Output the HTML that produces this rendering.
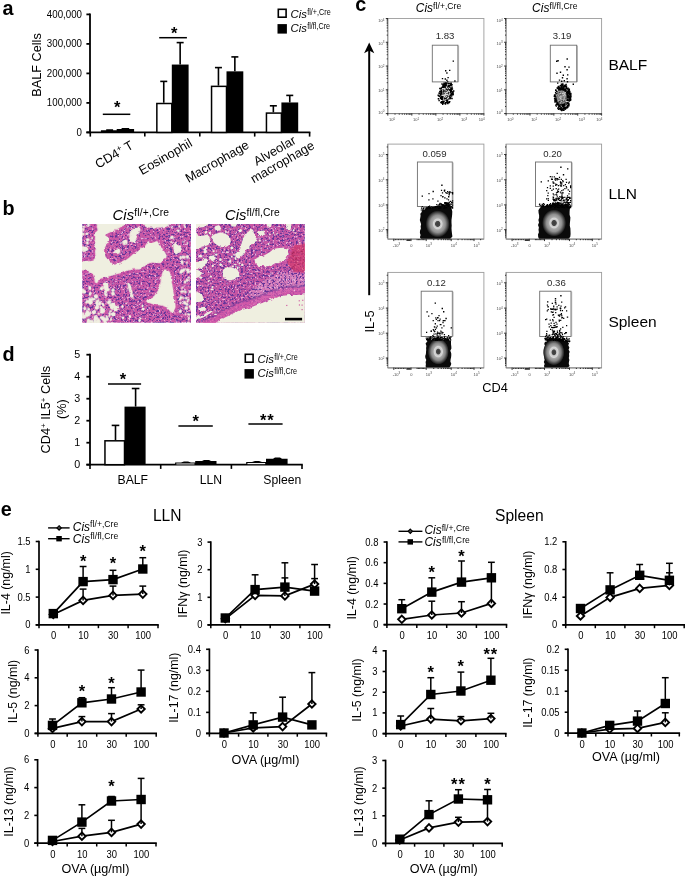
<!DOCTYPE html>
<html lang="en">
<head>
<meta charset="utf-8">
<title>Figure</title>
<style>
html,body{margin:0;padding:0;background:#fff;}
body{width:685px;height:877px;overflow:hidden;}
svg{display:block;}
svg text{font-family:"Liberation Sans", Arial, Helvetica, sans-serif;fill:#000;}
</style>
</head>
<body>
<svg width="685" height="877" viewBox="0 0 685 877">
<defs>
<radialGradient id="dg" cx="50%" cy="50%" r="50%">
<stop offset="0" stop-color="#3c3c3c"/>
<stop offset="0.19" stop-color="#484848"/>
<stop offset="0.25" stop-color="#c8c8c8"/>
<stop offset="0.36" stop-color="#d6d6d6"/>
<stop offset="0.44" stop-color="#acacac"/>
<stop offset="0.64" stop-color="#909090"/>
<stop offset="0.8" stop-color="#585858"/>
<stop offset="0.92" stop-color="#2a2a2a"/>
<stop offset="1" stop-color="#0a0a0a"/>
</radialGradient>
<radialGradient id="dg2" cx="50%" cy="50%" r="50%">
<stop offset="0" stop-color="#3c3c3c"/>
<stop offset="0.18" stop-color="#484848"/>
<stop offset="0.26" stop-color="#cacaca"/>
<stop offset="0.4" stop-color="#d6d6d6"/>
<stop offset="0.48" stop-color="#a8a8a8"/>
<stop offset="0.68" stop-color="#868686"/>
<stop offset="0.84" stop-color="#4a4a4a"/>
<stop offset="0.94" stop-color="#262626"/>
<stop offset="1" stop-color="#0a0a0a"/>
</radialGradient>
<filter id="tissue" x="0" y="0" width="100%" height="100%" color-interpolation-filters="sRGB">
<feTurbulence type="fractalNoise" baseFrequency="0.085" numOctaves="2" seed="11" result="n"/>
<feColorMatrix in="n" type="matrix" values="0 0 0 0 0.39  0 0 0 0 0.2  0 0 0 0 0.6  6 0 0 0 -2.95" result="nuc"/>
<feColorMatrix in="n" type="matrix" values="0 0 0 0 0.92  0 0 0 0 0.7  0 0 0 0 0.86  0 6 0 0 -3.55" result="pale"/>
<feMerge><feMergeNode in="SourceGraphic"/><feMergeNode in="nuc"/><feMergeNode in="pale"/></feMerge>
</filter>
<filter id="rough" x="-5%" y="-5%" width="110%" height="110%">
<feTurbulence type="fractalNoise" baseFrequency="0.045" numOctaves="2" seed="3" result="n"/>
<feDisplacementMap in="SourceGraphic" in2="n" scale="20" xChannelSelector="R" yChannelSelector="G"/>
</filter>
</defs>

<rect x="0" y="0" width="685" height="877" fill="#fff"/>
<g id="panel-a">
<text x="2.6" y="15" font-size="19.8" font-weight="bold">a</text>
<line x1="90.00" y1="13.50" x2="90.00" y2="133.30" stroke="#000" stroke-width="1.8" />
<line x1="86.40" y1="132.40" x2="90.00" y2="132.40" stroke="#000" stroke-width="1.8" />
<text transform="translate(82.00,135.80) scale(0.975,1)" font-size="10.0" text-anchor="end" >0</text>
<line x1="86.40" y1="102.90" x2="90.00" y2="102.90" stroke="#000" stroke-width="1.8" />
<text transform="translate(82.00,106.30) scale(0.975,1)" font-size="10.0" text-anchor="end" >100,000</text>
<line x1="86.40" y1="73.40" x2="90.00" y2="73.40" stroke="#000" stroke-width="1.8" />
<text transform="translate(82.00,76.80) scale(0.975,1)" font-size="10.0" text-anchor="end" >200,000</text>
<line x1="86.40" y1="43.90" x2="90.00" y2="43.90" stroke="#000" stroke-width="1.8" />
<text transform="translate(82.00,47.30) scale(0.975,1)" font-size="10.0" text-anchor="end" >300,000</text>
<line x1="86.40" y1="14.40" x2="90.00" y2="14.40" stroke="#000" stroke-width="1.8" />
<text transform="translate(82.00,17.80) scale(0.975,1)" font-size="10.0" text-anchor="end" >400,000</text>
<line x1="86.40" y1="132.40" x2="310.40" y2="132.40" stroke="#000" stroke-width="1.8" />
<line x1="90.30" y1="132.40" x2="90.30" y2="136.60" stroke="#000" stroke-width="1.6" />
<line x1="144.80" y1="132.40" x2="144.80" y2="136.60" stroke="#000" stroke-width="1.6" />
<line x1="199.80" y1="132.40" x2="199.80" y2="136.60" stroke="#000" stroke-width="1.6" />
<line x1="254.70" y1="132.40" x2="254.70" y2="136.60" stroke="#000" stroke-width="1.6" />
<line x1="309.60" y1="132.40" x2="309.60" y2="136.60" stroke="#000" stroke-width="1.6" />
<text transform="translate(41.30,65.00) rotate(-90)" font-size="12.7" text-anchor="middle" >BALF Cells</text>
<path d="M100.9,132.4 V130.2 H106.2 V129.2 H113.1 V130.2 H116.7 V128.9 H121.6 V127.9 H129.2 V128.9 H134.1 V132.4 Z" fill="#000"/>
<line x1="163.75" y1="102.75" x2="163.75" y2="81.40" stroke="#000" stroke-width="1.6" />
<line x1="160.25" y1="81.40" x2="167.25" y2="81.40" stroke="#000" stroke-width="1.6" />
<line x1="180.15" y1="64.55" x2="180.15" y2="42.60" stroke="#000" stroke-width="1.6" />
<line x1="176.65" y1="42.60" x2="183.65" y2="42.60" stroke="#000" stroke-width="1.6" />
<rect x="156.85" y="103.50" width="14.95" height="28.90" fill="#fff" stroke="#000" stroke-width="1.5" />
<rect x="171.80" y="64.55" width="16.80" height="67.85" fill="#000" stroke="none" stroke-width="0" />
<line x1="218.45" y1="85.61" x2="218.45" y2="67.60" stroke="#000" stroke-width="1.6" />
<line x1="214.95" y1="67.60" x2="221.95" y2="67.60" stroke="#000" stroke-width="1.6" />
<line x1="234.85" y1="71.34" x2="234.85" y2="56.90" stroke="#000" stroke-width="1.6" />
<line x1="231.35" y1="56.90" x2="238.35" y2="56.90" stroke="#000" stroke-width="1.6" />
<rect x="211.55" y="86.36" width="14.95" height="46.04" fill="#fff" stroke="#000" stroke-width="1.5" />
<rect x="226.50" y="71.34" width="16.80" height="61.06" fill="#000" stroke="none" stroke-width="0" />
<line x1="273.35" y1="112.34" x2="273.35" y2="105.80" stroke="#000" stroke-width="1.6" />
<line x1="269.85" y1="105.80" x2="276.85" y2="105.80" stroke="#000" stroke-width="1.6" />
<line x1="289.75" y1="102.46" x2="289.75" y2="95.40" stroke="#000" stroke-width="1.6" />
<line x1="286.25" y1="95.40" x2="293.25" y2="95.40" stroke="#000" stroke-width="1.6" />
<rect x="266.45" y="113.09" width="14.95" height="19.31" fill="#fff" stroke="#000" stroke-width="1.5" />
<rect x="281.40" y="102.46" width="16.80" height="29.94" fill="#000" stroke="none" stroke-width="0" />
<line x1="102.80" y1="114.30" x2="130.30" y2="114.30" stroke="#000" stroke-width="1.5" />
<text x="117.3" y="112.50" font-size="16.5" text-anchor="middle" font-weight="bold">*</text>
<line x1="159.20" y1="37.70" x2="186.90" y2="37.70" stroke="#000" stroke-width="1.5" />
<text x="174.1" y="38.50" font-size="16.5" text-anchor="middle" font-weight="bold">*</text>
<text transform="translate(134.4,147.8) rotate(-30)" font-size="12.8" text-anchor="end">CD4<tspan font-size="8.5" dy="-4.5">+</tspan><tspan dy="4.5"> T</tspan></text>
<text transform="translate(193.2,145.6) rotate(-30)" font-size="12.8" text-anchor="end">Eosinophil</text>
<text transform="translate(250.0,147.5) rotate(-30)" font-size="12.8" text-anchor="end">Macrophage</text>
<text transform="translate(276.8,154.4) rotate(-30)" font-size="12.8" text-anchor="middle">Alveolar</text>
<text transform="translate(284.6,165.7) rotate(-30)" font-size="12.8" text-anchor="middle">macrophage</text>
<rect x="278.30" y="9.30" width="7.80" height="7.90" fill="#fff" stroke="#000" stroke-width="1.6" />
<rect x="277.50" y="24.10" width="9.40" height="9.50" fill="#000" stroke="none" stroke-width="0" />
<text x="290.6" y="17.8" font-size="11.3" font-style="italic" >Cis</text>
<text transform="translate(307.22,14.70) scale(0.87,1)" font-size="8.3" >fl/+,Cre</text>
<text x="290.6" y="31.6" font-size="11.3" font-style="italic" >Cis</text>
<text transform="translate(307.22,28.50) scale(0.87,1)" font-size="8.3" >fl/fl,Cre</text>
</g>
<g id="panel-b">
<text x="2.6" y="215.0" font-size="19.8" font-weight="bold">b</text>
<text x="112.4" y="220.3" font-size="14.8" textLength="56.6" lengthAdjust="spacing" ><tspan font-style="italic">Cis</tspan><tspan font-size="10.3" dy="-4.3">fl/+,Cre</tspan></text>
<text x="224.9" y="220.3" font-size="14.8" textLength="54.9" lengthAdjust="spacing" ><tspan font-style="italic">Cis</tspan><tspan font-size="10.3" dy="-4.3">fl/fl,Cre</tspan></text>
<clipPath id="clipH1"><rect x="82.3" y="224.1" width="108.7" height="98.6"/></clipPath>
<g clip-path="url(#clipH1)">
<g transform="translate(80,222) scale(0.16642)">
<g filter="url(#tissue)">
<rect x="0" y="0" width="700" height="640" fill="#ca58a6"/>
</g>
<g filter="url(#rough)">
<path d="M100,-20 C129,-25 247,-26 275,-20 C303,-14 274,6 268,15 C262,24 251,26 240,33 C229,40 213,48 200,55 C187,62 165,66 160,75 C155,84 171,98 170,110 C169,122 159,136 155,145 C151,154 146,156 145,165 C144,174 146,190 150,200 C154,210 162,217 170,225 C178,233 188,245 195,250 C202,255 206,257 215,255 C224,253 239,245 250,240 C261,235 270,232 280,225 C290,218 300,208 310,200 C320,192 334,181 342,175 C350,169 352,170 360,165 C368,160 382,153 390,145 C398,137 404,118 410,115 C416,112 419,124 425,125 C431,126 438,122 445,120 C452,118 460,112 465,115 C470,118 470,128 475,135 C480,142 488,151 495,160 C502,169 511,182 515,190 C519,198 522,199 520,205 C518,211 507,218 500,225 C493,232 488,242 480,245 C472,248 459,245 450,245 C441,245 434,243 425,245 C416,247 403,250 395,255 C387,260 382,270 375,275 C368,280 364,283 355,285 C346,287 336,283 324,285 C312,287 296,290 280,295 C264,300 242,307 225,312 C208,317 194,321 180,325 C166,329 151,332 140,335 C129,338 121,340 115,345 C109,350 109,362 105,365 C101,368 93,367 90,362 C87,357 88,343 85,335 C82,327 81,319 75,312 C69,305 64,300 50,295 C36,290 0,296 -10,285 C-20,274 -17,240 -10,232 C-3,224 16,235 30,235 C44,235 65,234 75,230 C85,226 90,218 92,210 C94,202 90,189 90,180 C90,171 96,163 95,155 C94,147 86,139 85,130 C84,121 89,110 90,100 C91,90 90,79 92,70 C94,61 104,55 105,45 C106,35 101,23 100,12 C99,1 71,-15 100,-20 Z" fill="none" stroke="#d052a4" stroke-width="30" stroke-linejoin="round" opacity="0.62"/>
<path d="M507,285 C515,281 532,291 539,300 C546,309 546,323 549,340 C552,357 556,379 559,400 C562,421 566,447 569,465 C572,483 575,498 574,510 C573,522 569,535 564,540 C559,545 551,544 544,540 C537,536 532,521 524,515 C516,509 509,508 499,505 C489,502 474,502 464,500 C454,498 448,498 439,495 C430,492 417,487 409,485 C401,483 389,486 389,483 C389,480 400,471 409,465 C418,459 433,456 444,445 C455,434 467,414 474,400 C481,386 482,372 484,360 C486,348 485,338 489,325 C493,312 499,289 507,285 Z" fill="none" stroke="#d052a4" stroke-width="30" stroke-linejoin="round" opacity="0.62"/>
<path d="M100,-20 C129,-25 247,-26 275,-20 C303,-14 274,6 268,15 C262,24 251,26 240,33 C229,40 213,48 200,55 C187,62 165,66 160,75 C155,84 171,98 170,110 C169,122 159,136 155,145 C151,154 146,156 145,165 C144,174 146,190 150,200 C154,210 162,217 170,225 C178,233 188,245 195,250 C202,255 206,257 215,255 C224,253 239,245 250,240 C261,235 270,232 280,225 C290,218 300,208 310,200 C320,192 334,181 342,175 C350,169 352,170 360,165 C368,160 382,153 390,145 C398,137 404,118 410,115 C416,112 419,124 425,125 C431,126 438,122 445,120 C452,118 460,112 465,115 C470,118 470,128 475,135 C480,142 488,151 495,160 C502,169 511,182 515,190 C519,198 522,199 520,205 C518,211 507,218 500,225 C493,232 488,242 480,245 C472,248 459,245 450,245 C441,245 434,243 425,245 C416,247 403,250 395,255 C387,260 382,270 375,275 C368,280 364,283 355,285 C346,287 336,283 324,285 C312,287 296,290 280,295 C264,300 242,307 225,312 C208,317 194,321 180,325 C166,329 151,332 140,335 C129,338 121,340 115,345 C109,350 109,362 105,365 C101,368 93,367 90,362 C87,357 88,343 85,335 C82,327 81,319 75,312 C69,305 64,300 50,295 C36,290 0,296 -10,285 C-20,274 -17,240 -10,232 C-3,224 16,235 30,235 C44,235 65,234 75,230 C85,226 90,218 92,210 C94,202 90,189 90,180 C90,171 96,163 95,155 C94,147 86,139 85,130 C84,121 89,110 90,100 C91,90 90,79 92,70 C94,61 104,55 105,45 C106,35 101,23 100,12 C99,1 71,-15 100,-20 Z" fill="#efefe0" />
<path d="M507,285 C515,281 532,291 539,300 C546,309 546,323 549,340 C552,357 556,379 559,400 C562,421 566,447 569,465 C572,483 575,498 574,510 C573,522 569,535 564,540 C559,545 551,544 544,540 C537,536 532,521 524,515 C516,509 509,508 499,505 C489,502 474,502 464,500 C454,498 448,498 439,495 C430,492 417,487 409,485 C401,483 389,486 389,483 C389,480 400,471 409,465 C418,459 433,456 444,445 C455,434 467,414 474,400 C481,386 482,372 484,360 C486,348 485,338 489,325 C493,312 499,289 507,285 Z" fill="#efefe0" />
<path d="M298,70 C301,56 316,42 325,35 C334,28 348,25 355,28 C362,31 366,46 364,55 C362,64 350,70 345,80 C340,90 342,109 335,115 C328,121 311,126 305,118 C299,110 295,84 298,70 Z" fill="#efefe0" />
<path d="M390,-10 C412,-17 513,-16 535,-10 C557,-4 542,21 520,28 C498,35 422,36 400,30 C378,24 368,-3 390,-10 Z" fill="#efefe0" />
<path d="M255,115 C258,110 275,106 280,108 C285,110 288,125 285,130 C282,135 267,140 262,138 C257,136 252,120 255,115 Z" fill="#efefe0" />
<path d="M208,170 C212,165 231,157 236,160 C241,163 244,181 240,186 C236,191 219,195 214,192 C209,189 204,175 208,170 Z" fill="#efefe0" />
<path d="M564,125 C571,122 596,142 604,150 C612,158 614,168 610,175 C606,182 588,191 580,190 C572,189 567,181 564,170 C561,159 557,128 564,125 Z" fill="#efefe0" />
<path d="M545,85 C547,82 557,81 560,83 C563,85 564,94 562,97 C560,100 550,101 547,99 C544,97 543,88 545,85 Z" fill="#efefe0" />
<path d="M-10,145 C-2,140 31,146 40,150 C49,154 53,167 45,172 C37,177 -1,186 -10,182 C-19,178 -18,150 -10,145 Z" fill="#efefe0" />
<path d="M145,365 C150,360 167,362 170,370 C173,378 168,405 165,415 C162,425 154,432 150,430 C146,428 141,411 140,400 C139,389 140,370 145,365 Z" fill="#efefe0" />
<path d="M190,490 C196,488 225,502 230,510 C235,518 226,533 220,535 C214,537 200,528 195,520 C190,512 184,492 190,490 Z" fill="#efefe0" />
<path d="M285,375 C284,362 294,360 300,372 C306,384 321,437 322,450 C323,463 314,464 308,452 C302,440 286,388 285,375 Z" fill="#efefe0" />
</g>
<g fill="#efefe0"><ellipse cx="45" cy="543" rx="12" ry="10" transform="rotate(55 45 543)"/><ellipse cx="198" cy="497" rx="15" ry="8" transform="rotate(135 198 497)"/><ellipse cx="58" cy="396" rx="9" ry="11" transform="rotate(17 58 396)"/><ellipse cx="41" cy="557" rx="14" ry="12" transform="rotate(111 41 557)"/><ellipse cx="200" cy="554" rx="14" ry="12" transform="rotate(8 200 554)"/><ellipse cx="192" cy="511" rx="12" ry="12" transform="rotate(94 192 511)"/><ellipse cx="18" cy="554" rx="7" ry="13" transform="rotate(5 18 554)"/><ellipse cx="98" cy="514" rx="9" ry="10" transform="rotate(47 98 514)"/><ellipse cx="138" cy="496" rx="13" ry="7" transform="rotate(50 138 496)"/><ellipse cx="53" cy="603" rx="14" ry="13" transform="rotate(148 53 603)"/><ellipse cx="198" cy="410" rx="11" ry="11" transform="rotate(99 198 410)"/><ellipse cx="51" cy="593" rx="14" ry="10" transform="rotate(93 51 593)"/><ellipse cx="192" cy="503" rx="9" ry="10" transform="rotate(68 192 503)"/><ellipse cx="19" cy="415" rx="12" ry="15" transform="rotate(126 19 415)"/><ellipse cx="15" cy="410" rx="11" ry="11" transform="rotate(146 15 410)"/><ellipse cx="127" cy="515" rx="12" ry="8" transform="rotate(43 127 515)"/><ellipse cx="131" cy="574" rx="9" ry="13" transform="rotate(78 131 574)"/><ellipse cx="60" cy="431" rx="14" ry="8" transform="rotate(109 60 431)"/><ellipse cx="84" cy="542" rx="12" ry="14" transform="rotate(61 84 542)"/><ellipse cx="90" cy="608" rx="15" ry="11" transform="rotate(88 90 608)"/><ellipse cx="105" cy="476" rx="8" ry="14" transform="rotate(41 105 476)"/><ellipse cx="118" cy="489" rx="10" ry="13" transform="rotate(14 118 489)"/><ellipse cx="170" cy="406" rx="8" ry="9" transform="rotate(107 170 406)"/><ellipse cx="60" cy="480" rx="14" ry="12" transform="rotate(37 60 480)"/><ellipse cx="197" cy="555" rx="10" ry="8" transform="rotate(166 197 555)"/><ellipse cx="112" cy="552" rx="6" ry="8" transform="rotate(93 112 552)"/><ellipse cx="162" cy="585" rx="11" ry="10" transform="rotate(148 162 585)"/><ellipse cx="182" cy="498" rx="7" ry="11" transform="rotate(35 182 498)"/><ellipse cx="157" cy="397" rx="12" ry="15" transform="rotate(6 157 397)"/><ellipse cx="63" cy="465" rx="8" ry="15" transform="rotate(107 63 465)"/><ellipse cx="62" cy="482" rx="15" ry="14" transform="rotate(34 62 482)"/><ellipse cx="40" cy="480" rx="8" ry="12" transform="rotate(36 40 480)"/><ellipse cx="27" cy="421" rx="9" ry="9" transform="rotate(83 27 421)"/><ellipse cx="88" cy="586" rx="12" ry="8" transform="rotate(96 88 586)"/><ellipse cx="52" cy="555" rx="13" ry="11" transform="rotate(129 52 555)"/><ellipse cx="177" cy="561" rx="13" ry="6" transform="rotate(118 177 561)"/><ellipse cx="175" cy="481" rx="11" ry="14" transform="rotate(59 175 481)"/><ellipse cx="61" cy="545" rx="9" ry="6" transform="rotate(99 61 545)"/><ellipse cx="43" cy="551" rx="15" ry="13" transform="rotate(140 43 551)"/><ellipse cx="105" cy="518" rx="11" ry="7" transform="rotate(152 105 518)"/><ellipse cx="151" cy="603" rx="9" ry="12" transform="rotate(134 151 603)"/><ellipse cx="155" cy="436" rx="12" ry="9" transform="rotate(51 155 436)"/><ellipse cx="80" cy="463" rx="15" ry="7" transform="rotate(19 80 463)"/><ellipse cx="135" cy="530" rx="13" ry="15" transform="rotate(129 135 530)"/><ellipse cx="130" cy="399" rx="12" ry="10" transform="rotate(132 130 399)"/><ellipse cx="109" cy="583" rx="7" ry="6" transform="rotate(169 109 583)"/><ellipse cx="95" cy="448" rx="12" ry="13" transform="rotate(109 95 448)"/><ellipse cx="99" cy="446" rx="9" ry="10" transform="rotate(161 99 446)"/><ellipse cx="184" cy="536" rx="6" ry="8" transform="rotate(95 184 536)"/><ellipse cx="147" cy="586" rx="13" ry="12" transform="rotate(158 147 586)"/><ellipse cx="138" cy="580" rx="12" ry="12" transform="rotate(62 138 580)"/><ellipse cx="104" cy="502" rx="9" ry="9" transform="rotate(134 104 502)"/><ellipse cx="193" cy="608" rx="6" ry="9" transform="rotate(79 193 608)"/><ellipse cx="177" cy="549" rx="7" ry="8" transform="rotate(133 177 549)"/><ellipse cx="70" cy="598" rx="13" ry="10" transform="rotate(27 70 598)"/><ellipse cx="198" cy="431" rx="10" ry="12" transform="rotate(95 198 431)"/><ellipse cx="133" cy="542" rx="8" ry="15" transform="rotate(82 133 542)"/><ellipse cx="110" cy="598" rx="15" ry="14" transform="rotate(129 110 598)"/><ellipse cx="51" cy="524" rx="8" ry="9" transform="rotate(100 51 524)"/><ellipse cx="101" cy="489" rx="12" ry="9" transform="rotate(44 101 489)"/><ellipse cx="138" cy="529" rx="7" ry="15" transform="rotate(55 138 529)"/><ellipse cx="20" cy="569" rx="14" ry="12" transform="rotate(4 20 569)"/><ellipse cx="28" cy="520" rx="10" ry="10" transform="rotate(115 28 520)"/><ellipse cx="59" cy="397" rx="11" ry="7" transform="rotate(79 59 397)"/><ellipse cx="49" cy="475" rx="6" ry="7" transform="rotate(146 49 475)"/><ellipse cx="161" cy="572" rx="11" ry="6" transform="rotate(48 161 572)"/><ellipse cx="92" cy="585" rx="8" ry="11" transform="rotate(149 92 585)"/><ellipse cx="186" cy="585" rx="6" ry="11" transform="rotate(20 186 585)"/><ellipse cx="95" cy="574" rx="15" ry="12" transform="rotate(38 95 574)"/><ellipse cx="25" cy="570" rx="11" ry="12" transform="rotate(120 25 570)"/></g>
<g fill="#efefe0"><ellipse cx="646" cy="477" rx="6" ry="6" transform="rotate(73 646 477)"/><ellipse cx="620" cy="457" rx="11" ry="5" transform="rotate(17 620 457)"/><ellipse cx="613" cy="240" rx="11" ry="8" transform="rotate(90 613 240)"/><ellipse cx="604" cy="215" rx="8" ry="10" transform="rotate(167 604 215)"/><ellipse cx="627" cy="213" rx="7" ry="8" transform="rotate(64 627 213)"/><ellipse cx="628" cy="483" rx="10" ry="9" transform="rotate(20 628 483)"/><ellipse cx="622" cy="290" rx="9" ry="10" transform="rotate(155 622 290)"/><ellipse cx="636" cy="458" rx="6" ry="10" transform="rotate(126 636 458)"/><ellipse cx="633" cy="554" rx="8" ry="5" transform="rotate(71 633 554)"/><ellipse cx="646" cy="289" rx="10" ry="11" transform="rotate(136 646 289)"/><ellipse cx="641" cy="246" rx="7" ry="6" transform="rotate(118 641 246)"/><ellipse cx="664" cy="525" rx="5" ry="7" transform="rotate(157 664 525)"/><ellipse cx="618" cy="210" rx="8" ry="10" transform="rotate(46 618 210)"/><ellipse cx="663" cy="420" rx="11" ry="6" transform="rotate(131 663 420)"/><ellipse cx="638" cy="518" rx="10" ry="11" transform="rotate(92 638 518)"/><ellipse cx="662" cy="298" rx="9" ry="7" transform="rotate(171 662 298)"/><ellipse cx="655" cy="349" rx="6" ry="5" transform="rotate(108 655 349)"/><ellipse cx="665" cy="510" rx="12" ry="10" transform="rotate(27 665 510)"/><ellipse cx="614" cy="418" rx="8" ry="12" transform="rotate(75 614 418)"/><ellipse cx="608" cy="298" rx="8" ry="9" transform="rotate(126 608 298)"/><ellipse cx="651" cy="467" rx="7" ry="8" transform="rotate(96 651 467)"/><ellipse cx="615" cy="396" rx="5" ry="11" transform="rotate(52 615 396)"/><ellipse cx="602" cy="537" rx="9" ry="11" transform="rotate(35 602 537)"/><ellipse cx="650" cy="607" rx="8" ry="8" transform="rotate(0 650 607)"/><ellipse cx="653" cy="555" rx="7" ry="11" transform="rotate(117 653 555)"/><ellipse cx="613" cy="293" rx="10" ry="11" transform="rotate(123 613 293)"/><ellipse cx="646" cy="211" rx="11" ry="6" transform="rotate(85 646 211)"/><ellipse cx="631" cy="360" rx="9" ry="9" transform="rotate(177 631 360)"/><ellipse cx="605" cy="305" rx="6" ry="10" transform="rotate(117 605 305)"/><ellipse cx="654" cy="581" rx="6" ry="11" transform="rotate(19 654 581)"/><ellipse cx="651" cy="302" rx="6" ry="10" transform="rotate(67 651 302)"/><ellipse cx="607" cy="453" rx="10" ry="9" transform="rotate(34 607 453)"/><ellipse cx="634" cy="492" rx="7" ry="10" transform="rotate(85 634 492)"/><ellipse cx="663" cy="414" rx="5" ry="11" transform="rotate(72 663 414)"/><ellipse cx="604" cy="486" rx="8" ry="6" transform="rotate(154 604 486)"/><ellipse cx="645" cy="209" rx="10" ry="9" transform="rotate(113 645 209)"/><ellipse cx="633" cy="420" rx="9" ry="8" transform="rotate(5 633 420)"/><ellipse cx="643" cy="350" rx="7" ry="10" transform="rotate(162 643 350)"/><ellipse cx="644" cy="495" rx="9" ry="8" transform="rotate(59 644 495)"/><ellipse cx="601" cy="464" rx="8" ry="7" transform="rotate(150 601 464)"/><ellipse cx="661" cy="507" rx="7" ry="6" transform="rotate(3 661 507)"/><ellipse cx="654" cy="334" rx="7" ry="7" transform="rotate(12 654 334)"/><ellipse cx="631" cy="283" rx="5" ry="6" transform="rotate(39 631 283)"/><ellipse cx="615" cy="246" rx="9" ry="6" transform="rotate(103 615 246)"/></g>
<g fill="#efefe0"><ellipse cx="23" cy="28" rx="9" ry="6" transform="rotate(4 23 28)"/><ellipse cx="20" cy="42" rx="9" ry="6" transform="rotate(52 20 42)"/><ellipse cx="47" cy="105" rx="11" ry="9" transform="rotate(2 47 105)"/><ellipse cx="44" cy="125" rx="10" ry="9" transform="rotate(106 44 125)"/><ellipse cx="17" cy="72" rx="10" ry="10" transform="rotate(148 17 72)"/><ellipse cx="51" cy="18" rx="9" ry="10" transform="rotate(65 51 18)"/><ellipse cx="73" cy="97" rx="8" ry="6" transform="rotate(87 73 97)"/><ellipse cx="42" cy="71" rx="7" ry="10" transform="rotate(75 42 71)"/><ellipse cx="18" cy="47" rx="6" ry="7" transform="rotate(35 18 47)"/></g>
<g fill="#efefe0"><ellipse cx="632" cy="31" rx="6" ry="5" transform="rotate(169 632 31)"/><ellipse cx="620" cy="119" rx="4" ry="8" transform="rotate(108 620 119)"/><ellipse cx="596" cy="26" rx="9" ry="5" transform="rotate(93 596 26)"/><ellipse cx="627" cy="19" rx="7" ry="7" transform="rotate(111 627 19)"/><ellipse cx="548" cy="120" rx="6" ry="5" transform="rotate(8 548 120)"/><ellipse cx="552" cy="33" rx="9" ry="4" transform="rotate(59 552 33)"/><ellipse cx="646" cy="126" rx="5" ry="6" transform="rotate(96 646 126)"/><ellipse cx="548" cy="95" rx="8" ry="5" transform="rotate(94 548 95)"/><ellipse cx="591" cy="52" rx="8" ry="8" transform="rotate(37 591 52)"/></g>
<g fill="#efefe0"><ellipse cx="258" cy="575" rx="7" ry="8" transform="rotate(20 258 575)"/><ellipse cx="376" cy="504" rx="9" ry="6" transform="rotate(97 376 504)"/><ellipse cx="364" cy="580" rx="8" ry="4" transform="rotate(147 364 580)"/><ellipse cx="255" cy="507" rx="8" ry="7" transform="rotate(59 255 507)"/><ellipse cx="358" cy="592" rx="8" ry="8" transform="rotate(48 358 592)"/><ellipse cx="300" cy="568" rx="7" ry="9" transform="rotate(167 300 568)"/><ellipse cx="380" cy="523" rx="9" ry="8" transform="rotate(132 380 523)"/><ellipse cx="277" cy="489" rx="4" ry="4" transform="rotate(116 277 489)"/></g>
</g></g>
<clipPath id="clipH2"><rect x="196.0" y="224.1" width="108.8" height="98.6"/></clipPath>
<g clip-path="url(#clipH2)">
<g transform="translate(194,222) scale(0.16642)">
<g filter="url(#tissue)">
<rect x="0" y="0" width="700" height="640" fill="#c656a4"/>
<path d="M330,420 C400,350 500,300 600,300 L672,320 L672,400 C560,410 450,450 360,500 Z" fill="#e6a6d2" opacity="0.45"/>
</g>
<g filter="url(#rough)">
<path d="M594,150 C613,140 674,118 690,140 C706,162 701,255 690,282 C679,309 642,300 624,300 C606,300 595,290 584,280 C573,270 562,253 560,240 C558,227 568,215 574,200 C580,185 575,160 594,150 Z" fill="#d63c6c" opacity="0.72"/>
<path d="M60,618 L135,581 L175,558 L225,533 L275,508 L324,498 L374,478 L424,458 L474,438 L524,423 L574,416 L624,416 L700,408" fill="none" stroke="#d658aa" stroke-width="46" opacity="0.7"/>
<path d="M60,590 L135,553 L175,530 L225,505 L275,480 L324,470 L374,450 L424,430 L474,410 L524,395 L574,388 L624,388 L700,380" fill="none" stroke="#643392" stroke-width="8" opacity="0.7"/>
<path d="M364,235 C363,228 366,225 374,220 C382,215 402,211 414,205 C426,199 438,192 449,185 C460,178 466,170 479,165 C492,160 510,156 524,155 C538,154 556,155 564,160 C572,165 570,177 569,185 C568,193 563,202 559,210 C555,218 552,229 544,235 C536,241 524,242 514,245 C504,248 495,247 484,250 C473,253 461,262 449,265 C437,268 426,266 414,265 C402,264 387,265 379,260 C371,255 365,242 364,235 Z" fill="none" stroke="#d052a4" stroke-width="24" opacity="0.6"/>
</g>
<g filter="url(#rough)">
<path d="M60,640 L135,603 L175,580 L225,555 L275,530 L324,520 L374,500 L424,480 L474,460 L524,445 L574,438 L624,438 L700,430 L700,640 Z" fill="#efefe0"/>
<path d="M364,235 C363,228 366,225 374,220 C382,215 402,211 414,205 C426,199 438,192 449,185 C460,178 466,170 479,165 C492,160 510,156 524,155 C538,154 556,155 564,160 C572,165 570,177 569,185 C568,193 563,202 559,210 C555,218 552,229 544,235 C536,241 524,242 514,245 C504,248 495,247 484,250 C473,253 461,262 449,265 C437,268 426,266 414,265 C402,264 387,265 379,260 C371,255 365,242 364,235 Z" fill="#efefe0" />
<path d="M172,300 C173,292 174,287 180,282 C186,277 198,272 210,272 C222,272 240,275 250,280 C260,285 265,292 268,300 C271,308 275,318 270,325 C265,332 252,341 240,345 C228,349 211,352 200,350 C189,348 180,338 175,330 C170,322 171,308 172,300 Z" fill="#efefe0" />
<path d="M342,45 C349,41 350,44 354,50 C358,56 360,69 364,80 C368,91 382,107 380,115 C378,123 360,125 354,130 C348,135 349,138 342,145 C335,152 320,165 310,175 C300,185 292,202 285,205 C278,208 271,204 270,195 C269,186 276,166 280,150 C284,134 290,112 295,100 C300,88 302,84 310,75 C318,66 335,49 342,45 Z" fill="#efefe0" />
<path d="M380,60 C384,55 407,52 414,55 C421,58 428,70 424,75 C420,80 397,88 390,85 C383,82 376,65 380,60 Z" fill="#efefe0" />
<path d="M-10,-10 C5,-18 66,-17 80,-10 C94,-3 81,23 75,30 C69,37 59,30 45,32 C31,34 -1,47 -10,40 C-19,33 -25,-2 -10,-10 Z" fill="#efefe0" />
<path d="M-10,75 C0,61 35,82 50,82 C65,82 72,72 80,75 C88,78 95,90 97,100 C99,110 97,124 92,132 C87,140 75,141 65,145 C55,149 42,154 30,157 C18,160 -3,179 -10,165 C-17,151 -20,89 -10,75 Z" fill="#efefe0" />
<path d="M115,80 C123,72 149,64 165,65 C181,66 201,76 210,85 C219,94 222,110 220,120 C218,130 209,140 200,145 C191,150 176,152 165,150 C154,148 143,141 135,135 C127,129 118,124 115,115 C112,106 107,88 115,80 Z" fill="#efefe0" />
<path d="M125,30 C128,24 144,18 150,20 C156,22 162,39 160,45 C158,51 141,58 135,55 C129,52 122,36 125,30 Z" fill="#efefe0" />
<path d="M220,-10 C226,-15 257,-16 262,-10 C267,-4 258,19 252,24 C246,29 231,28 226,22 C221,16 214,-5 220,-10 Z" fill="#efefe0" />
<path d="M-10,235 C-2,230 28,242 40,240 C52,238 53,222 60,220 C67,218 79,218 80,225 C81,232 72,251 65,260 C58,269 52,278 40,280 C28,282 -2,278 -10,270 C-18,262 -18,240 -10,235 Z" fill="#efefe0" />
<path d="M95,210 C97,204 114,198 120,200 C126,202 132,214 130,220 C128,226 116,237 110,235 C104,233 93,216 95,210 Z" fill="#efefe0" />
<path d="M-10,300 C-1,294 38,295 45,300 C52,305 39,324 30,330 C21,336 -3,340 -10,335 C-17,330 -19,306 -10,300 Z" fill="#efefe0" />
<path d="M-10,415 C-1,408 34,426 45,435 C56,444 58,462 55,470 C52,478 41,479 30,480 C19,481 -3,486 -10,475 C-17,464 -19,422 -10,415 Z" fill="#efefe0" />
<path d="M30,520 C34,515 58,508 65,510 C72,512 74,525 70,530 C66,535 47,542 40,540 C33,538 26,525 30,520 Z" fill="#efefe0" />
<path d="M-10,570 C-2,566 22,571 40,565 C58,559 89,539 100,535 C111,531 115,534 107,541 C99,548 70,568 50,576 C30,584 0,587 -10,586 C-20,585 -18,574 -10,570 Z" fill="#efefe0" />
<path d="M552,-10 C556,-18 579,-19 584,-10 C589,-1 584,37 580,45 C576,53 565,49 560,40 C555,31 548,-2 552,-10 Z" fill="#efefe0" />
<path d="M436,-10 C441,-15 466,-16 470,-10 C474,-4 467,19 462,24 C457,29 444,28 440,22 C436,16 431,-5 436,-10 Z" fill="#efefe0" />
<path d="M250,190 C253,185 266,182 270,186 C274,190 277,207 274,212 C271,217 258,220 254,216 C250,212 247,195 250,190 Z" fill="#efefe0" />
</g>
<g fill="#efefe0"><ellipse cx="46" cy="140" rx="4" ry="6" transform="rotate(45 46 140)"/><ellipse cx="160" cy="93" rx="7" ry="8" transform="rotate(105 160 93)"/><ellipse cx="233" cy="267" rx="7" ry="6" transform="rotate(1 233 267)"/><ellipse cx="215" cy="236" rx="10" ry="6" transform="rotate(160 215 236)"/><ellipse cx="274" cy="248" rx="6" ry="6" transform="rotate(135 274 248)"/><ellipse cx="113" cy="263" rx="6" ry="8" transform="rotate(23 113 263)"/><ellipse cx="94" cy="222" rx="4" ry="6" transform="rotate(42 94 222)"/><ellipse cx="240" cy="198" rx="7" ry="4" transform="rotate(7 240 198)"/><ellipse cx="64" cy="166" rx="7" ry="9" transform="rotate(82 64 166)"/><ellipse cx="192" cy="59" rx="9" ry="5" transform="rotate(78 192 59)"/><ellipse cx="132" cy="101" rx="8" ry="6" transform="rotate(75 132 101)"/><ellipse cx="227" cy="208" rx="5" ry="6" transform="rotate(77 227 208)"/><ellipse cx="249" cy="219" rx="5" ry="10" transform="rotate(158 249 219)"/><ellipse cx="290" cy="258" rx="7" ry="8" transform="rotate(46 290 258)"/><ellipse cx="67" cy="178" rx="10" ry="9" transform="rotate(124 67 178)"/><ellipse cx="38" cy="204" rx="7" ry="9" transform="rotate(42 38 204)"/><ellipse cx="248" cy="256" rx="8" ry="4" transform="rotate(7 248 256)"/><ellipse cx="297" cy="153" rx="8" ry="4" transform="rotate(16 297 153)"/><ellipse cx="263" cy="276" rx="10" ry="5" transform="rotate(104 263 276)"/><ellipse cx="118" cy="175" rx="6" ry="7" transform="rotate(67 118 175)"/><ellipse cx="67" cy="93" rx="9" ry="5" transform="rotate(17 67 93)"/><ellipse cx="279" cy="52" rx="10" ry="8" transform="rotate(142 279 52)"/><ellipse cx="89" cy="108" rx="7" ry="5" transform="rotate(136 89 108)"/><ellipse cx="160" cy="256" rx="8" ry="9" transform="rotate(117 160 256)"/><ellipse cx="112" cy="91" rx="9" ry="8" transform="rotate(121 112 91)"/><ellipse cx="94" cy="66" rx="7" ry="6" transform="rotate(150 94 66)"/><ellipse cx="227" cy="156" rx="9" ry="8" transform="rotate(67 227 156)"/><ellipse cx="72" cy="62" rx="7" ry="10" transform="rotate(42 72 62)"/><ellipse cx="41" cy="206" rx="6" ry="9" transform="rotate(108 41 206)"/><ellipse cx="185" cy="86" rx="7" ry="5" transform="rotate(154 185 86)"/><ellipse cx="198" cy="181" rx="5" ry="6" transform="rotate(16 198 181)"/><ellipse cx="72" cy="157" rx="8" ry="7" transform="rotate(141 72 157)"/><ellipse cx="159" cy="226" rx="8" ry="8" transform="rotate(178 159 226)"/><ellipse cx="134" cy="196" rx="8" ry="6" transform="rotate(177 134 196)"/></g>
<g fill="#efefe0"><ellipse cx="40" cy="334" rx="7" ry="9" transform="rotate(106 40 334)"/><ellipse cx="43" cy="468" rx="9" ry="9" transform="rotate(161 43 468)"/><ellipse cx="111" cy="391" rx="5" ry="7" transform="rotate(59 111 391)"/><ellipse cx="23" cy="381" rx="5" ry="5" transform="rotate(109 23 381)"/><ellipse cx="89" cy="354" rx="4" ry="8" transform="rotate(47 89 354)"/><ellipse cx="29" cy="463" rx="8" ry="4" transform="rotate(148 29 463)"/><ellipse cx="39" cy="447" rx="7" ry="7" transform="rotate(21 39 447)"/><ellipse cx="19" cy="294" rx="7" ry="8" transform="rotate(145 19 294)"/><ellipse cx="102" cy="327" rx="5" ry="8" transform="rotate(118 102 327)"/><ellipse cx="129" cy="555" rx="4" ry="9" transform="rotate(97 129 555)"/><ellipse cx="108" cy="405" rx="5" ry="9" transform="rotate(87 108 405)"/><ellipse cx="31" cy="468" rx="7" ry="8" transform="rotate(25 31 468)"/></g>
<g fill="#efefe0"><ellipse cx="413" cy="56" rx="3" ry="5" transform="rotate(167 413 56)"/><ellipse cx="477" cy="65" rx="6" ry="4" transform="rotate(102 477 65)"/><ellipse cx="395" cy="111" rx="7" ry="5" transform="rotate(37 395 111)"/><ellipse cx="483" cy="77" rx="4" ry="3" transform="rotate(101 483 77)"/><ellipse cx="499" cy="71" rx="5" ry="4" transform="rotate(158 499 71)"/><ellipse cx="611" cy="66" rx="6" ry="3" transform="rotate(147 611 66)"/><ellipse cx="456" cy="74" rx="4" ry="6" transform="rotate(109 456 74)"/><ellipse cx="447" cy="132" rx="6" ry="5" transform="rotate(87 447 132)"/><ellipse cx="636" cy="125" rx="6" ry="4" transform="rotate(72 636 125)"/><ellipse cx="598" cy="50" rx="5" ry="7" transform="rotate(23 598 50)"/></g>
<g fill="#f0c4e2"><ellipse cx="654" cy="308" rx="2" ry="3" transform="rotate(167 654 308)"/><ellipse cx="485" cy="395" rx="5" ry="3" transform="rotate(58 485 395)"/><ellipse cx="504" cy="309" rx="5" ry="3" transform="rotate(19 504 309)"/><ellipse cx="396" cy="375" rx="4" ry="5" transform="rotate(131 396 375)"/><ellipse cx="462" cy="313" rx="4" ry="5" transform="rotate(22 462 313)"/><ellipse cx="595" cy="348" rx="5" ry="5" transform="rotate(126 595 348)"/><ellipse cx="393" cy="396" rx="3" ry="4" transform="rotate(4 393 396)"/><ellipse cx="386" cy="388" rx="2" ry="4" transform="rotate(153 386 388)"/><ellipse cx="560" cy="324" rx="2" ry="3" transform="rotate(23 560 324)"/><ellipse cx="603" cy="410" rx="5" ry="4" transform="rotate(9 603 410)"/><ellipse cx="557" cy="400" rx="3" ry="3" transform="rotate(98 557 400)"/><ellipse cx="470" cy="307" rx="5" ry="4" transform="rotate(69 470 307)"/><ellipse cx="338" cy="365" rx="2" ry="5" transform="rotate(141 338 365)"/><ellipse cx="644" cy="346" rx="5" ry="3" transform="rotate(20 644 346)"/><ellipse cx="522" cy="332" rx="4" ry="2" transform="rotate(81 522 332)"/><ellipse cx="431" cy="386" rx="2" ry="4" transform="rotate(43 431 386)"/><ellipse cx="518" cy="399" rx="4" ry="2" transform="rotate(157 518 399)"/><ellipse cx="503" cy="395" rx="5" ry="3" transform="rotate(177 503 395)"/><ellipse cx="541" cy="310" rx="4" ry="3" transform="rotate(121 541 310)"/><ellipse cx="589" cy="330" rx="3" ry="4" transform="rotate(87 589 330)"/><ellipse cx="410" cy="380" rx="3" ry="2" transform="rotate(122 410 380)"/><ellipse cx="564" cy="376" rx="3" ry="4" transform="rotate(0 564 376)"/><ellipse cx="505" cy="358" rx="3" ry="5" transform="rotate(36 505 358)"/><ellipse cx="390" cy="400" rx="2" ry="5" transform="rotate(147 390 400)"/><ellipse cx="404" cy="411" rx="4" ry="3" transform="rotate(93 404 411)"/><ellipse cx="612" cy="338" rx="5" ry="2" transform="rotate(89 612 338)"/></g>
<g fill="#a8285a"><ellipse cx="612" cy="241" rx="3" ry="3" transform="rotate(94 612 241)"/><ellipse cx="606" cy="258" rx="3" ry="5" transform="rotate(87 606 258)"/><ellipse cx="658" cy="164" rx="4" ry="3" transform="rotate(66 658 164)"/><ellipse cx="640" cy="229" rx="3" ry="4" transform="rotate(80 640 229)"/><ellipse cx="616" cy="226" rx="4" ry="2" transform="rotate(9 616 226)"/><ellipse cx="652" cy="179" rx="4" ry="3" transform="rotate(134 652 179)"/><ellipse cx="602" cy="276" rx="3" ry="4" transform="rotate(58 602 276)"/><ellipse cx="602" cy="265" rx="4" ry="2" transform="rotate(123 602 265)"/><ellipse cx="599" cy="227" rx="4" ry="3" transform="rotate(109 599 227)"/><ellipse cx="663" cy="194" rx="2" ry="3" transform="rotate(120 663 194)"/><ellipse cx="654" cy="182" rx="3" ry="3" transform="rotate(162 654 182)"/><ellipse cx="617" cy="181" rx="4" ry="3" transform="rotate(177 617 181)"/><ellipse cx="654" cy="187" rx="4" ry="3" transform="rotate(154 654 187)"/><ellipse cx="653" cy="247" rx="3" ry="4" transform="rotate(96 653 247)"/><ellipse cx="603" cy="202" rx="2" ry="3" transform="rotate(144 603 202)"/><ellipse cx="657" cy="226" rx="5" ry="3" transform="rotate(80 657 226)"/><ellipse cx="596" cy="205" rx="4" ry="4" transform="rotate(133 596 205)"/><ellipse cx="594" cy="199" rx="3" ry="4" transform="rotate(82 594 199)"/><ellipse cx="637" cy="162" rx="4" ry="2" transform="rotate(77 637 162)"/><ellipse cx="625" cy="255" rx="5" ry="4" transform="rotate(18 625 255)"/><ellipse cx="592" cy="189" rx="4" ry="3" transform="rotate(157 592 189)"/><ellipse cx="643" cy="179" rx="3" ry="3" transform="rotate(145 643 179)"/><ellipse cx="596" cy="267" rx="3" ry="4" transform="rotate(34 596 267)"/><ellipse cx="628" cy="212" rx="4" ry="2" transform="rotate(166 628 212)"/><ellipse cx="656" cy="279" rx="4" ry="4" transform="rotate(88 656 279)"/><ellipse cx="600" cy="184" rx="4" ry="5" transform="rotate(131 600 184)"/><ellipse cx="597" cy="181" rx="3" ry="3" transform="rotate(151 597 181)"/><ellipse cx="610" cy="227" rx="3" ry="3" transform="rotate(164 610 227)"/><ellipse cx="593" cy="187" rx="2" ry="3" transform="rotate(123 593 187)"/><ellipse cx="640" cy="215" rx="2" ry="4" transform="rotate(137 640 215)"/><ellipse cx="617" cy="246" rx="4" ry="2" transform="rotate(9 617 246)"/><ellipse cx="614" cy="218" rx="4" ry="5" transform="rotate(94 614 218)"/><ellipse cx="591" cy="279" rx="3" ry="5" transform="rotate(4 591 279)"/><ellipse cx="658" cy="247" rx="4" ry="4" transform="rotate(88 658 247)"/><ellipse cx="600" cy="207" rx="2" ry="2" transform="rotate(36 600 207)"/><ellipse cx="647" cy="176" rx="5" ry="4" transform="rotate(114 647 176)"/><ellipse cx="630" cy="191" rx="4" ry="2" transform="rotate(9 630 191)"/><ellipse cx="666" cy="203" rx="3" ry="3" transform="rotate(95 666 203)"/><ellipse cx="640" cy="268" rx="4" ry="3" transform="rotate(58 640 268)"/><ellipse cx="637" cy="218" rx="3" ry="3" transform="rotate(16 637 218)"/></g>
<g fill="#f08aa6"><ellipse cx="656" cy="182" rx="4" ry="2" transform="rotate(155 656 182)"/><ellipse cx="622" cy="238" rx="3" ry="3" transform="rotate(49 622 238)"/><ellipse cx="620" cy="206" rx="3" ry="2" transform="rotate(161 620 206)"/><ellipse cx="652" cy="279" rx="2" ry="4" transform="rotate(113 652 279)"/><ellipse cx="625" cy="247" rx="2" ry="3" transform="rotate(77 625 247)"/><ellipse cx="638" cy="192" rx="2" ry="3" transform="rotate(25 638 192)"/><ellipse cx="595" cy="160" rx="4" ry="3" transform="rotate(10 595 160)"/><ellipse cx="661" cy="251" rx="3" ry="3" transform="rotate(130 661 251)"/><ellipse cx="638" cy="271" rx="2" ry="2" transform="rotate(155 638 271)"/><ellipse cx="652" cy="160" rx="3" ry="3" transform="rotate(116 652 160)"/><ellipse cx="662" cy="277" rx="2" ry="2" transform="rotate(63 662 277)"/><ellipse cx="630" cy="264" rx="4" ry="2" transform="rotate(34 630 264)"/><ellipse cx="611" cy="270" rx="2" ry="2" transform="rotate(38 611 270)"/><ellipse cx="665" cy="205" rx="3" ry="3" transform="rotate(129 665 205)"/><ellipse cx="628" cy="164" rx="3" ry="4" transform="rotate(105 628 164)"/><ellipse cx="634" cy="170" rx="2" ry="2" transform="rotate(116 634 170)"/></g>
<g fill="#cf5aa0"><rect x="629" y="470" width="7" height="7"/><rect x="650" y="467" width="7" height="7"/><rect x="630" y="495" width="7" height="7"/><rect x="646" y="496" width="7" height="7"/><rect x="554" y="498" width="7" height="7"/><rect x="646" y="523" width="7" height="7"/></g>
</g>
<rect x="285.00" y="317.80" width="17.10" height="2.60" fill="#000" stroke="none" stroke-width="0" />
</g>
</g>
<g id="panel-c">
<text x="355.2" y="11.4" font-size="19.8" font-weight="bold">c</text>
<text x="415.8" y="12.0" font-size="11.9" textLength="45.5" lengthAdjust="spacing" ><tspan font-style="italic">Cis</tspan><tspan font-size="8.6" dy="-3.3">fl/+,Cre</tspan></text>
<text x="532.0" y="12.0" font-size="11.9" textLength="45.5" lengthAdjust="spacing" ><tspan font-style="italic">Cis</tspan><tspan font-size="8.6" dy="-3.3">fl/fl,Cre</tspan></text>
<line x1="369.20" y1="47.00" x2="369.20" y2="295.20" stroke="#000" stroke-width="2.0" />
<path d="M369.2,42.6 L374.3,53.2 L369.2,50.6 L364.1,53.2 Z" fill="#000"/>
<text transform="translate(374.40,321.40) rotate(-90)" font-size="12.8" text-anchor="middle" >IL-5</text>
<text x="495.00" y="392.00" font-size="12.8" text-anchor="middle" >CD4</text>
<text x="608.40" y="70.20" font-size="15.5" text-anchor="start" >BALF</text>
<text x="608.40" y="198.50" font-size="15.5" text-anchor="start" >LLN</text>
<text x="608.40" y="326.50" font-size="15.5" text-anchor="start" >Spleen</text>
<rect x="387.80" y="18.50" width="96.10" height="95.10" fill="none" stroke="#9c9c9c" stroke-width="0.9" />
<line x1="387.80" y1="18.50" x2="387.80" y2="113.60" stroke="#8a8a8a" stroke-width="0.9" />
<line x1="387.80" y1="113.60" x2="483.90" y2="113.60" stroke="#7a7a7a" stroke-width="0.9" />
<text x="392.0" y="121.3" font-size="4.0" text-anchor="middle" style="fill:#4a4a4a">10<tspan font-size="3.0" dy="-1.6">0</tspan></text>
<text x="384.3" y="113.6" font-size="4.0" text-anchor="end" style="fill:#4a4a4a">10<tspan font-size="3.0" dy="-1.6">0</tspan></text>
<text x="416.0" y="121.3" font-size="4.0" text-anchor="middle" style="fill:#4a4a4a">10<tspan font-size="3.0" dy="-1.6">1</tspan></text>
<text x="384.3" y="92.2" font-size="4.0" text-anchor="end" style="fill:#4a4a4a">10<tspan font-size="3.0" dy="-1.6">1</tspan></text>
<text x="440.1" y="121.3" font-size="4.0" text-anchor="middle" style="fill:#4a4a4a">10<tspan font-size="3.0" dy="-1.6">2</tspan></text>
<text x="384.3" y="68.4" font-size="4.0" text-anchor="end" style="fill:#4a4a4a">10<tspan font-size="3.0" dy="-1.6">2</tspan></text>
<text x="464.1" y="121.3" font-size="4.0" text-anchor="middle" style="fill:#4a4a4a">10<tspan font-size="3.0" dy="-1.6">3</tspan></text>
<text x="384.3" y="44.7" font-size="4.0" text-anchor="end" style="fill:#4a4a4a">10<tspan font-size="3.0" dy="-1.6">3</tspan></text>
<text x="481.7" y="121.3" font-size="4.0" text-anchor="middle" style="fill:#4a4a4a">10<tspan font-size="3.0" dy="-1.6">4</tspan></text>
<text x="384.3" y="22.1" font-size="4.0" text-anchor="end" style="fill:#4a4a4a">10<tspan font-size="3.0" dy="-1.6">4</tspan></text>
<path d="M387.80,113.30v2.3M388.10,113.60h-2.3M395.03,113.60v1.1M387.80,106.44h-1.1M399.26,113.60v1.1M387.80,102.26h-1.1M402.26,113.60v1.1M387.80,99.29h-1.1M404.59,113.60v1.1M387.80,96.98h-1.1M406.50,113.60v1.1M387.80,95.10h-1.1M408.10,113.60v1.1M387.80,93.51h-1.1M409.50,113.60v1.1M387.80,92.13h-1.1M410.73,113.60v1.1M387.80,90.91h-1.1M411.82,113.30v2.3M388.10,89.82h-2.3M419.06,113.60v1.1M387.80,82.67h-1.1M423.29,113.60v1.1M387.80,78.48h-1.1M426.29,113.60v1.1M387.80,75.51h-1.1M428.62,113.60v1.1M387.80,73.21h-1.1M430.52,113.60v1.1M387.80,71.32h-1.1M432.13,113.60v1.1M387.80,69.73h-1.1M433.52,113.60v1.1M387.80,68.35h-1.1M434.75,113.60v1.1M387.80,67.14h-1.1M435.85,113.30v2.3M388.10,66.05h-2.3M443.08,113.60v1.1M387.80,58.89h-1.1M447.31,113.60v1.1M387.80,54.71h-1.1M450.31,113.60v1.1M387.80,51.74h-1.1M452.64,113.60v1.1M387.80,49.43h-1.1M454.55,113.60v1.1M387.80,47.55h-1.1M456.15,113.60v1.1M387.80,45.96h-1.1M457.55,113.60v1.1M387.80,44.58h-1.1M458.78,113.60v1.1M387.80,43.36h-1.1M459.88,113.30v2.3M388.10,42.28h-2.3M467.11,113.60v1.1M387.80,35.12h-1.1M471.34,113.60v1.1M387.80,30.93h-1.1M474.34,113.60v1.1M387.80,27.96h-1.1M476.67,113.60v1.1M387.80,25.66h-1.1M478.57,113.60v1.1M387.80,23.77h-1.1M480.18,113.60v1.1M387.80,22.18h-1.1M481.57,113.60v1.1M387.80,20.80h-1.1M482.80,113.60v1.1M387.80,19.59h-1.1M483.90,113.30v2.3M388.10,18.50h-2.3" stroke="#1a1a1a" stroke-width="0.9" fill="none"/>
<rect x="506.10" y="18.50" width="95.50" height="95.10" fill="none" stroke="#9c9c9c" stroke-width="0.9" />
<line x1="506.10" y1="18.50" x2="506.10" y2="113.60" stroke="#8a8a8a" stroke-width="0.9" />
<line x1="506.10" y1="113.60" x2="601.60" y2="113.60" stroke="#7a7a7a" stroke-width="0.9" />
<text x="510.3" y="121.3" font-size="4.0" text-anchor="middle" style="fill:#4a4a4a">10<tspan font-size="3.0" dy="-1.6">0</tspan></text>
<text x="502.6" y="113.6" font-size="4.0" text-anchor="end" style="fill:#4a4a4a">10<tspan font-size="3.0" dy="-1.6">0</tspan></text>
<text x="534.2" y="121.3" font-size="4.0" text-anchor="middle" style="fill:#4a4a4a">10<tspan font-size="3.0" dy="-1.6">1</tspan></text>
<text x="502.6" y="92.2" font-size="4.0" text-anchor="end" style="fill:#4a4a4a">10<tspan font-size="3.0" dy="-1.6">1</tspan></text>
<text x="558.1" y="121.3" font-size="4.0" text-anchor="middle" style="fill:#4a4a4a">10<tspan font-size="3.0" dy="-1.6">2</tspan></text>
<text x="502.6" y="68.4" font-size="4.0" text-anchor="end" style="fill:#4a4a4a">10<tspan font-size="3.0" dy="-1.6">2</tspan></text>
<text x="581.9" y="121.3" font-size="4.0" text-anchor="middle" style="fill:#4a4a4a">10<tspan font-size="3.0" dy="-1.6">3</tspan></text>
<text x="502.6" y="44.7" font-size="4.0" text-anchor="end" style="fill:#4a4a4a">10<tspan font-size="3.0" dy="-1.6">3</tspan></text>
<text x="599.4" y="121.3" font-size="4.0" text-anchor="middle" style="fill:#4a4a4a">10<tspan font-size="3.0" dy="-1.6">4</tspan></text>
<text x="502.6" y="22.1" font-size="4.0" text-anchor="end" style="fill:#4a4a4a">10<tspan font-size="3.0" dy="-1.6">4</tspan></text>
<path d="M506.10,113.30v2.3M506.40,113.60h-2.3M513.29,113.60v1.1M506.10,106.44h-1.1M517.49,113.60v1.1M506.10,102.26h-1.1M520.47,113.60v1.1M506.10,99.29h-1.1M522.79,113.60v1.1M506.10,96.98h-1.1M524.68,113.60v1.1M506.10,95.10h-1.1M526.28,113.60v1.1M506.10,93.51h-1.1M527.66,113.60v1.1M506.10,92.13h-1.1M528.88,113.60v1.1M506.10,90.91h-1.1M529.98,113.30v2.3M506.40,89.82h-2.3M537.16,113.60v1.1M506.10,82.67h-1.1M541.37,113.60v1.1M506.10,78.48h-1.1M544.35,113.60v1.1M506.10,75.51h-1.1M546.66,113.60v1.1M506.10,73.21h-1.1M548.55,113.60v1.1M506.10,71.32h-1.1M550.15,113.60v1.1M506.10,69.73h-1.1M551.54,113.60v1.1M506.10,68.35h-1.1M552.76,113.60v1.1M506.10,67.14h-1.1M553.85,113.30v2.3M506.40,66.05h-2.3M561.04,113.60v1.1M506.10,58.89h-1.1M565.24,113.60v1.1M506.10,54.71h-1.1M568.22,113.60v1.1M506.10,51.74h-1.1M570.54,113.60v1.1M506.10,49.43h-1.1M572.43,113.60v1.1M506.10,47.55h-1.1M574.03,113.60v1.1M506.10,45.96h-1.1M575.41,113.60v1.1M506.10,44.58h-1.1M576.63,113.60v1.1M506.10,43.36h-1.1M577.73,113.30v2.3M506.40,42.28h-2.3M584.91,113.60v1.1M506.10,35.12h-1.1M589.12,113.60v1.1M506.10,30.93h-1.1M592.10,113.60v1.1M506.10,27.96h-1.1M594.41,113.60v1.1M506.10,25.66h-1.1M596.30,113.60v1.1M506.10,23.77h-1.1M597.90,113.60v1.1M506.10,22.18h-1.1M599.29,113.60v1.1M506.10,20.80h-1.1M600.51,113.60v1.1M506.10,19.59h-1.1M601.60,113.30v2.3M506.40,18.50h-2.3" stroke="#1a1a1a" stroke-width="0.9" fill="none"/>
<rect x="432.30" y="45.20" width="25.60" height="36.70" fill="none" stroke="#6e6e6e" stroke-width="0.9" />
<line x1="458.60" y1="45.70" x2="458.60" y2="81.90" stroke="#9a9a9a" stroke-width="0.8" />
<text x="445.0" y="38.9" font-size="9.6" text-anchor="middle" style="fill:#2b2b2b">1.83</text>
<rect x="550.30" y="45.20" width="26.40" height="36.70" fill="none" stroke="#6e6e6e" stroke-width="0.9" />
<line x1="577.40" y1="45.70" x2="577.40" y2="81.90" stroke="#9a9a9a" stroke-width="0.8" />
<text x="562.1" y="38.9" font-size="9.6" text-anchor="middle" style="fill:#2b2b2b">3.19</text>
<path d="M446.2,97.9h1.44v1.44h-1.44zM449.3,97.9h1.44v1.44h-1.44zM440.4,97.7h1.44v1.44h-1.44zM444.0,92.4h1.44v1.44h-1.44zM444.2,93.2h1.44v1.44h-1.44zM446.1,94.3h1.44v1.44h-1.44zM448.7,87.5h1.44v1.44h-1.44zM444.8,95.9h1.44v1.44h-1.44zM451.1,91.4h1.44v1.44h-1.44zM439.8,96.6h1.44v1.44h-1.44zM451.3,97.8h1.44v1.44h-1.44zM441.0,102.3h1.44v1.44h-1.44zM446.3,95.5h1.44v1.44h-1.44zM447.9,88.2h1.44v1.44h-1.44zM443.5,90.3h1.44v1.44h-1.44zM439.8,97.9h1.44v1.44h-1.44zM449.1,97.0h1.44v1.44h-1.44zM445.1,94.8h1.44v1.44h-1.44zM439.0,95.4h1.44v1.44h-1.44zM442.8,89.2h1.44v1.44h-1.44zM442.1,99.0h1.44v1.44h-1.44zM445.6,83.0h1.44v1.44h-1.44zM443.0,90.0h1.44v1.44h-1.44zM450.1,88.4h1.44v1.44h-1.44zM441.5,101.4h1.44v1.44h-1.44zM448.6,101.7h1.44v1.44h-1.44zM447.1,86.3h1.44v1.44h-1.44zM442.9,92.5h1.44v1.44h-1.44zM445.0,91.4h1.44v1.44h-1.44zM440.7,87.2h1.44v1.44h-1.44zM440.1,101.7h1.44v1.44h-1.44zM441.6,86.5h1.44v1.44h-1.44zM439.6,93.7h1.44v1.44h-1.44zM452.3,91.0h1.44v1.44h-1.44zM444.4,86.1h1.44v1.44h-1.44zM445.3,90.8h1.44v1.44h-1.44zM450.9,93.9h1.44v1.44h-1.44zM441.3,102.2h1.44v1.44h-1.44zM444.6,86.9h1.44v1.44h-1.44zM444.5,92.9h1.44v1.44h-1.44zM446.4,95.8h1.44v1.44h-1.44zM445.8,90.9h1.44v1.44h-1.44zM444.4,96.0h1.44v1.44h-1.44zM449.2,89.0h1.44v1.44h-1.44zM443.5,93.2h1.44v1.44h-1.44zM450.3,88.6h1.44v1.44h-1.44zM451.4,86.4h1.44v1.44h-1.44zM441.7,94.6h1.44v1.44h-1.44zM449.1,89.6h1.44v1.44h-1.44zM447.1,102.8h1.44v1.44h-1.44zM444.5,96.7h1.44v1.44h-1.44zM442.1,92.5h1.44v1.44h-1.44zM442.7,100.8h1.44v1.44h-1.44zM444.9,92.9h1.44v1.44h-1.44zM442.2,89.4h1.44v1.44h-1.44zM445.2,82.0h1.44v1.44h-1.44zM442.9,86.9h1.44v1.44h-1.44zM449.9,97.1h1.44v1.44h-1.44zM449.1,82.8h1.44v1.44h-1.44zM449.7,83.4h1.44v1.44h-1.44zM440.9,95.7h1.44v1.44h-1.44zM444.5,90.4h1.44v1.44h-1.44zM446.2,93.9h1.44v1.44h-1.44zM445.7,96.8h1.44v1.44h-1.44zM448.3,95.6h1.44v1.44h-1.44zM445.2,92.9h1.44v1.44h-1.44zM443.5,94.6h1.44v1.44h-1.44zM445.9,92.1h1.44v1.44h-1.44zM446.7,100.3h1.44v1.44h-1.44zM442.4,96.3h1.44v1.44h-1.44zM447.0,97.7h1.44v1.44h-1.44zM452.0,94.1h1.44v1.44h-1.44zM440.5,92.3h1.44v1.44h-1.44zM446.1,94.6h1.44v1.44h-1.44zM443.4,98.5h1.44v1.44h-1.44zM446.5,102.2h1.44v1.44h-1.44zM446.0,92.6h1.44v1.44h-1.44zM446.7,99.6h1.44v1.44h-1.44zM449.8,95.4h1.44v1.44h-1.44zM450.4,93.0h1.44v1.44h-1.44zM445.4,82.6h1.44v1.44h-1.44zM442.1,95.9h1.44v1.44h-1.44zM446.5,89.2h1.44v1.44h-1.44zM448.0,85.6h1.44v1.44h-1.44zM444.4,98.5h1.44v1.44h-1.44zM451.9,93.5h1.44v1.44h-1.44zM449.9,83.8h1.44v1.44h-1.44zM447.3,82.8h1.44v1.44h-1.44zM442.4,91.6h1.44v1.44h-1.44zM448.7,94.8h1.44v1.44h-1.44zM444.7,94.0h1.44v1.44h-1.44zM445.2,88.0h1.44v1.44h-1.44zM437.5,94.6h1.44v1.44h-1.44zM452.5,93.8h1.44v1.44h-1.44zM438.4,99.8h1.44v1.44h-1.44zM444.5,97.3h1.44v1.44h-1.44zM445.0,96.9h1.44v1.44h-1.44zM450.9,89.0h1.44v1.44h-1.44zM438.3,92.4h1.44v1.44h-1.44zM449.0,85.0h1.44v1.44h-1.44zM444.9,90.5h1.44v1.44h-1.44zM449.3,82.8h1.44v1.44h-1.44zM438.8,92.5h1.44v1.44h-1.44zM446.8,89.2h1.44v1.44h-1.44zM447.7,87.7h1.44v1.44h-1.44zM437.7,98.1h1.44v1.44h-1.44zM449.7,91.7h1.44v1.44h-1.44zM446.0,101.6h1.44v1.44h-1.44zM445.7,95.6h1.44v1.44h-1.44zM450.1,83.5h1.44v1.44h-1.44zM447.0,90.0h1.44v1.44h-1.44zM443.6,82.5h1.44v1.44h-1.44zM442.0,90.1h1.44v1.44h-1.44zM447.2,93.6h1.44v1.44h-1.44zM443.2,82.8h1.44v1.44h-1.44zM450.5,90.9h1.44v1.44h-1.44zM449.5,88.7h1.44v1.44h-1.44zM444.3,102.9h1.44v1.44h-1.44zM443.2,97.2h1.44v1.44h-1.44zM443.2,89.7h1.44v1.44h-1.44zM441.8,94.5h1.44v1.44h-1.44zM447.4,91.5h1.44v1.44h-1.44zM441.1,93.4h1.44v1.44h-1.44zM450.7,89.4h1.44v1.44h-1.44zM449.8,90.5h1.44v1.44h-1.44zM440.9,90.1h1.44v1.44h-1.44zM449.9,94.9h1.44v1.44h-1.44zM445.4,99.4h1.44v1.44h-1.44zM445.4,92.5h1.44v1.44h-1.44zM442.6,92.8h1.44v1.44h-1.44zM440.4,88.2h1.44v1.44h-1.44zM441.7,91.2h1.44v1.44h-1.44zM448.2,85.5h1.44v1.44h-1.44zM443.8,91.3h1.44v1.44h-1.44zM443.5,97.3h1.44v1.44h-1.44zM439.1,90.7h1.44v1.44h-1.44zM447.5,85.0h1.44v1.44h-1.44zM437.7,94.8h1.44v1.44h-1.44zM439.8,91.1h1.44v1.44h-1.44zM445.3,85.4h1.44v1.44h-1.44zM441.2,90.2h1.44v1.44h-1.44zM450.2,91.4h1.44v1.44h-1.44zM451.0,87.6h1.44v1.44h-1.44zM442.0,103.5h1.44v1.44h-1.44zM450.7,91.3h1.44v1.44h-1.44zM447.5,101.6h1.44v1.44h-1.44zM443.1,93.4h1.44v1.44h-1.44zM444.7,95.0h1.44v1.44h-1.44zM445.0,90.7h1.44v1.44h-1.44zM451.7,88.3h1.44v1.44h-1.44zM445.6,89.2h1.44v1.44h-1.44zM447.0,100.5h1.44v1.44h-1.44zM452.4,92.4h1.44v1.44h-1.44zM448.3,92.2h1.44v1.44h-1.44zM440.9,92.2h1.44v1.44h-1.44zM451.3,84.0h1.44v1.44h-1.44zM442.7,93.8h1.44v1.44h-1.44zM441.0,98.5h1.44v1.44h-1.44zM443.1,96.2h1.44v1.44h-1.44zM450.9,95.4h1.44v1.44h-1.44zM439.7,94.4h1.44v1.44h-1.44zM444.7,93.5h1.44v1.44h-1.44zM439.9,90.8h1.44v1.44h-1.44zM446.6,92.9h1.44v1.44h-1.44zM451.9,92.7h1.44v1.44h-1.44zM444.3,95.5h1.44v1.44h-1.44zM445.8,91.4h1.44v1.44h-1.44zM446.5,97.0h1.44v1.44h-1.44zM449.8,90.3h1.44v1.44h-1.44zM442.3,102.6h1.44v1.44h-1.44zM447.6,91.6h1.44v1.44h-1.44zM445.5,84.8h1.44v1.44h-1.44zM446.5,94.1h1.44v1.44h-1.44zM439.0,95.5h1.44v1.44h-1.44zM446.8,92.3h1.44v1.44h-1.44zM449.0,85.2h1.44v1.44h-1.44zM446.7,91.2h1.44v1.44h-1.44zM446.5,91.4h1.44v1.44h-1.44zM441.3,98.0h1.44v1.44h-1.44zM450.7,90.5h1.44v1.44h-1.44zM446.5,97.0h1.44v1.44h-1.44zM443.6,100.4h1.44v1.44h-1.44zM445.6,95.5h1.44v1.44h-1.44zM445.1,94.6h1.44v1.44h-1.44zM442.7,97.6h1.44v1.44h-1.44zM441.3,101.6h1.44v1.44h-1.44zM445.6,99.9h1.44v1.44h-1.44zM448.8,94.4h1.44v1.44h-1.44zM448.2,94.1h1.44v1.44h-1.44zM440.2,88.4h1.44v1.44h-1.44zM442.4,92.8h1.44v1.44h-1.44zM449.0,100.9h1.44v1.44h-1.44zM438.2,95.4h1.44v1.44h-1.44zM449.2,87.2h1.44v1.44h-1.44zM441.1,91.5h1.44v1.44h-1.44zM451.3,93.3h1.44v1.44h-1.44zM448.4,88.2h1.44v1.44h-1.44zM443.0,85.0h1.44v1.44h-1.44zM441.4,97.4h1.44v1.44h-1.44zM445.7,94.4h1.44v1.44h-1.44zM445.7,90.6h1.44v1.44h-1.44zM445.8,97.3h1.44v1.44h-1.44zM446.6,91.0h1.44v1.44h-1.44zM444.3,82.9h1.44v1.44h-1.44zM444.1,98.0h1.44v1.44h-1.44zM441.5,93.3h1.44v1.44h-1.44zM442.7,93.4h1.44v1.44h-1.44zM448.6,92.4h1.44v1.44h-1.44zM439.1,87.8h1.44v1.44h-1.44zM448.5,92.6h1.44v1.44h-1.44zM441.9,96.5h1.44v1.44h-1.44zM445.1,92.9h1.44v1.44h-1.44zM440.6,91.5h1.44v1.44h-1.44zM442.5,92.0h1.44v1.44h-1.44zM445.1,93.2h1.44v1.44h-1.44zM443.5,93.9h1.44v1.44h-1.44zM446.2,93.3h1.44v1.44h-1.44zM444.2,98.2h1.44v1.44h-1.44zM440.4,90.0h1.44v1.44h-1.44zM443.8,84.1h1.44v1.44h-1.44zM451.1,87.6h1.44v1.44h-1.44zM441.9,97.9h1.44v1.44h-1.44zM447.2,102.9h1.44v1.44h-1.44zM443.3,84.6h1.44v1.44h-1.44zM446.1,91.5h1.44v1.44h-1.44zM442.3,84.1h1.44v1.44h-1.44zM449.7,84.8h1.44v1.44h-1.44zM443.2,91.8h1.44v1.44h-1.44zM449.3,87.1h1.44v1.44h-1.44zM450.4,84.8h1.44v1.44h-1.44zM450.6,88.8h1.44v1.44h-1.44zM445.3,84.0h1.44v1.44h-1.44zM447.9,94.4h1.44v1.44h-1.44zM443.2,94.9h1.44v1.44h-1.44zM446.7,90.7h1.44v1.44h-1.44zM443.1,86.3h1.44v1.44h-1.44zM444.8,84.6h1.44v1.44h-1.44zM449.9,94.2h1.44v1.44h-1.44zM447.6,83.0h1.44v1.44h-1.44zM440.9,90.0h1.44v1.44h-1.44zM449.5,97.6h1.44v1.44h-1.44zM442.7,102.1h1.44v1.44h-1.44zM444.5,95.0h1.44v1.44h-1.44zM444.6,102.1h1.44v1.44h-1.44zM451.6,92.9h1.44v1.44h-1.44zM440.4,96.8h1.44v1.44h-1.44zM445.0,85.8h1.44v1.44h-1.44zM442.2,85.2h1.44v1.44h-1.44zM449.1,98.1h1.44v1.44h-1.44zM444.3,96.2h1.44v1.44h-1.44zM440.9,101.1h1.44v1.44h-1.44zM450.2,94.7h1.44v1.44h-1.44zM444.5,94.7h1.44v1.44h-1.44zM445.3,84.1h1.44v1.44h-1.44zM441.6,101.0h1.44v1.44h-1.44zM440.0,93.2h1.44v1.44h-1.44zM447.4,98.4h1.44v1.44h-1.44zM444.8,103.3h1.44v1.44h-1.44zM453.0,90.2h1.44v1.44h-1.44zM444.6,92.9h1.44v1.44h-1.44z" fill="#000"/>
<path d="M449.1,92.5h1.00v1.00h-1.00zM444.2,96.3h1.00v1.00h-1.00zM446.7,92.4h1.00v1.00h-1.00zM444.6,91.6h1.00v1.00h-1.00zM444.6,92.4h1.00v1.00h-1.00zM446.8,98.3h1.00v1.00h-1.00zM442.0,91.6h1.00v1.00h-1.00zM445.8,86.6h1.00v1.00h-1.00zM446.7,91.8h1.00v1.00h-1.00zM447.5,94.0h1.00v1.00h-1.00zM445.4,92.8h1.00v1.00h-1.00zM443.8,96.0h1.00v1.00h-1.00zM444.6,93.9h1.00v1.00h-1.00zM446.9,90.7h1.00v1.00h-1.00zM445.4,92.8h1.00v1.00h-1.00zM446.9,97.5h1.00v1.00h-1.00zM446.1,86.4h1.00v1.00h-1.00zM442.9,98.6h1.00v1.00h-1.00zM443.5,94.3h1.00v1.00h-1.00zM442.9,88.3h1.00v1.00h-1.00zM443.4,93.7h1.00v1.00h-1.00zM446.6,93.9h1.00v1.00h-1.00zM446.0,91.9h1.00v1.00h-1.00zM447.0,92.2h1.00v1.00h-1.00zM444.7,95.0h1.00v1.00h-1.00zM445.3,96.7h1.00v1.00h-1.00zM447.4,92.4h1.00v1.00h-1.00zM448.3,87.5h1.00v1.00h-1.00zM448.4,91.0h1.00v1.00h-1.00zM442.2,89.9h1.00v1.00h-1.00zM448.0,95.2h1.00v1.00h-1.00zM442.0,93.6h1.00v1.00h-1.00zM444.5,88.0h1.00v1.00h-1.00zM446.6,93.9h1.00v1.00h-1.00zM446.9,98.1h1.00v1.00h-1.00zM443.4,95.6h1.00v1.00h-1.00zM445.9,90.2h1.00v1.00h-1.00zM443.4,99.4h1.00v1.00h-1.00zM443.3,97.2h1.00v1.00h-1.00zM442.7,94.9h1.00v1.00h-1.00zM445.6,94.3h1.00v1.00h-1.00zM446.6,92.0h1.00v1.00h-1.00zM444.9,96.7h1.00v1.00h-1.00zM449.2,93.6h1.00v1.00h-1.00zM446.1,95.9h1.00v1.00h-1.00zM446.1,94.0h1.00v1.00h-1.00zM446.5,94.7h1.00v1.00h-1.00zM444.8,94.9h1.00v1.00h-1.00zM448.1,90.5h1.00v1.00h-1.00zM441.9,94.9h1.00v1.00h-1.00zM443.5,91.8h1.00v1.00h-1.00zM443.7,95.2h1.00v1.00h-1.00zM445.1,93.5h1.00v1.00h-1.00zM447.0,98.2h1.00v1.00h-1.00zM444.5,89.5h1.00v1.00h-1.00zM444.7,98.9h1.00v1.00h-1.00zM444.8,95.2h1.00v1.00h-1.00zM443.3,93.4h1.00v1.00h-1.00zM449.0,88.1h1.00v1.00h-1.00zM448.8,94.6h1.00v1.00h-1.00z" fill="#d8d8d8"/>
<path d="M452.6,60.4h1.40v1.40h-1.40zM445.0,70.0h1.40v1.40h-1.40zM449.0,69.7h1.40v1.40h-1.40zM446.2,72.3h1.40v1.40h-1.40zM441.8,77.9h1.40v1.40h-1.40zM444.6,78.3h1.40v1.40h-1.40zM447.4,76.9h1.40v1.40h-1.40zM446.2,79.5h1.40v1.40h-1.40zM454.2,80.3h1.40v1.40h-1.40zM441.3,83.3h1.40v1.40h-1.40zM450.5,82.6h1.40v1.40h-1.40zM447.0,81.2h1.40v1.40h-1.40z" fill="#000"/>
<path d="M561.9,94.9h1.44v1.44h-1.44zM553.9,98.0h1.44v1.44h-1.44zM568.2,97.0h1.44v1.44h-1.44zM566.6,93.5h1.44v1.44h-1.44zM567.4,87.4h1.44v1.44h-1.44zM561.0,109.8h1.44v1.44h-1.44zM563.0,99.4h1.44v1.44h-1.44zM560.3,88.1h1.44v1.44h-1.44zM561.6,83.5h1.44v1.44h-1.44zM563.4,86.2h1.44v1.44h-1.44zM557.2,93.4h1.44v1.44h-1.44zM562.4,94.7h1.44v1.44h-1.44zM565.3,94.1h1.44v1.44h-1.44zM559.1,106.1h1.44v1.44h-1.44zM561.7,100.3h1.44v1.44h-1.44zM560.7,86.6h1.44v1.44h-1.44zM563.9,98.2h1.44v1.44h-1.44zM557.4,91.6h1.44v1.44h-1.44zM562.2,104.0h1.44v1.44h-1.44zM568.2,97.6h1.44v1.44h-1.44zM557.9,97.8h1.44v1.44h-1.44zM557.7,85.7h1.44v1.44h-1.44zM554.0,97.8h1.44v1.44h-1.44zM561.6,102.0h1.44v1.44h-1.44zM560.7,83.6h1.44v1.44h-1.44zM566.0,97.7h1.44v1.44h-1.44zM560.1,88.5h1.44v1.44h-1.44zM561.1,104.4h1.44v1.44h-1.44zM568.3,92.2h1.44v1.44h-1.44zM565.2,97.9h1.44v1.44h-1.44zM557.9,99.5h1.44v1.44h-1.44zM563.4,106.8h1.44v1.44h-1.44zM562.4,84.7h1.44v1.44h-1.44zM562.9,105.2h1.44v1.44h-1.44zM557.8,108.6h1.44v1.44h-1.44zM562.0,108.5h1.44v1.44h-1.44zM562.6,91.2h1.44v1.44h-1.44zM566.0,94.9h1.44v1.44h-1.44zM563.5,104.8h1.44v1.44h-1.44zM558.9,98.9h1.44v1.44h-1.44zM568.6,93.7h1.44v1.44h-1.44zM559.8,98.9h1.44v1.44h-1.44zM565.3,95.9h1.44v1.44h-1.44zM564.3,98.0h1.44v1.44h-1.44zM560.7,97.9h1.44v1.44h-1.44zM568.6,88.5h1.44v1.44h-1.44zM569.1,96.9h1.44v1.44h-1.44zM557.2,107.6h1.44v1.44h-1.44zM564.9,94.9h1.44v1.44h-1.44zM568.8,99.3h1.44v1.44h-1.44zM556.6,103.4h1.44v1.44h-1.44zM559.2,102.7h1.44v1.44h-1.44zM564.8,96.8h1.44v1.44h-1.44zM559.3,101.3h1.44v1.44h-1.44zM567.2,106.2h1.44v1.44h-1.44zM563.2,109.5h1.44v1.44h-1.44zM564.5,90.2h1.44v1.44h-1.44zM554.7,100.9h1.44v1.44h-1.44zM560.7,96.7h1.44v1.44h-1.44zM566.4,93.3h1.44v1.44h-1.44zM559.7,100.0h1.44v1.44h-1.44zM569.7,99.5h1.44v1.44h-1.44zM564.4,89.4h1.44v1.44h-1.44zM568.8,100.0h1.44v1.44h-1.44zM562.9,97.2h1.44v1.44h-1.44zM560.6,109.3h1.44v1.44h-1.44zM568.3,90.2h1.44v1.44h-1.44zM560.8,103.3h1.44v1.44h-1.44zM556.5,87.2h1.44v1.44h-1.44zM561.7,90.7h1.44v1.44h-1.44zM560.8,103.0h1.44v1.44h-1.44zM562.0,96.1h1.44v1.44h-1.44zM557.4,86.5h1.44v1.44h-1.44zM570.0,99.1h1.44v1.44h-1.44zM558.5,97.1h1.44v1.44h-1.44zM570.3,93.4h1.44v1.44h-1.44zM561.4,104.0h1.44v1.44h-1.44zM556.9,96.4h1.44v1.44h-1.44zM564.4,108.6h1.44v1.44h-1.44zM562.4,84.7h1.44v1.44h-1.44zM564.0,84.7h1.44v1.44h-1.44zM558.3,105.0h1.44v1.44h-1.44zM558.9,101.4h1.44v1.44h-1.44zM568.0,102.6h1.44v1.44h-1.44zM562.5,91.5h1.44v1.44h-1.44zM565.1,99.0h1.44v1.44h-1.44zM561.0,95.9h1.44v1.44h-1.44zM566.3,96.0h1.44v1.44h-1.44zM570.0,96.2h1.44v1.44h-1.44zM565.0,99.8h1.44v1.44h-1.44zM560.0,96.4h1.44v1.44h-1.44zM555.2,99.6h1.44v1.44h-1.44zM558.8,99.0h1.44v1.44h-1.44zM559.8,87.3h1.44v1.44h-1.44zM566.8,87.5h1.44v1.44h-1.44zM566.2,104.1h1.44v1.44h-1.44zM559.0,108.0h1.44v1.44h-1.44zM557.2,103.0h1.44v1.44h-1.44zM563.4,107.3h1.44v1.44h-1.44zM561.6,102.2h1.44v1.44h-1.44zM564.2,93.8h1.44v1.44h-1.44zM558.5,104.8h1.44v1.44h-1.44zM566.9,96.5h1.44v1.44h-1.44zM561.9,105.4h1.44v1.44h-1.44zM558.5,86.4h1.44v1.44h-1.44zM568.2,105.1h1.44v1.44h-1.44zM564.9,88.9h1.44v1.44h-1.44zM569.1,90.8h1.44v1.44h-1.44zM561.5,98.3h1.44v1.44h-1.44zM562.6,99.9h1.44v1.44h-1.44zM555.2,89.3h1.44v1.44h-1.44zM555.6,105.4h1.44v1.44h-1.44zM554.2,99.8h1.44v1.44h-1.44zM563.1,90.8h1.44v1.44h-1.44zM567.9,105.1h1.44v1.44h-1.44zM558.0,89.4h1.44v1.44h-1.44zM559.4,100.2h1.44v1.44h-1.44zM562.4,100.4h1.44v1.44h-1.44zM559.3,92.9h1.44v1.44h-1.44zM563.1,106.6h1.44v1.44h-1.44zM561.7,97.2h1.44v1.44h-1.44zM563.9,106.5h1.44v1.44h-1.44zM562.7,102.9h1.44v1.44h-1.44zM555.2,92.4h1.44v1.44h-1.44zM563.1,98.1h1.44v1.44h-1.44zM557.6,93.8h1.44v1.44h-1.44zM567.0,102.5h1.44v1.44h-1.44zM561.4,92.3h1.44v1.44h-1.44zM560.4,104.0h1.44v1.44h-1.44zM566.1,94.9h1.44v1.44h-1.44zM558.4,93.5h1.44v1.44h-1.44zM557.8,99.8h1.44v1.44h-1.44zM569.9,96.9h1.44v1.44h-1.44zM562.9,103.5h1.44v1.44h-1.44zM563.2,107.3h1.44v1.44h-1.44zM562.3,96.2h1.44v1.44h-1.44zM564.7,89.5h1.44v1.44h-1.44zM566.1,91.6h1.44v1.44h-1.44zM564.2,103.9h1.44v1.44h-1.44zM561.4,96.1h1.44v1.44h-1.44zM567.9,91.4h1.44v1.44h-1.44zM560.8,94.3h1.44v1.44h-1.44zM557.4,95.9h1.44v1.44h-1.44zM561.1,100.5h1.44v1.44h-1.44zM567.4,92.8h1.44v1.44h-1.44zM559.8,96.5h1.44v1.44h-1.44zM569.5,94.6h1.44v1.44h-1.44zM563.9,100.2h1.44v1.44h-1.44zM570.3,95.2h1.44v1.44h-1.44zM566.9,99.8h1.44v1.44h-1.44zM555.1,104.4h1.44v1.44h-1.44zM556.8,87.3h1.44v1.44h-1.44zM565.2,107.0h1.44v1.44h-1.44zM562.4,108.1h1.44v1.44h-1.44zM565.3,90.4h1.44v1.44h-1.44zM564.2,107.8h1.44v1.44h-1.44zM559.1,99.4h1.44v1.44h-1.44zM557.3,102.2h1.44v1.44h-1.44zM561.7,100.2h1.44v1.44h-1.44zM568.1,90.3h1.44v1.44h-1.44zM561.0,95.7h1.44v1.44h-1.44zM568.8,99.8h1.44v1.44h-1.44zM567.0,105.1h1.44v1.44h-1.44zM556.3,93.0h1.44v1.44h-1.44zM559.0,105.8h1.44v1.44h-1.44zM558.0,92.2h1.44v1.44h-1.44zM559.8,89.6h1.44v1.44h-1.44zM556.9,99.2h1.44v1.44h-1.44zM561.5,95.6h1.44v1.44h-1.44zM561.8,105.2h1.44v1.44h-1.44zM564.3,85.3h1.44v1.44h-1.44zM563.7,104.2h1.44v1.44h-1.44zM565.8,102.2h1.44v1.44h-1.44zM559.7,97.9h1.44v1.44h-1.44zM560.1,97.5h1.44v1.44h-1.44zM567.3,99.2h1.44v1.44h-1.44zM567.2,102.0h1.44v1.44h-1.44zM564.1,85.6h1.44v1.44h-1.44zM567.1,99.9h1.44v1.44h-1.44zM557.5,102.3h1.44v1.44h-1.44zM566.7,106.9h1.44v1.44h-1.44zM569.8,96.8h1.44v1.44h-1.44zM565.6,86.5h1.44v1.44h-1.44zM565.1,96.2h1.44v1.44h-1.44zM567.5,94.6h1.44v1.44h-1.44zM565.2,107.9h1.44v1.44h-1.44zM569.1,92.1h1.44v1.44h-1.44zM560.9,98.4h1.44v1.44h-1.44zM565.1,106.4h1.44v1.44h-1.44zM559.7,108.9h1.44v1.44h-1.44zM565.9,106.2h1.44v1.44h-1.44zM567.2,92.6h1.44v1.44h-1.44zM561.3,101.6h1.44v1.44h-1.44zM559.0,104.4h1.44v1.44h-1.44zM562.3,98.1h1.44v1.44h-1.44zM564.7,95.0h1.44v1.44h-1.44zM567.9,90.4h1.44v1.44h-1.44zM563.0,92.2h1.44v1.44h-1.44zM559.9,95.6h1.44v1.44h-1.44zM557.2,104.1h1.44v1.44h-1.44zM554.9,91.7h1.44v1.44h-1.44zM567.0,90.4h1.44v1.44h-1.44zM564.1,96.5h1.44v1.44h-1.44zM556.4,102.4h1.44v1.44h-1.44zM560.4,108.2h1.44v1.44h-1.44zM555.0,89.6h1.44v1.44h-1.44zM563.0,89.4h1.44v1.44h-1.44zM563.7,104.0h1.44v1.44h-1.44zM568.5,100.4h1.44v1.44h-1.44zM560.9,108.5h1.44v1.44h-1.44zM568.5,96.0h1.44v1.44h-1.44zM559.5,87.9h1.44v1.44h-1.44zM566.2,96.9h1.44v1.44h-1.44zM562.5,97.9h1.44v1.44h-1.44zM555.9,100.2h1.44v1.44h-1.44zM566.9,91.4h1.44v1.44h-1.44zM562.0,100.4h1.44v1.44h-1.44zM568.4,98.5h1.44v1.44h-1.44zM561.8,96.8h1.44v1.44h-1.44zM560.5,99.0h1.44v1.44h-1.44zM559.3,93.6h1.44v1.44h-1.44zM563.0,106.0h1.44v1.44h-1.44zM555.6,97.6h1.44v1.44h-1.44zM564.4,95.2h1.44v1.44h-1.44zM563.7,101.2h1.44v1.44h-1.44zM560.9,94.0h1.44v1.44h-1.44zM564.6,84.4h1.44v1.44h-1.44zM560.9,104.1h1.44v1.44h-1.44zM561.7,95.8h1.44v1.44h-1.44zM557.8,103.9h1.44v1.44h-1.44zM555.6,99.6h1.44v1.44h-1.44zM562.2,83.5h1.44v1.44h-1.44zM565.2,93.5h1.44v1.44h-1.44zM560.8,96.0h1.44v1.44h-1.44zM561.8,104.3h1.44v1.44h-1.44zM562.4,94.2h1.44v1.44h-1.44zM561.5,96.2h1.44v1.44h-1.44zM566.4,107.1h1.44v1.44h-1.44zM559.8,93.2h1.44v1.44h-1.44zM559.0,89.3h1.44v1.44h-1.44zM564.6,107.4h1.44v1.44h-1.44zM560.2,102.6h1.44v1.44h-1.44zM563.1,95.3h1.44v1.44h-1.44zM561.3,85.0h1.44v1.44h-1.44zM562.2,96.0h1.44v1.44h-1.44zM554.8,98.4h1.44v1.44h-1.44zM554.9,99.3h1.44v1.44h-1.44zM564.4,100.0h1.44v1.44h-1.44zM565.3,98.1h1.44v1.44h-1.44zM562.5,89.6h1.44v1.44h-1.44zM566.6,87.9h1.44v1.44h-1.44zM560.4,107.4h1.44v1.44h-1.44zM556.2,99.7h1.44v1.44h-1.44zM554.8,94.2h1.44v1.44h-1.44zM560.0,91.7h1.44v1.44h-1.44zM562.7,109.6h1.44v1.44h-1.44zM569.8,98.3h1.44v1.44h-1.44zM561.9,102.4h1.44v1.44h-1.44zM569.0,93.2h1.44v1.44h-1.44zM557.9,106.2h1.44v1.44h-1.44zM557.4,107.2h1.44v1.44h-1.44zM565.2,93.7h1.44v1.44h-1.44zM560.5,86.8h1.44v1.44h-1.44zM568.7,95.6h1.44v1.44h-1.44zM565.4,89.6h1.44v1.44h-1.44zM567.0,88.4h1.44v1.44h-1.44zM561.8,88.4h1.44v1.44h-1.44zM559.1,105.3h1.44v1.44h-1.44zM559.9,92.7h1.44v1.44h-1.44zM563.6,95.1h1.44v1.44h-1.44zM564.5,97.4h1.44v1.44h-1.44zM564.0,95.2h1.44v1.44h-1.44zM564.3,102.2h1.44v1.44h-1.44zM562.9,97.0h1.44v1.44h-1.44zM558.1,88.1h1.44v1.44h-1.44zM562.3,85.7h1.44v1.44h-1.44zM560.8,95.0h1.44v1.44h-1.44zM564.4,90.1h1.44v1.44h-1.44zM568.5,89.4h1.44v1.44h-1.44zM563.2,94.7h1.44v1.44h-1.44zM570.0,92.7h1.44v1.44h-1.44zM562.3,99.8h1.44v1.44h-1.44zM564.1,97.4h1.44v1.44h-1.44zM565.8,85.4h1.44v1.44h-1.44zM565.7,87.6h1.44v1.44h-1.44zM559.7,106.3h1.44v1.44h-1.44zM563.5,98.5h1.44v1.44h-1.44zM563.1,107.6h1.44v1.44h-1.44zM558.0,99.3h1.44v1.44h-1.44zM561.9,97.7h1.44v1.44h-1.44zM561.6,90.4h1.44v1.44h-1.44zM559.5,102.9h1.44v1.44h-1.44zM553.6,95.5h1.44v1.44h-1.44zM557.0,87.7h1.44v1.44h-1.44zM561.1,97.3h1.44v1.44h-1.44zM563.4,88.5h1.44v1.44h-1.44zM561.3,89.7h1.44v1.44h-1.44zM562.5,105.6h1.44v1.44h-1.44zM568.0,103.7h1.44v1.44h-1.44zM564.8,107.3h1.44v1.44h-1.44zM562.0,96.7h1.44v1.44h-1.44zM569.3,95.5h1.44v1.44h-1.44zM561.7,96.5h1.44v1.44h-1.44zM564.3,88.3h1.44v1.44h-1.44zM559.0,96.4h1.44v1.44h-1.44zM564.7,90.5h1.44v1.44h-1.44zM565.7,94.7h1.44v1.44h-1.44zM562.4,102.6h1.44v1.44h-1.44zM555.1,96.1h1.44v1.44h-1.44zM560.8,93.8h1.44v1.44h-1.44zM562.6,93.8h1.44v1.44h-1.44zM564.4,86.1h1.44v1.44h-1.44zM557.4,104.2h1.44v1.44h-1.44zM557.8,100.9h1.44v1.44h-1.44zM568.3,103.5h1.44v1.44h-1.44zM569.7,99.1h1.44v1.44h-1.44zM561.3,101.6h1.44v1.44h-1.44zM554.0,95.8h1.44v1.44h-1.44zM565.9,91.8h1.44v1.44h-1.44zM558.5,97.6h1.44v1.44h-1.44zM562.9,87.4h1.44v1.44h-1.44zM558.4,87.1h1.44v1.44h-1.44zM559.4,102.6h1.44v1.44h-1.44zM563.8,93.1h1.44v1.44h-1.44zM562.5,86.0h1.44v1.44h-1.44zM559.2,98.0h1.44v1.44h-1.44zM556.0,90.5h1.44v1.44h-1.44zM559.6,97.2h1.44v1.44h-1.44zM561.6,109.1h1.44v1.44h-1.44zM560.7,101.0h1.44v1.44h-1.44zM566.6,87.7h1.44v1.44h-1.44zM563.2,100.2h1.44v1.44h-1.44zM559.9,101.4h1.44v1.44h-1.44zM564.4,104.4h1.44v1.44h-1.44zM563.1,102.9h1.44v1.44h-1.44zM561.9,83.2h1.44v1.44h-1.44zM564.1,95.9h1.44v1.44h-1.44zM560.3,98.6h1.44v1.44h-1.44zM565.4,83.8h1.44v1.44h-1.44zM555.2,100.4h1.44v1.44h-1.44zM560.3,92.6h1.44v1.44h-1.44zM562.3,99.8h1.44v1.44h-1.44zM566.5,98.5h1.44v1.44h-1.44zM563.8,89.2h1.44v1.44h-1.44zM555.2,95.9h1.44v1.44h-1.44zM555.5,98.3h1.44v1.44h-1.44zM560.2,93.9h1.44v1.44h-1.44zM562.3,88.8h1.44v1.44h-1.44zM554.3,101.3h1.44v1.44h-1.44zM562.7,86.9h1.44v1.44h-1.44zM562.0,104.4h1.44v1.44h-1.44zM567.7,89.3h1.44v1.44h-1.44zM560.6,85.3h1.44v1.44h-1.44zM559.6,85.1h1.44v1.44h-1.44zM555.5,98.9h1.44v1.44h-1.44zM559.5,91.5h1.44v1.44h-1.44zM560.1,97.9h1.44v1.44h-1.44zM561.2,85.0h1.44v1.44h-1.44zM561.2,106.7h1.44v1.44h-1.44zM557.0,98.3h1.44v1.44h-1.44zM556.2,101.5h1.44v1.44h-1.44zM568.4,92.5h1.44v1.44h-1.44zM560.6,92.5h1.44v1.44h-1.44zM555.8,103.5h1.44v1.44h-1.44zM567.5,95.6h1.44v1.44h-1.44zM560.9,95.9h1.44v1.44h-1.44zM562.9,92.3h1.44v1.44h-1.44zM553.9,94.3h1.44v1.44h-1.44zM560.3,94.9h1.44v1.44h-1.44zM561.5,87.3h1.44v1.44h-1.44zM558.9,89.3h1.44v1.44h-1.44zM554.6,94.3h1.44v1.44h-1.44zM566.9,94.4h1.44v1.44h-1.44zM561.1,91.7h1.44v1.44h-1.44zM563.0,89.0h1.44v1.44h-1.44zM564.3,96.3h1.44v1.44h-1.44zM566.0,99.3h1.44v1.44h-1.44zM558.6,99.8h1.44v1.44h-1.44zM561.4,96.9h1.44v1.44h-1.44zM561.0,88.9h1.44v1.44h-1.44z" fill="#000"/>
<ellipse cx="561.6" cy="97.2" rx="5.0" ry="7.0" fill="#9a9a9a" opacity="0.85"/>
<path d="M561.3,100.1h0.90v0.90h-0.90zM561.9,94.9h0.90v0.90h-0.90zM556.7,95.3h0.90v0.90h-0.90zM562.4,95.1h0.90v0.90h-0.90zM562.1,100.4h0.90v0.90h-0.90zM562.0,95.8h0.90v0.90h-0.90zM559.1,91.8h0.90v0.90h-0.90zM559.3,95.3h0.90v0.90h-0.90zM563.3,96.6h0.90v0.90h-0.90zM560.6,94.5h0.90v0.90h-0.90zM564.2,91.1h0.90v0.90h-0.90zM560.7,100.8h0.90v0.90h-0.90zM563.8,100.5h0.90v0.90h-0.90zM558.5,102.1h0.90v0.90h-0.90zM560.7,103.8h0.90v0.90h-0.90zM561.5,100.3h0.90v0.90h-0.90zM562.5,100.5h0.90v0.90h-0.90zM561.8,97.0h0.90v0.90h-0.90zM561.7,99.5h0.90v0.90h-0.90zM559.9,97.2h0.90v0.90h-0.90zM560.3,94.0h0.90v0.90h-0.90zM559.0,101.0h0.90v0.90h-0.90zM565.5,91.3h0.90v0.90h-0.90zM562.0,96.5h0.90v0.90h-0.90zM563.5,90.0h0.90v0.90h-0.90zM562.4,95.8h0.90v0.90h-0.90zM565.4,97.8h0.90v0.90h-0.90zM561.9,97.0h0.90v0.90h-0.90zM561.4,102.5h0.90v0.90h-0.90zM562.2,97.8h0.90v0.90h-0.90z" fill="#222"/>
<path d="M562.2,95.2h0.90v0.90h-0.90zM562.6,99.3h0.90v0.90h-0.90zM563.4,90.9h0.90v0.90h-0.90zM562.6,96.2h0.90v0.90h-0.90zM562.7,92.7h0.90v0.90h-0.90zM564.5,94.2h0.90v0.90h-0.90zM564.1,92.4h0.90v0.90h-0.90zM561.5,95.5h0.90v0.90h-0.90zM562.0,93.0h0.90v0.90h-0.90zM563.6,94.9h0.90v0.90h-0.90zM561.2,101.1h0.90v0.90h-0.90zM562.5,98.5h0.90v0.90h-0.90zM564.0,98.5h0.90v0.90h-0.90zM563.0,99.9h0.90v0.90h-0.90zM559.4,96.8h0.90v0.90h-0.90zM563.8,94.1h0.90v0.90h-0.90zM561.8,96.9h0.90v0.90h-0.90zM559.8,95.5h0.90v0.90h-0.90zM563.8,93.1h0.90v0.90h-0.90zM560.0,98.3h0.90v0.90h-0.90zM565.5,100.4h0.90v0.90h-0.90zM560.1,93.3h0.90v0.90h-0.90zM561.7,96.8h0.90v0.90h-0.90zM564.9,95.2h0.90v0.90h-0.90zM563.5,96.8h0.90v0.90h-0.90zM559.3,97.2h0.90v0.90h-0.90zM565.8,98.7h0.90v0.90h-0.90zM559.7,93.1h0.90v0.90h-0.90zM563.1,95.1h0.90v0.90h-0.90zM559.9,97.3h0.90v0.90h-0.90zM562.4,93.1h0.90v0.90h-0.90zM560.7,97.6h0.90v0.90h-0.90zM559.9,95.8h0.90v0.90h-0.90zM560.3,102.6h0.90v0.90h-0.90zM558.4,100.1h0.90v0.90h-0.90zM561.2,100.7h0.90v0.90h-0.90zM564.3,96.6h0.90v0.90h-0.90zM563.0,92.5h0.90v0.90h-0.90zM560.9,99.3h0.90v0.90h-0.90zM560.6,95.7h0.90v0.90h-0.90z" fill="#ccc"/>
<path d="M566.5,58.3h1.40v1.40h-1.40zM556.0,60.6h1.40v1.40h-1.40zM557.4,60.0h1.40v1.40h-1.40zM564.3,66.0h1.40v1.40h-1.40zM568.3,66.4h1.40v1.40h-1.40zM566.4,69.0h1.40v1.40h-1.40zM556.3,72.6h1.40v1.40h-1.40zM559.8,71.6h1.40v1.40h-1.40zM562.6,74.6h1.40v1.40h-1.40zM567.0,74.2h1.40v1.40h-1.40zM561.8,77.0h1.40v1.40h-1.40zM566.4,78.0h1.40v1.40h-1.40zM558.8,79.4h1.40v1.40h-1.40zM563.6,80.0h1.40v1.40h-1.40zM561.0,80.6h1.40v1.40h-1.40zM566.8,81.0h1.40v1.40h-1.40zM572.6,83.6h1.40v1.40h-1.40zM557.0,82.4h1.40v1.40h-1.40z" fill="#000"/>
<rect x="387.80" y="144.10" width="96.10" height="95.00" fill="none" stroke="#9c9c9c" stroke-width="0.9" />
<line x1="387.80" y1="144.10" x2="387.80" y2="239.10" stroke="#8a8a8a" stroke-width="0.9" />
<line x1="387.80" y1="239.10" x2="483.90" y2="239.10" stroke="#7a7a7a" stroke-width="0.9" />
<text x="384.3" y="156.7" font-size="4.0" text-anchor="end" style="fill:#4a4a4a">10<tspan font-size="3.0" dy="-1.6">5</tspan></text>
<text x="384.3" y="182.0" font-size="4.0" text-anchor="end" style="fill:#4a4a4a">10<tspan font-size="3.0" dy="-1.6">4</tspan></text>
<text x="384.3" y="207.1" font-size="4.0" text-anchor="end" style="fill:#4a4a4a">10<tspan font-size="3.0" dy="-1.6">3</tspan></text>
<text x="384.3" y="231.9" font-size="4.0" text-anchor="end" style="fill:#4a4a4a">10<tspan font-size="3.0" dy="-1.6">2</tspan></text>
<text x="396.4" y="246.8" font-size="4.0" text-anchor="middle" style="fill:#4a4a4a">-10<tspan font-size="3.0" dy="-1.6">3</tspan></text>
<text x="411.4" y="246.8" font-size="4.0" text-anchor="middle" style="fill:#4a4a4a">0</text>
<text x="428.8" y="246.8" font-size="4.0" text-anchor="middle" style="fill:#4a4a4a">10<tspan font-size="3.0" dy="-1.6">3</tspan></text>
<text x="453.8" y="246.8" font-size="4.0" text-anchor="middle" style="fill:#4a4a4a">10<tspan font-size="3.0" dy="-1.6">4</tspan></text>
<text x="476.6" y="246.8" font-size="4.0" text-anchor="middle" style="fill:#4a4a4a">10<tspan font-size="3.0" dy="-1.6">5</tspan></text>
<rect x="406.40" y="239.30" width="4.20" height="1.60" fill="#222" stroke="none" stroke-width="0" />
<path d="M388.10,154.50h-2.3M388.10,179.80h-2.3M388.10,204.90h-2.3M388.10,229.70h-2.3M387.80,172.18h-1.1M387.80,167.73h-1.1M387.80,164.57h-1.1M387.80,162.12h-1.1M387.80,160.11h-1.1M387.80,158.42h-1.1M387.80,156.95h-1.1M387.80,155.66h-1.1M387.80,197.34h-1.1M387.80,192.92h-1.1M387.80,189.79h-1.1M387.80,187.36h-1.1M387.80,185.37h-1.1M387.80,183.69h-1.1M387.80,182.23h-1.1M387.80,180.95h-1.1M387.80,222.23h-1.1M387.80,217.87h-1.1M387.80,214.77h-1.1M387.80,212.37h-1.1M387.80,210.40h-1.1M387.80,208.74h-1.1M387.80,207.30h-1.1M387.80,206.03h-1.1M387.80,146.97h-1.1M387.80,237.02h-1.1M387.80,235.27h-1.1M387.80,233.91h-1.1M387.80,232.81h-1.1M387.80,231.87h-1.1M387.80,231.06h-1.1M387.80,230.34h-1.1M393.80,238.80v2.3M411.00,238.80v2.3M426.20,238.80v2.3M451.20,238.80v2.3M474.00,238.80v2.3M433.73,239.10v1.1M438.13,239.10v1.1M441.25,239.10v1.1M443.67,239.10v1.1M445.65,239.10v1.1M447.33,239.10v1.1M448.78,239.10v1.1M450.06,239.10v1.1M458.06,239.10v1.1M462.08,239.10v1.1M464.93,239.10v1.1M467.14,239.10v1.1M468.94,239.10v1.1M470.47,239.10v1.1M471.79,239.10v1.1M472.96,239.10v1.1M480.62,239.10v1.1M395.40,239.10v1.1M424.90,239.10v1.1M397.00,239.10v1.1M423.60,239.10v1.1M398.60,239.10v1.1M422.30,239.10v1.1M400.20,239.10v1.1M421.00,239.10v1.1M401.80,239.10v1.1M419.70,239.10v1.1M403.40,239.10v1.1M418.40,239.10v1.1M405.00,239.10v1.1M417.10,239.10v1.1" stroke="#1a1a1a" stroke-width="0.9" fill="none"/>
<rect x="506.10" y="144.10" width="95.50" height="95.00" fill="none" stroke="#9c9c9c" stroke-width="0.9" />
<line x1="506.10" y1="144.10" x2="506.10" y2="239.10" stroke="#8a8a8a" stroke-width="0.9" />
<line x1="506.10" y1="239.10" x2="601.60" y2="239.10" stroke="#7a7a7a" stroke-width="0.9" />
<text x="502.6" y="156.7" font-size="4.0" text-anchor="end" style="fill:#4a4a4a">10<tspan font-size="3.0" dy="-1.6">5</tspan></text>
<text x="502.6" y="182.0" font-size="4.0" text-anchor="end" style="fill:#4a4a4a">10<tspan font-size="3.0" dy="-1.6">4</tspan></text>
<text x="502.6" y="207.1" font-size="4.0" text-anchor="end" style="fill:#4a4a4a">10<tspan font-size="3.0" dy="-1.6">3</tspan></text>
<text x="502.6" y="231.9" font-size="4.0" text-anchor="end" style="fill:#4a4a4a">10<tspan font-size="3.0" dy="-1.6">2</tspan></text>
<text x="514.7" y="246.8" font-size="4.0" text-anchor="middle" style="fill:#4a4a4a">-10<tspan font-size="3.0" dy="-1.6">3</tspan></text>
<text x="529.7" y="246.8" font-size="4.0" text-anchor="middle" style="fill:#4a4a4a">0</text>
<text x="547.1" y="246.8" font-size="4.0" text-anchor="middle" style="fill:#4a4a4a">10<tspan font-size="3.0" dy="-1.6">3</tspan></text>
<text x="572.1" y="246.8" font-size="4.0" text-anchor="middle" style="fill:#4a4a4a">10<tspan font-size="3.0" dy="-1.6">4</tspan></text>
<text x="594.9" y="246.8" font-size="4.0" text-anchor="middle" style="fill:#4a4a4a">10<tspan font-size="3.0" dy="-1.6">5</tspan></text>
<rect x="524.70" y="239.30" width="4.20" height="1.60" fill="#222" stroke="none" stroke-width="0" />
<path d="M506.40,154.50h-2.3M506.40,179.80h-2.3M506.40,204.90h-2.3M506.40,229.70h-2.3M506.10,172.18h-1.1M506.10,167.73h-1.1M506.10,164.57h-1.1M506.10,162.12h-1.1M506.10,160.11h-1.1M506.10,158.42h-1.1M506.10,156.95h-1.1M506.10,155.66h-1.1M506.10,197.34h-1.1M506.10,192.92h-1.1M506.10,189.79h-1.1M506.10,187.36h-1.1M506.10,185.37h-1.1M506.10,183.69h-1.1M506.10,182.23h-1.1M506.10,180.95h-1.1M506.10,222.23h-1.1M506.10,217.87h-1.1M506.10,214.77h-1.1M506.10,212.37h-1.1M506.10,210.40h-1.1M506.10,208.74h-1.1M506.10,207.30h-1.1M506.10,206.03h-1.1M506.10,146.97h-1.1M506.10,237.02h-1.1M506.10,235.27h-1.1M506.10,233.91h-1.1M506.10,232.81h-1.1M506.10,231.87h-1.1M506.10,231.06h-1.1M506.10,230.34h-1.1M512.10,238.80v2.3M529.30,238.80v2.3M544.50,238.80v2.3M569.50,238.80v2.3M592.30,238.80v2.3M552.03,239.10v1.1M556.43,239.10v1.1M559.55,239.10v1.1M561.97,239.10v1.1M563.95,239.10v1.1M565.63,239.10v1.1M567.08,239.10v1.1M568.36,239.10v1.1M576.36,239.10v1.1M580.38,239.10v1.1M583.23,239.10v1.1M585.44,239.10v1.1M587.24,239.10v1.1M588.77,239.10v1.1M590.09,239.10v1.1M591.26,239.10v1.1M598.92,239.10v1.1M513.70,239.10v1.1M543.20,239.10v1.1M515.30,239.10v1.1M541.90,239.10v1.1M516.90,239.10v1.1M540.60,239.10v1.1M518.50,239.10v1.1M539.30,239.10v1.1M520.10,239.10v1.1M538.00,239.10v1.1M521.70,239.10v1.1M536.70,239.10v1.1M523.30,239.10v1.1M535.40,239.10v1.1" stroke="#1a1a1a" stroke-width="0.9" fill="none"/>
<rect x="417.40" y="162.00" width="34.90" height="44.50" fill="none" stroke="#6e6e6e" stroke-width="0.9" />
<line x1="453.00" y1="162.50" x2="453.00" y2="206.50" stroke="#9a9a9a" stroke-width="0.8" />
<text x="434.5" y="156.9" font-size="9.6" text-anchor="middle" style="fill:#2b2b2b">0.059</text>
<rect x="535.50" y="162.00" width="35.90" height="44.50" fill="none" stroke="#6e6e6e" stroke-width="0.9" />
<line x1="572.10" y1="162.50" x2="572.10" y2="206.50" stroke="#9a9a9a" stroke-width="0.8" />
<text x="552.6" y="156.9" font-size="9.6" text-anchor="middle" style="fill:#2b2b2b">0.20</text>
<clipPath id="clipL1"><rect x="387.8" y="144.1" width="96.09999999999997" height="94.6"/></clipPath>
<clipPath id="clipL2"><rect x="506.1" y="144.1" width="95.5" height="94.6"/></clipPath>
<g clip-path="url(#clipL1)">
<path d="M420.3,213.7 L421.4,212.5 L422.4,209.6 L423.5,210.1 L424.5,209.6 L425.6,208.2 L426.6,206.7 L427.7,207.0 L428.8,206.1 L429.8,206.3 L430.9,207.8 L431.9,206.9 L433.0,206.8 L434.0,206.9 L435.1,207.0 L436.1,206.1 L437.2,205.9 L438.3,205.7 L439.3,205.7 L440.4,205.3 L441.4,205.3 L442.5,204.0 L443.5,204.8 L444.6,204.2 L445.7,204.7 L446.7,202.9 L447.8,202.9 L448.8,202.6 L449.9,204.7 L450.9,205.7 L452.0,206.2 L451.6,208.8 L452.3,211.6 L452.2,214.3 L451.9,217.1 L451.5,219.9 L451.5,222.7 L451.7,225.5 L451.5,228.3 L451.7,231.1 L452.0,233.8 L452.4,236.6 L449.8,239.4 L421.1,239.4 L419.9,237.2 L420.6,235.1 L419.9,232.9 L420.0,230.8 L420.9,228.6 L420.6,226.4 L421.1,224.3 L420.4,222.1 L419.8,220.0 L420.3,217.8 L420.6,215.7 Z" fill="#0a0a0a"/>
<ellipse cx="437.7" cy="223.9" rx="12.0" ry="13.5" fill="url(#dg)"/>
<path d="M450.0,200.8h1.20v1.20h-1.20zM435.4,205.9h1.20v1.20h-1.20zM423.5,207.3h1.20v1.20h-1.20zM427.0,208.1h1.20v1.20h-1.20zM420.8,209.4h1.20v1.20h-1.20zM442.0,205.3h1.20v1.20h-1.20zM450.9,203.6h1.20v1.20h-1.20zM447.9,204.2h1.20v1.20h-1.20zM420.9,207.5h1.20v1.20h-1.20zM428.0,206.1h1.20v1.20h-1.20zM426.2,208.3h1.20v1.20h-1.20zM444.8,203.0h1.20v1.20h-1.20zM447.4,202.4h1.20v1.20h-1.20zM423.0,207.5h1.20v1.20h-1.20zM442.8,204.3h1.20v1.20h-1.20zM449.9,203.5h1.20v1.20h-1.20zM450.9,201.8h1.20v1.20h-1.20zM420.7,209.4h1.20v1.20h-1.20zM440.9,203.3h1.20v1.20h-1.20zM422.8,208.5h1.20v1.20h-1.20zM443.4,204.9h1.20v1.20h-1.20zM447.6,203.3h1.20v1.20h-1.20zM422.2,208.5h1.20v1.20h-1.20zM438.5,205.2h1.20v1.20h-1.20zM441.8,205.3h1.20v1.20h-1.20zM445.6,204.1h1.20v1.20h-1.20zM440.7,204.1h1.20v1.20h-1.20zM433.5,206.3h1.20v1.20h-1.20zM445.2,201.9h1.20v1.20h-1.20zM445.2,203.5h1.20v1.20h-1.20zM429.6,207.7h1.20v1.20h-1.20zM451.2,201.8h1.20v1.20h-1.20zM446.5,204.0h1.20v1.20h-1.20zM439.5,202.8h1.20v1.20h-1.20zM446.7,203.1h1.20v1.20h-1.20zM430.1,206.8h1.20v1.20h-1.20zM448.5,203.5h1.20v1.20h-1.20zM442.0,204.0h1.20v1.20h-1.20zM448.7,201.9h1.20v1.20h-1.20zM429.3,207.8h1.20v1.20h-1.20zM428.6,207.1h1.20v1.20h-1.20zM438.9,203.7h1.20v1.20h-1.20zM448.4,204.2h1.20v1.20h-1.20zM446.7,202.2h1.20v1.20h-1.20zM447.8,203.0h1.20v1.20h-1.20zM429.0,205.4h1.20v1.20h-1.20zM445.9,202.9h1.20v1.20h-1.20zM449.3,203.4h1.20v1.20h-1.20zM423.0,207.7h1.20v1.20h-1.20zM445.6,204.5h1.20v1.20h-1.20zM444.1,202.1h1.20v1.20h-1.20zM427.7,206.7h1.20v1.20h-1.20zM441.8,204.5h1.20v1.20h-1.20zM426.8,207.9h1.20v1.20h-1.20zM444.1,202.8h1.20v1.20h-1.20zM434.9,206.7h1.20v1.20h-1.20zM445.9,202.5h1.20v1.20h-1.20zM427.7,206.8h1.20v1.20h-1.20zM448.7,201.5h1.20v1.20h-1.20zM436.8,205.4h1.20v1.20h-1.20zM439.0,205.7h1.20v1.20h-1.20zM426.4,208.1h1.20v1.20h-1.20zM442.5,204.7h1.20v1.20h-1.20zM438.2,205.4h1.20v1.20h-1.20zM436.7,206.2h1.20v1.20h-1.20zM421.7,206.0h1.20v1.20h-1.20zM432.2,207.2h1.20v1.20h-1.20zM440.4,203.5h1.20v1.20h-1.20zM425.3,207.2h1.20v1.20h-1.20zM431.2,206.3h1.20v1.20h-1.20z" fill="#000"/>
</g>
<path d="M452.0,207.5h1.24v1.24h-1.24zM448.5,193.3h1.24v1.24h-1.24zM439.4,203.5h1.24v1.24h-1.24zM442.0,196.2h1.24v1.24h-1.24zM452.0,204.5h1.24v1.24h-1.24zM440.4,194.9h1.24v1.24h-1.24zM444.1,189.5h1.24v1.24h-1.24zM446.0,206.9h1.24v1.24h-1.24zM446.0,207.0h1.24v1.24h-1.24zM445.3,202.1h1.24v1.24h-1.24zM428.4,193.1h1.24v1.24h-1.24zM448.4,191.7h1.24v1.24h-1.24zM438.6,207.5h1.24v1.24h-1.24zM440.3,207.3h1.24v1.24h-1.24zM443.8,189.7h1.24v1.24h-1.24zM452.0,200.2h1.24v1.24h-1.24zM440.9,189.8h1.24v1.24h-1.24zM438.3,204.2h1.24v1.24h-1.24zM452.0,207.2h1.24v1.24h-1.24zM439.7,206.8h1.24v1.24h-1.24zM443.9,207.5h1.24v1.24h-1.24zM450.4,191.9h1.24v1.24h-1.24zM445.2,191.9h1.24v1.24h-1.24zM442.4,196.0h1.24v1.24h-1.24zM432.3,198.3h1.24v1.24h-1.24zM428.6,207.5h1.24v1.24h-1.24zM444.7,207.2h1.24v1.24h-1.24zM428.3,199.2h1.24v1.24h-1.24zM434.7,206.1h1.24v1.24h-1.24zM438.0,207.4h1.24v1.24h-1.24zM444.0,205.9h1.24v1.24h-1.24zM447.6,203.6h1.24v1.24h-1.24zM444.4,207.1h1.24v1.24h-1.24zM447.9,199.2h1.24v1.24h-1.24zM443.3,207.5h1.24v1.24h-1.24zM439.8,207.5h1.24v1.24h-1.24zM447.0,191.0h1.24v1.24h-1.24zM452.0,193.3h1.24v1.24h-1.24zM448.8,192.5h1.24v1.24h-1.24zM449.8,207.4h1.24v1.24h-1.24zM449.3,190.9h1.24v1.24h-1.24zM436.2,204.1h1.24v1.24h-1.24zM447.6,205.7h1.24v1.24h-1.24zM437.3,200.5h1.24v1.24h-1.24zM444.6,207.2h1.24v1.24h-1.24zM446.4,198.2h1.24v1.24h-1.24zM452.0,202.2h1.24v1.24h-1.24zM452.0,206.4h1.24v1.24h-1.24zM447.1,204.7h1.24v1.24h-1.24zM448.6,194.2h1.24v1.24h-1.24zM448.0,205.7h1.24v1.24h-1.24zM451.0,205.9h1.24v1.24h-1.24zM452.0,191.9h1.24v1.24h-1.24zM452.0,207.5h1.24v1.24h-1.24zM441.9,192.2h1.24v1.24h-1.24z" fill="#000"/>
<path d="M441.2,184.6h1.40v1.40h-1.40zM432.5,190.8h1.40v1.40h-1.40zM443.8,190.4h1.40v1.40h-1.40zM446.3,192.6h1.40v1.40h-1.40zM421.6,195.4h1.40v1.40h-1.40zM448.0,196.0h1.40v1.40h-1.40zM444.2,197.2h1.40v1.40h-1.40z" fill="#000"/>
<g clip-path="url(#clipL2)">
<path d="M538.4,210.3 L539.5,208.5 L540.5,207.3 L541.6,206.3 L542.7,205.9 L543.7,206.8 L544.8,206.5 L545.9,206.2 L546.9,204.3 L548.0,204.6 L549.1,205.9 L550.1,203.9 L551.2,205.4 L552.3,204.3 L553.3,205.8 L554.4,203.5 L555.5,205.2 L556.5,204.1 L557.6,203.5 L558.7,203.1 L559.7,204.9 L560.8,204.2 L561.9,203.3 L562.9,203.8 L564.0,204.8 L565.1,203.1 L566.1,203.9 L567.2,203.0 L568.3,203.6 L569.3,205.8 L570.4,206.8 L569.8,209.2 L569.6,212.0 L569.6,214.7 L570.4,217.5 L570.2,220.2 L569.9,222.9 L569.8,225.7 L570.4,228.4 L570.5,231.2 L570.6,233.9 L570.3,236.7 L568.2,239.4 L539.2,239.4 L538.2,237.0 L538.0,234.6 L538.9,232.2 L538.5,229.8 L538.9,227.4 L538.0,224.9 L539.0,222.5 L538.4,220.1 L539.1,217.7 L539.1,215.3 L538.6,212.9 Z" fill="#0a0a0a"/>
<ellipse cx="554.1" cy="223.0" rx="12.0" ry="13.5" fill="url(#dg)"/>
<path d="M538.9,203.7h1.20v1.20h-1.20zM553.7,202.7h1.20v1.20h-1.20zM546.9,205.6h1.20v1.20h-1.20zM565.0,203.8h1.20v1.20h-1.20zM543.6,205.4h1.20v1.20h-1.20zM557.4,205.0h1.20v1.20h-1.20zM555.0,204.3h1.20v1.20h-1.20zM554.9,205.1h1.20v1.20h-1.20zM561.3,202.4h1.20v1.20h-1.20zM566.1,203.8h1.20v1.20h-1.20zM561.2,204.0h1.20v1.20h-1.20zM562.4,204.6h1.20v1.20h-1.20zM566.3,201.3h1.20v1.20h-1.20zM554.2,204.2h1.20v1.20h-1.20zM555.4,204.0h1.20v1.20h-1.20zM539.1,203.4h1.20v1.20h-1.20zM545.6,205.7h1.20v1.20h-1.20zM541.7,205.9h1.20v1.20h-1.20zM564.5,204.4h1.20v1.20h-1.20zM541.5,204.5h1.20v1.20h-1.20zM544.6,206.0h1.20v1.20h-1.20zM557.6,203.7h1.20v1.20h-1.20zM555.1,203.4h1.20v1.20h-1.20zM541.7,203.7h1.20v1.20h-1.20zM561.3,204.7h1.20v1.20h-1.20zM542.3,205.2h1.20v1.20h-1.20zM554.4,204.8h1.20v1.20h-1.20zM542.3,205.4h1.20v1.20h-1.20zM542.8,204.8h1.20v1.20h-1.20zM566.0,204.2h1.20v1.20h-1.20zM556.7,203.1h1.20v1.20h-1.20zM543.7,203.7h1.20v1.20h-1.20zM568.4,203.5h1.20v1.20h-1.20zM551.9,203.0h1.20v1.20h-1.20zM555.2,204.5h1.20v1.20h-1.20zM568.5,202.0h1.20v1.20h-1.20zM549.2,205.3h1.20v1.20h-1.20zM549.1,204.8h1.20v1.20h-1.20zM569.8,201.8h1.20v1.20h-1.20zM567.6,201.9h1.20v1.20h-1.20zM565.5,204.4h1.20v1.20h-1.20zM555.0,202.2h1.20v1.20h-1.20zM568.3,203.8h1.20v1.20h-1.20zM551.9,203.9h1.20v1.20h-1.20zM550.1,204.4h1.20v1.20h-1.20zM540.6,205.5h1.20v1.20h-1.20zM554.6,205.2h1.20v1.20h-1.20zM542.9,203.1h1.20v1.20h-1.20zM563.3,201.7h1.20v1.20h-1.20zM558.7,202.6h1.20v1.20h-1.20zM566.7,201.7h1.20v1.20h-1.20zM539.5,204.8h1.20v1.20h-1.20zM546.9,204.1h1.20v1.20h-1.20zM547.1,204.6h1.20v1.20h-1.20zM568.0,202.7h1.20v1.20h-1.20zM546.4,204.7h1.20v1.20h-1.20zM552.3,202.5h1.20v1.20h-1.20zM547.6,205.3h1.20v1.20h-1.20zM559.1,204.8h1.20v1.20h-1.20zM557.4,202.0h1.20v1.20h-1.20zM554.8,204.8h1.20v1.20h-1.20zM553.3,204.2h1.20v1.20h-1.20zM543.1,206.0h1.20v1.20h-1.20zM542.6,205.7h1.20v1.20h-1.20zM551.4,205.0h1.20v1.20h-1.20zM546.2,205.8h1.20v1.20h-1.20zM555.9,202.7h1.20v1.20h-1.20zM557.9,203.7h1.20v1.20h-1.20zM559.2,204.6h1.20v1.20h-1.20zM561.1,203.8h1.20v1.20h-1.20z" fill="#000"/>
</g>
<path d="M554.3,198.7h1.24v1.24h-1.24zM552.5,196.4h1.24v1.24h-1.24zM559.8,205.6h1.24v1.24h-1.24zM551.5,205.9h1.24v1.24h-1.24zM558.0,197.4h1.24v1.24h-1.24zM550.0,207.0h1.24v1.24h-1.24zM570.0,205.7h1.24v1.24h-1.24zM552.7,198.5h1.24v1.24h-1.24zM558.9,176.8h1.24v1.24h-1.24zM559.2,204.9h1.24v1.24h-1.24zM554.4,206.9h1.24v1.24h-1.24zM556.2,184.1h1.24v1.24h-1.24zM559.5,203.1h1.24v1.24h-1.24zM558.3,201.9h1.24v1.24h-1.24zM555.2,205.8h1.24v1.24h-1.24zM558.3,178.7h1.24v1.24h-1.24zM554.4,204.2h1.24v1.24h-1.24zM554.1,203.9h1.24v1.24h-1.24zM549.7,185.3h1.24v1.24h-1.24zM546.9,186.9h1.24v1.24h-1.24zM557.3,190.9h1.24v1.24h-1.24zM546.1,190.1h1.24v1.24h-1.24zM560.6,192.5h1.24v1.24h-1.24zM568.8,181.5h1.24v1.24h-1.24zM569.0,207.0h1.24v1.24h-1.24zM551.3,189.8h1.24v1.24h-1.24zM554.3,178.5h1.24v1.24h-1.24zM547.6,197.9h1.24v1.24h-1.24zM564.8,184.0h1.24v1.24h-1.24zM552.9,196.7h1.24v1.24h-1.24zM564.0,201.4h1.24v1.24h-1.24zM556.7,191.8h1.24v1.24h-1.24zM565.5,198.5h1.24v1.24h-1.24zM553.1,203.2h1.24v1.24h-1.24zM570.0,185.3h1.24v1.24h-1.24zM554.3,200.3h1.24v1.24h-1.24zM560.2,204.7h1.24v1.24h-1.24zM550.1,206.6h1.24v1.24h-1.24zM554.3,206.9h1.24v1.24h-1.24zM552.4,181.2h1.24v1.24h-1.24zM570.0,186.0h1.24v1.24h-1.24zM560.7,178.7h1.24v1.24h-1.24zM565.9,181.8h1.24v1.24h-1.24zM567.5,207.0h1.24v1.24h-1.24zM561.3,200.3h1.24v1.24h-1.24zM559.9,181.2h1.24v1.24h-1.24zM549.7,176.1h1.24v1.24h-1.24zM547.7,199.7h1.24v1.24h-1.24zM557.4,203.1h1.24v1.24h-1.24zM553.1,203.8h1.24v1.24h-1.24zM554.8,179.4h1.24v1.24h-1.24zM555.4,193.9h1.24v1.24h-1.24zM558.1,203.4h1.24v1.24h-1.24zM549.9,202.9h1.24v1.24h-1.24zM555.1,183.6h1.24v1.24h-1.24zM550.9,178.4h1.24v1.24h-1.24zM559.2,196.0h1.24v1.24h-1.24zM553.7,176.3h1.24v1.24h-1.24zM566.0,187.2h1.24v1.24h-1.24zM550.3,206.4h1.24v1.24h-1.24zM570.0,186.6h1.24v1.24h-1.24zM570.0,199.9h1.24v1.24h-1.24zM568.4,193.3h1.24v1.24h-1.24zM570.0,186.9h1.24v1.24h-1.24zM557.7,202.4h1.24v1.24h-1.24zM556.5,206.5h1.24v1.24h-1.24zM566.9,200.1h1.24v1.24h-1.24zM562.8,206.2h1.24v1.24h-1.24zM567.9,196.8h1.24v1.24h-1.24zM568.8,203.9h1.24v1.24h-1.24zM558.2,207.0h1.24v1.24h-1.24zM560.0,202.6h1.24v1.24h-1.24zM552.6,193.3h1.24v1.24h-1.24zM554.0,207.0h1.24v1.24h-1.24zM570.0,197.4h1.24v1.24h-1.24zM561.4,194.2h1.24v1.24h-1.24zM566.6,198.6h1.24v1.24h-1.24zM553.2,205.3h1.24v1.24h-1.24zM551.5,176.2h1.24v1.24h-1.24zM555.5,197.8h1.24v1.24h-1.24zM560.5,206.5h1.24v1.24h-1.24zM561.2,190.1h1.24v1.24h-1.24zM560.7,206.4h1.24v1.24h-1.24zM563.0,199.6h1.24v1.24h-1.24zM549.7,187.7h1.24v1.24h-1.24zM570.0,206.9h1.24v1.24h-1.24zM559.6,204.4h1.24v1.24h-1.24zM555.9,192.2h1.24v1.24h-1.24zM562.1,205.3h1.24v1.24h-1.24zM566.4,206.8h1.24v1.24h-1.24zM553.2,203.9h1.24v1.24h-1.24zM556.8,201.7h1.24v1.24h-1.24zM560.2,183.0h1.24v1.24h-1.24zM566.1,197.6h1.24v1.24h-1.24zM556.7,196.2h1.24v1.24h-1.24zM570.0,205.5h1.24v1.24h-1.24zM563.1,185.1h1.24v1.24h-1.24zM569.3,204.6h1.24v1.24h-1.24zM550.7,204.7h1.24v1.24h-1.24zM566.8,196.8h1.24v1.24h-1.24zM556.5,179.3h1.24v1.24h-1.24zM549.8,205.6h1.24v1.24h-1.24zM565.9,205.9h1.24v1.24h-1.24zM564.5,204.7h1.24v1.24h-1.24zM552.8,188.4h1.24v1.24h-1.24zM561.7,205.6h1.24v1.24h-1.24zM564.6,206.2h1.24v1.24h-1.24zM556.3,177.9h1.24v1.24h-1.24zM567.5,206.7h1.24v1.24h-1.24zM553.1,199.2h1.24v1.24h-1.24zM563.4,206.9h1.24v1.24h-1.24zM561.7,206.7h1.24v1.24h-1.24zM552.6,205.6h1.24v1.24h-1.24zM557.5,206.2h1.24v1.24h-1.24zM563.8,207.0h1.24v1.24h-1.24zM556.3,194.4h1.24v1.24h-1.24zM562.1,192.6h1.24v1.24h-1.24zM556.9,206.8h1.24v1.24h-1.24zM570.0,206.7h1.24v1.24h-1.24zM565.3,201.8h1.24v1.24h-1.24zM547.5,206.5h1.24v1.24h-1.24zM557.4,203.9h1.24v1.24h-1.24zM551.7,178.8h1.24v1.24h-1.24zM566.7,206.0h1.24v1.24h-1.24zM556.0,205.8h1.24v1.24h-1.24zM566.3,201.6h1.24v1.24h-1.24zM566.9,205.4h1.24v1.24h-1.24zM552.7,182.4h1.24v1.24h-1.24zM555.0,205.6h1.24v1.24h-1.24zM562.0,196.6h1.24v1.24h-1.24zM570.0,206.7h1.24v1.24h-1.24zM553.1,199.9h1.24v1.24h-1.24zM557.1,189.5h1.24v1.24h-1.24zM553.5,203.2h1.24v1.24h-1.24zM550.8,204.6h1.24v1.24h-1.24zM562.5,203.1h1.24v1.24h-1.24zM560.9,185.3h1.24v1.24h-1.24zM556.8,204.5h1.24v1.24h-1.24zM555.6,198.3h1.24v1.24h-1.24zM552.6,203.7h1.24v1.24h-1.24zM558.6,206.9h1.24v1.24h-1.24zM559.2,204.6h1.24v1.24h-1.24zM562.3,192.1h1.24v1.24h-1.24zM545.7,205.1h1.24v1.24h-1.24zM567.6,189.3h1.24v1.24h-1.24zM561.1,183.4h1.24v1.24h-1.24zM555.7,205.2h1.24v1.24h-1.24zM554.1,207.0h1.24v1.24h-1.24zM549.0,203.9h1.24v1.24h-1.24zM552.6,202.6h1.24v1.24h-1.24z" fill="#000"/>
<path d="M552.6,198.5h1.24v1.24h-1.24zM555.1,177.8h1.24v1.24h-1.24zM566.0,199.2h1.24v1.24h-1.24zM567.5,199.7h1.24v1.24h-1.24zM555.1,184.8h1.24v1.24h-1.24zM563.0,200.0h1.24v1.24h-1.24zM560.6,199.1h1.24v1.24h-1.24zM558.7,197.7h1.24v1.24h-1.24zM560.9,197.6h1.24v1.24h-1.24zM564.3,188.1h1.24v1.24h-1.24zM569.0,190.7h1.24v1.24h-1.24zM559.6,184.6h1.24v1.24h-1.24zM565.7,186.1h1.24v1.24h-1.24zM569.0,196.8h1.24v1.24h-1.24zM559.9,181.7h1.24v1.24h-1.24zM569.0,198.0h1.24v1.24h-1.24zM562.7,189.3h1.24v1.24h-1.24zM559.9,200.0h1.24v1.24h-1.24zM562.5,180.9h1.24v1.24h-1.24zM567.7,199.0h1.24v1.24h-1.24zM555.1,199.9h1.24v1.24h-1.24zM552.6,185.6h1.24v1.24h-1.24zM565.5,178.8h1.24v1.24h-1.24zM569.0,198.0h1.24v1.24h-1.24zM566.9,195.2h1.24v1.24h-1.24zM556.6,172.7h1.24v1.24h-1.24zM551.4,178.8h1.24v1.24h-1.24zM558.0,188.5h1.24v1.24h-1.24zM560.3,185.5h1.24v1.24h-1.24zM547.2,195.0h1.24v1.24h-1.24zM558.9,199.7h1.24v1.24h-1.24zM568.1,182.4h1.24v1.24h-1.24zM562.1,180.1h1.24v1.24h-1.24zM546.0,198.3h1.24v1.24h-1.24zM555.6,188.1h1.24v1.24h-1.24zM559.8,191.6h1.24v1.24h-1.24zM561.7,196.7h1.24v1.24h-1.24zM561.2,195.5h1.24v1.24h-1.24zM564.3,199.6h1.24v1.24h-1.24zM557.8,185.1h1.24v1.24h-1.24zM556.2,198.6h1.24v1.24h-1.24zM547.6,192.6h1.24v1.24h-1.24zM564.2,196.8h1.24v1.24h-1.24zM562.1,197.7h1.24v1.24h-1.24zM557.8,190.9h1.24v1.24h-1.24zM562.6,197.1h1.24v1.24h-1.24zM553.4,182.5h1.24v1.24h-1.24zM556.1,199.4h1.24v1.24h-1.24zM553.3,194.2h1.24v1.24h-1.24zM561.1,182.2h1.24v1.24h-1.24zM557.4,197.9h1.24v1.24h-1.24zM560.3,196.6h1.24v1.24h-1.24zM561.7,198.0h1.24v1.24h-1.24zM558.0,199.1h1.24v1.24h-1.24zM554.1,199.7h1.24v1.24h-1.24z" fill="#000"/>
<path d="M560.2,166.6h1.40v1.40h-1.40zM567.0,168.2h1.40v1.40h-1.40zM562.8,174.0h1.40v1.40h-1.40zM540.6,181.2h1.40v1.40h-1.40zM547.6,180.2h1.40v1.40h-1.40zM556.8,178.0h1.40v1.40h-1.40z" fill="#000"/>
<rect x="387.80" y="272.40" width="96.10" height="95.50" fill="none" stroke="#9c9c9c" stroke-width="0.9" />
<line x1="387.80" y1="272.40" x2="387.80" y2="367.90" stroke="#8a8a8a" stroke-width="0.9" />
<line x1="387.80" y1="367.90" x2="483.90" y2="367.90" stroke="#7a7a7a" stroke-width="0.9" />
<text x="384.3" y="285.0" font-size="4.0" text-anchor="end" style="fill:#4a4a4a">10<tspan font-size="3.0" dy="-1.6">5</tspan></text>
<text x="384.3" y="310.3" font-size="4.0" text-anchor="end" style="fill:#4a4a4a">10<tspan font-size="3.0" dy="-1.6">4</tspan></text>
<text x="384.3" y="335.4" font-size="4.0" text-anchor="end" style="fill:#4a4a4a">10<tspan font-size="3.0" dy="-1.6">3</tspan></text>
<text x="384.3" y="360.2" font-size="4.0" text-anchor="end" style="fill:#4a4a4a">10<tspan font-size="3.0" dy="-1.6">2</tspan></text>
<text x="396.4" y="375.6" font-size="4.0" text-anchor="middle" style="fill:#4a4a4a">-10<tspan font-size="3.0" dy="-1.6">3</tspan></text>
<text x="411.4" y="375.6" font-size="4.0" text-anchor="middle" style="fill:#4a4a4a">0</text>
<text x="428.8" y="375.6" font-size="4.0" text-anchor="middle" style="fill:#4a4a4a">10<tspan font-size="3.0" dy="-1.6">3</tspan></text>
<text x="453.8" y="375.6" font-size="4.0" text-anchor="middle" style="fill:#4a4a4a">10<tspan font-size="3.0" dy="-1.6">4</tspan></text>
<text x="476.6" y="375.6" font-size="4.0" text-anchor="middle" style="fill:#4a4a4a">10<tspan font-size="3.0" dy="-1.6">5</tspan></text>
<rect x="406.40" y="368.10" width="4.20" height="1.60" fill="#222" stroke="none" stroke-width="0" />
<path d="M388.10,282.80h-2.3M388.10,308.10h-2.3M388.10,333.20h-2.3M388.10,358.00h-2.3M387.80,300.48h-1.1M387.80,296.03h-1.1M387.80,292.87h-1.1M387.80,290.42h-1.1M387.80,288.41h-1.1M387.80,286.72h-1.1M387.80,285.25h-1.1M387.80,283.96h-1.1M387.80,325.64h-1.1M387.80,321.22h-1.1M387.80,318.09h-1.1M387.80,315.66h-1.1M387.80,313.67h-1.1M387.80,311.99h-1.1M387.80,310.53h-1.1M387.80,309.25h-1.1M387.80,350.53h-1.1M387.80,346.17h-1.1M387.80,343.07h-1.1M387.80,340.67h-1.1M387.80,338.70h-1.1M387.80,337.04h-1.1M387.80,335.60h-1.1M387.80,334.33h-1.1M387.80,275.27h-1.1M387.80,365.32h-1.1M387.80,363.57h-1.1M387.80,362.21h-1.1M387.80,361.11h-1.1M387.80,360.17h-1.1M387.80,359.36h-1.1M387.80,358.64h-1.1M393.80,367.60v2.3M411.00,367.60v2.3M426.20,367.60v2.3M451.20,367.60v2.3M474.00,367.60v2.3M433.73,367.90v1.1M438.13,367.90v1.1M441.25,367.90v1.1M443.67,367.90v1.1M445.65,367.90v1.1M447.33,367.90v1.1M448.78,367.90v1.1M450.06,367.90v1.1M458.06,367.90v1.1M462.08,367.90v1.1M464.93,367.90v1.1M467.14,367.90v1.1M468.94,367.90v1.1M470.47,367.90v1.1M471.79,367.90v1.1M472.96,367.90v1.1M480.62,367.90v1.1M395.40,367.90v1.1M424.90,367.90v1.1M397.00,367.90v1.1M423.60,367.90v1.1M398.60,367.90v1.1M422.30,367.90v1.1M400.20,367.90v1.1M421.00,367.90v1.1M401.80,367.90v1.1M419.70,367.90v1.1M403.40,367.90v1.1M418.40,367.90v1.1M405.00,367.90v1.1M417.10,367.90v1.1" stroke="#1a1a1a" stroke-width="0.9" fill="none"/>
<rect x="506.10" y="272.40" width="95.50" height="95.50" fill="none" stroke="#9c9c9c" stroke-width="0.9" />
<line x1="506.10" y1="272.40" x2="506.10" y2="367.90" stroke="#8a8a8a" stroke-width="0.9" />
<line x1="506.10" y1="367.90" x2="601.60" y2="367.90" stroke="#7a7a7a" stroke-width="0.9" />
<text x="502.6" y="285.0" font-size="4.0" text-anchor="end" style="fill:#4a4a4a">10<tspan font-size="3.0" dy="-1.6">5</tspan></text>
<text x="502.6" y="310.3" font-size="4.0" text-anchor="end" style="fill:#4a4a4a">10<tspan font-size="3.0" dy="-1.6">4</tspan></text>
<text x="502.6" y="335.4" font-size="4.0" text-anchor="end" style="fill:#4a4a4a">10<tspan font-size="3.0" dy="-1.6">3</tspan></text>
<text x="502.6" y="360.2" font-size="4.0" text-anchor="end" style="fill:#4a4a4a">10<tspan font-size="3.0" dy="-1.6">2</tspan></text>
<text x="514.7" y="375.6" font-size="4.0" text-anchor="middle" style="fill:#4a4a4a">-10<tspan font-size="3.0" dy="-1.6">3</tspan></text>
<text x="529.7" y="375.6" font-size="4.0" text-anchor="middle" style="fill:#4a4a4a">0</text>
<text x="547.1" y="375.6" font-size="4.0" text-anchor="middle" style="fill:#4a4a4a">10<tspan font-size="3.0" dy="-1.6">3</tspan></text>
<text x="572.1" y="375.6" font-size="4.0" text-anchor="middle" style="fill:#4a4a4a">10<tspan font-size="3.0" dy="-1.6">4</tspan></text>
<text x="594.9" y="375.6" font-size="4.0" text-anchor="middle" style="fill:#4a4a4a">10<tspan font-size="3.0" dy="-1.6">5</tspan></text>
<rect x="524.70" y="368.10" width="4.20" height="1.60" fill="#222" stroke="none" stroke-width="0" />
<path d="M506.40,282.80h-2.3M506.40,308.10h-2.3M506.40,333.20h-2.3M506.40,358.00h-2.3M506.10,300.48h-1.1M506.10,296.03h-1.1M506.10,292.87h-1.1M506.10,290.42h-1.1M506.10,288.41h-1.1M506.10,286.72h-1.1M506.10,285.25h-1.1M506.10,283.96h-1.1M506.10,325.64h-1.1M506.10,321.22h-1.1M506.10,318.09h-1.1M506.10,315.66h-1.1M506.10,313.67h-1.1M506.10,311.99h-1.1M506.10,310.53h-1.1M506.10,309.25h-1.1M506.10,350.53h-1.1M506.10,346.17h-1.1M506.10,343.07h-1.1M506.10,340.67h-1.1M506.10,338.70h-1.1M506.10,337.04h-1.1M506.10,335.60h-1.1M506.10,334.33h-1.1M506.10,275.27h-1.1M506.10,365.32h-1.1M506.10,363.57h-1.1M506.10,362.21h-1.1M506.10,361.11h-1.1M506.10,360.17h-1.1M506.10,359.36h-1.1M506.10,358.64h-1.1M512.10,367.60v2.3M529.30,367.60v2.3M544.50,367.60v2.3M569.50,367.60v2.3M592.30,367.60v2.3M552.03,367.90v1.1M556.43,367.90v1.1M559.55,367.90v1.1M561.97,367.90v1.1M563.95,367.90v1.1M565.63,367.90v1.1M567.08,367.90v1.1M568.36,367.90v1.1M576.36,367.90v1.1M580.38,367.90v1.1M583.23,367.90v1.1M585.44,367.90v1.1M587.24,367.90v1.1M588.77,367.90v1.1M590.09,367.90v1.1M591.26,367.90v1.1M598.92,367.90v1.1M513.70,367.90v1.1M543.20,367.90v1.1M515.30,367.90v1.1M541.90,367.90v1.1M516.90,367.90v1.1M540.60,367.90v1.1M518.50,367.90v1.1M539.30,367.90v1.1M520.10,367.90v1.1M538.00,367.90v1.1M521.70,367.90v1.1M536.70,367.90v1.1M523.30,367.90v1.1M535.40,367.90v1.1" stroke="#1a1a1a" stroke-width="0.9" fill="none"/>
<rect x="421.20" y="291.20" width="31.10" height="45.30" fill="none" stroke="#6e6e6e" stroke-width="0.9" />
<line x1="453.00" y1="291.70" x2="453.00" y2="336.50" stroke="#9a9a9a" stroke-width="0.8" />
<text x="436.4" y="285.9" font-size="9.6" text-anchor="middle" style="fill:#2b2b2b">0.12</text>
<rect x="539.70" y="291.20" width="31.30" height="45.30" fill="none" stroke="#6e6e6e" stroke-width="0.9" />
<line x1="571.70" y1="291.70" x2="571.70" y2="336.50" stroke="#9a9a9a" stroke-width="0.8" />
<text x="556.4" y="285.9" font-size="9.6" text-anchor="middle" style="fill:#2b2b2b">0.36</text>
<clipPath id="clipS1"><rect x="387.8" y="272.4" width="96.09999999999997" height="95.1"/></clipPath>
<clipPath id="clipS2"><rect x="506.1" y="272.4" width="95.5" height="95.1"/></clipPath>
<g clip-path="url(#clipS1)">
<path d="M425.6,343.4 L426.4,342.5 L427.3,341.2 L428.1,339.9 L429.0,339.0 L429.8,338.4 L430.7,340.4 L431.5,339.8 L432.4,338.3 L433.2,339.7 L434.1,340.3 L434.9,339.3 L435.8,338.3 L436.6,339.1 L437.5,339.0 L438.3,338.4 L439.1,339.2 L440.0,337.9 L440.8,340.0 L441.7,339.4 L442.5,339.3 L443.4,340.0 L444.2,339.3 L445.1,338.4 L445.9,338.4 L446.8,338.1 L447.6,337.8 L448.5,339.8 L449.3,340.5 L450.2,340.1 L451.0,341.1 L451.0,344.2 L451.3,346.4 L451.4,348.6 L450.3,350.7 L451.2,352.9 L451.3,355.1 L451.1,357.3 L450.6,359.5 L450.4,361.6 L451.3,363.8 L450.5,366.0 L448.8,368.2 L426.4,368.2 L425.6,366.2 L425.9,364.2 L425.6,362.1 L426.3,360.1 L425.4,358.1 L425.2,356.1 L425.9,354.1 L426.0,352.1 L426.2,350.1 L426.1,348.0 L426.4,346.0 Z" fill="#0a0a0a"/>
<ellipse cx="438.3" cy="351.6" rx="10.5" ry="13.0" fill="url(#dg2)"/>
<path d="M449.6,338.5h1.20v1.20h-1.20zM438.3,339.6h1.20v1.20h-1.20zM433.2,338.5h1.20v1.20h-1.20zM427.6,338.2h1.20v1.20h-1.20zM429.8,339.0h1.20v1.20h-1.20zM450.2,339.4h1.20v1.20h-1.20zM426.6,339.1h1.20v1.20h-1.20zM430.4,338.0h1.20v1.20h-1.20zM425.7,337.6h1.20v1.20h-1.20zM447.3,337.4h1.20v1.20h-1.20zM436.4,339.4h1.20v1.20h-1.20zM442.4,338.6h1.20v1.20h-1.20zM436.3,339.2h1.20v1.20h-1.20zM436.7,338.1h1.20v1.20h-1.20zM446.6,336.9h1.20v1.20h-1.20zM429.8,339.5h1.20v1.20h-1.20zM436.9,338.5h1.20v1.20h-1.20zM434.4,339.6h1.20v1.20h-1.20zM427.8,339.4h1.20v1.20h-1.20zM437.3,336.7h1.20v1.20h-1.20zM448.7,337.0h1.20v1.20h-1.20zM450.3,336.5h1.20v1.20h-1.20zM441.3,337.4h1.20v1.20h-1.20zM427.1,338.3h1.20v1.20h-1.20zM441.1,339.2h1.20v1.20h-1.20zM440.1,336.8h1.20v1.20h-1.20zM437.8,338.2h1.20v1.20h-1.20zM433.2,339.3h1.20v1.20h-1.20zM448.1,339.5h1.20v1.20h-1.20zM430.4,338.2h1.20v1.20h-1.20zM437.0,339.7h1.20v1.20h-1.20zM442.4,339.0h1.20v1.20h-1.20zM440.4,338.9h1.20v1.20h-1.20zM439.1,338.5h1.20v1.20h-1.20zM435.7,339.7h1.20v1.20h-1.20zM430.2,337.3h1.20v1.20h-1.20zM439.5,339.6h1.20v1.20h-1.20zM447.5,339.2h1.20v1.20h-1.20zM428.0,338.8h1.20v1.20h-1.20zM432.0,338.9h1.20v1.20h-1.20zM439.7,339.4h1.20v1.20h-1.20zM440.1,339.6h1.20v1.20h-1.20zM438.6,338.4h1.20v1.20h-1.20zM427.6,339.2h1.20v1.20h-1.20zM427.5,339.1h1.20v1.20h-1.20zM447.5,338.3h1.20v1.20h-1.20zM443.8,337.6h1.20v1.20h-1.20zM428.5,336.8h1.20v1.20h-1.20zM443.9,339.6h1.20v1.20h-1.20zM446.7,338.9h1.20v1.20h-1.20zM429.9,336.9h1.20v1.20h-1.20zM439.9,337.6h1.20v1.20h-1.20zM429.1,337.8h1.20v1.20h-1.20zM427.1,339.7h1.20v1.20h-1.20zM435.1,339.8h1.20v1.20h-1.20zM440.7,339.4h1.20v1.20h-1.20zM433.2,338.0h1.20v1.20h-1.20zM436.4,337.1h1.20v1.20h-1.20zM441.4,337.1h1.20v1.20h-1.20zM439.9,336.9h1.20v1.20h-1.20zM447.7,339.4h1.20v1.20h-1.20zM444.5,339.1h1.20v1.20h-1.20zM445.0,337.9h1.20v1.20h-1.20zM446.6,339.5h1.20v1.20h-1.20zM435.1,337.8h1.20v1.20h-1.20zM449.7,337.6h1.20v1.20h-1.20zM426.7,338.6h1.20v1.20h-1.20zM428.1,338.7h1.20v1.20h-1.20zM446.0,339.5h1.20v1.20h-1.20zM449.1,337.8h1.20v1.20h-1.20z" fill="#000"/>
</g>
<path d="M439.0,338.2h1.24v1.24h-1.24zM442.4,321.9h1.24v1.24h-1.24zM437.8,332.4h1.24v1.24h-1.24zM437.7,338.9h1.24v1.24h-1.24zM439.7,323.9h1.24v1.24h-1.24zM443.2,337.9h1.24v1.24h-1.24zM434.8,328.8h1.24v1.24h-1.24zM439.0,319.9h1.24v1.24h-1.24zM433.4,333.6h1.24v1.24h-1.24zM428.1,315.5h1.24v1.24h-1.24zM435.3,339.0h1.24v1.24h-1.24zM439.5,334.5h1.24v1.24h-1.24zM437.4,320.0h1.24v1.24h-1.24zM435.7,338.7h1.24v1.24h-1.24zM434.7,323.0h1.24v1.24h-1.24zM432.2,335.1h1.24v1.24h-1.24zM440.0,338.8h1.24v1.24h-1.24zM432.6,320.0h1.24v1.24h-1.24zM441.2,331.5h1.24v1.24h-1.24zM439.2,338.5h1.24v1.24h-1.24zM435.7,318.8h1.24v1.24h-1.24zM436.2,338.7h1.24v1.24h-1.24zM430.2,337.1h1.24v1.24h-1.24zM438.4,336.7h1.24v1.24h-1.24zM443.9,337.2h1.24v1.24h-1.24zM437.3,337.4h1.24v1.24h-1.24zM426.0,339.0h1.24v1.24h-1.24zM440.9,339.0h1.24v1.24h-1.24zM435.0,338.8h1.24v1.24h-1.24zM433.3,338.1h1.24v1.24h-1.24zM436.5,334.5h1.24v1.24h-1.24zM443.8,333.9h1.24v1.24h-1.24zM438.4,314.9h1.24v1.24h-1.24zM436.9,333.0h1.24v1.24h-1.24zM443.3,325.3h1.24v1.24h-1.24zM430.5,330.8h1.24v1.24h-1.24zM434.2,330.7h1.24v1.24h-1.24zM440.3,324.1h1.24v1.24h-1.24zM444.4,320.0h1.24v1.24h-1.24zM434.0,337.8h1.24v1.24h-1.24zM436.6,325.6h1.24v1.24h-1.24zM430.7,330.7h1.24v1.24h-1.24zM431.9,337.2h1.24v1.24h-1.24zM435.3,339.0h1.24v1.24h-1.24zM430.0,337.4h1.24v1.24h-1.24zM448.0,335.0h1.24v1.24h-1.24zM437.2,337.0h1.24v1.24h-1.24zM440.9,337.2h1.24v1.24h-1.24zM447.7,338.9h1.24v1.24h-1.24zM437.5,335.6h1.24v1.24h-1.24zM432.9,335.7h1.24v1.24h-1.24zM435.1,338.7h1.24v1.24h-1.24zM435.6,339.0h1.24v1.24h-1.24zM441.3,327.2h1.24v1.24h-1.24zM441.4,333.3h1.24v1.24h-1.24zM435.2,317.2h1.24v1.24h-1.24zM439.9,332.4h1.24v1.24h-1.24zM438.6,332.4h1.24v1.24h-1.24zM431.3,312.9h1.24v1.24h-1.24zM444.1,336.0h1.24v1.24h-1.24zM442.5,320.3h1.24v1.24h-1.24zM439.5,318.5h1.24v1.24h-1.24zM436.9,338.1h1.24v1.24h-1.24zM438.1,338.8h1.24v1.24h-1.24zM436.0,338.1h1.24v1.24h-1.24zM433.4,336.5h1.24v1.24h-1.24zM428.6,338.6h1.24v1.24h-1.24zM430.6,330.3h1.24v1.24h-1.24zM435.6,338.6h1.24v1.24h-1.24zM426.0,331.8h1.24v1.24h-1.24zM440.9,339.0h1.24v1.24h-1.24zM427.0,337.4h1.24v1.24h-1.24zM439.5,338.8h1.24v1.24h-1.24zM443.1,319.9h1.24v1.24h-1.24zM440.2,330.5h1.24v1.24h-1.24zM435.3,337.5h1.24v1.24h-1.24zM433.8,326.3h1.24v1.24h-1.24zM432.7,329.1h1.24v1.24h-1.24zM442.1,337.4h1.24v1.24h-1.24zM438.9,339.0h1.24v1.24h-1.24zM433.9,331.0h1.24v1.24h-1.24zM442.3,331.9h1.24v1.24h-1.24zM436.1,338.2h1.24v1.24h-1.24zM437.2,316.9h1.24v1.24h-1.24zM438.8,332.9h1.24v1.24h-1.24zM436.9,331.4h1.24v1.24h-1.24zM435.9,327.3h1.24v1.24h-1.24zM439.1,338.8h1.24v1.24h-1.24zM437.2,338.8h1.24v1.24h-1.24zM434.7,323.2h1.24v1.24h-1.24zM430.2,336.1h1.24v1.24h-1.24zM435.3,333.2h1.24v1.24h-1.24zM433.2,329.9h1.24v1.24h-1.24zM434.2,326.6h1.24v1.24h-1.24zM434.8,338.2h1.24v1.24h-1.24z" fill="#000"/>
<path d="M434.6,302.4h1.40v1.40h-1.40zM426.4,311.2h1.40v1.40h-1.40zM441.6,307.8h1.40v1.40h-1.40zM443.0,311.0h1.40v1.40h-1.40zM445.4,317.8h1.40v1.40h-1.40zM450.6,327.2h1.40v1.40h-1.40zM437.0,317.0h1.40v1.40h-1.40z" fill="#000"/>
<g clip-path="url(#clipS2)">
<path d="M544.2,344.0 L545.0,341.7 L545.9,341.8 L546.7,341.4 L547.5,339.6 L548.4,338.9 L549.2,339.2 L550.0,340.2 L550.9,338.4 L551.7,338.2 L552.5,339.3 L553.4,339.8 L554.2,340.1 L555.0,339.2 L555.9,340.7 L556.7,339.0 L557.5,340.2 L558.4,338.8 L559.2,338.7 L560.0,339.0 L560.9,338.8 L561.7,339.9 L562.5,340.1 L563.4,339.3 L564.2,341.1 L565.0,339.8 L565.9,339.4 L566.7,339.7 L567.5,341.6 L568.4,343.0 L569.2,342.6 L568.3,345.6 L569.4,347.6 L568.6,349.7 L569.7,351.7 L569.0,353.8 L569.2,355.9 L568.8,357.9 L569.4,360.0 L568.9,362.0 L568.8,364.1 L569.6,366.1 L567.0,368.2 L545.0,368.2 L543.9,366.1 L544.7,364.1 L543.8,362.0 L544.6,360.0 L544.3,357.9 L544.9,355.9 L543.8,353.8 L544.5,351.7 L544.3,349.7 L545.0,347.6 L545.0,345.6 Z" fill="#0a0a0a"/>
<ellipse cx="553.9" cy="352.3" rx="10.5" ry="13.0" fill="url(#dg2)"/>
<path d="M559.9,340.1h1.20v1.20h-1.20zM550.5,339.5h1.20v1.20h-1.20zM555.0,339.8h1.20v1.20h-1.20zM549.3,337.7h1.20v1.20h-1.20zM560.3,340.0h1.20v1.20h-1.20zM569.1,340.7h1.20v1.20h-1.20zM558.4,340.2h1.20v1.20h-1.20zM565.8,338.2h1.20v1.20h-1.20zM550.9,337.9h1.20v1.20h-1.20zM564.8,340.3h1.20v1.20h-1.20zM552.5,339.0h1.20v1.20h-1.20zM566.5,340.7h1.20v1.20h-1.20zM561.3,339.1h1.20v1.20h-1.20zM555.5,338.8h1.20v1.20h-1.20zM566.3,340.6h1.20v1.20h-1.20zM566.3,340.2h1.20v1.20h-1.20zM563.7,338.1h1.20v1.20h-1.20zM548.8,337.2h1.20v1.20h-1.20zM569.1,340.5h1.20v1.20h-1.20zM544.8,339.4h1.20v1.20h-1.20zM568.6,341.0h1.20v1.20h-1.20zM567.0,340.7h1.20v1.20h-1.20zM562.6,340.5h1.20v1.20h-1.20zM548.4,338.0h1.20v1.20h-1.20zM546.5,339.1h1.20v1.20h-1.20zM567.2,339.0h1.20v1.20h-1.20zM566.2,337.7h1.20v1.20h-1.20zM545.0,339.2h1.20v1.20h-1.20zM564.0,338.9h1.20v1.20h-1.20zM545.1,338.5h1.20v1.20h-1.20zM550.0,339.0h1.20v1.20h-1.20zM546.8,339.7h1.20v1.20h-1.20zM569.0,340.5h1.20v1.20h-1.20zM566.2,340.7h1.20v1.20h-1.20zM556.4,340.1h1.20v1.20h-1.20zM554.9,339.9h1.20v1.20h-1.20zM561.3,340.4h1.20v1.20h-1.20zM562.7,339.5h1.20v1.20h-1.20zM547.0,339.1h1.20v1.20h-1.20zM556.6,337.5h1.20v1.20h-1.20zM552.9,339.8h1.20v1.20h-1.20zM568.4,338.3h1.20v1.20h-1.20zM562.5,340.2h1.20v1.20h-1.20zM548.6,339.4h1.20v1.20h-1.20zM545.9,339.6h1.20v1.20h-1.20zM556.9,339.5h1.20v1.20h-1.20zM558.1,339.7h1.20v1.20h-1.20zM544.5,337.8h1.20v1.20h-1.20zM560.5,339.3h1.20v1.20h-1.20zM557.9,338.6h1.20v1.20h-1.20zM568.8,338.4h1.20v1.20h-1.20zM562.1,339.8h1.20v1.20h-1.20zM552.2,339.2h1.20v1.20h-1.20zM568.5,340.3h1.20v1.20h-1.20zM553.8,339.3h1.20v1.20h-1.20zM547.8,336.5h1.20v1.20h-1.20zM544.3,338.1h1.20v1.20h-1.20zM567.4,340.5h1.20v1.20h-1.20zM559.5,339.7h1.20v1.20h-1.20zM550.2,339.6h1.20v1.20h-1.20zM547.1,337.2h1.20v1.20h-1.20zM563.8,337.9h1.20v1.20h-1.20zM545.4,337.8h1.20v1.20h-1.20zM552.3,338.4h1.20v1.20h-1.20zM557.9,339.8h1.20v1.20h-1.20zM568.5,341.0h1.20v1.20h-1.20zM562.9,338.1h1.20v1.20h-1.20zM557.0,338.9h1.20v1.20h-1.20zM569.1,340.7h1.20v1.20h-1.20zM559.9,338.5h1.20v1.20h-1.20z" fill="#000"/>
</g>
<path d="M546.8,336.6h1.24v1.24h-1.24zM550.2,325.1h1.24v1.24h-1.24zM558.9,329.9h1.24v1.24h-1.24zM552.0,326.9h1.24v1.24h-1.24zM561.5,332.5h1.24v1.24h-1.24zM552.1,338.5h1.24v1.24h-1.24zM552.5,311.5h1.24v1.24h-1.24zM554.0,334.6h1.24v1.24h-1.24zM549.1,334.5h1.24v1.24h-1.24zM562.3,338.5h1.24v1.24h-1.24zM564.1,333.0h1.24v1.24h-1.24zM546.0,333.1h1.24v1.24h-1.24zM553.5,338.3h1.24v1.24h-1.24zM557.5,338.7h1.24v1.24h-1.24zM550.0,328.7h1.24v1.24h-1.24zM563.1,317.8h1.24v1.24h-1.24zM548.8,339.0h1.24v1.24h-1.24zM559.7,336.6h1.24v1.24h-1.24zM547.0,338.9h1.24v1.24h-1.24zM555.1,338.8h1.24v1.24h-1.24zM557.4,337.0h1.24v1.24h-1.24zM549.6,319.5h1.24v1.24h-1.24zM554.3,339.0h1.24v1.24h-1.24zM562.8,336.3h1.24v1.24h-1.24zM554.9,335.2h1.24v1.24h-1.24zM557.6,334.4h1.24v1.24h-1.24zM547.0,338.8h1.24v1.24h-1.24zM551.0,326.8h1.24v1.24h-1.24zM559.6,338.4h1.24v1.24h-1.24zM552.4,336.8h1.24v1.24h-1.24zM559.2,339.0h1.24v1.24h-1.24zM553.5,338.6h1.24v1.24h-1.24zM554.3,338.7h1.24v1.24h-1.24zM554.4,324.8h1.24v1.24h-1.24zM559.5,338.3h1.24v1.24h-1.24zM561.1,317.3h1.24v1.24h-1.24zM559.0,315.5h1.24v1.24h-1.24zM547.2,338.6h1.24v1.24h-1.24zM559.2,329.7h1.24v1.24h-1.24zM560.3,336.7h1.24v1.24h-1.24zM556.6,336.8h1.24v1.24h-1.24zM553.6,325.1h1.24v1.24h-1.24zM560.0,328.3h1.24v1.24h-1.24zM552.1,319.0h1.24v1.24h-1.24zM559.1,331.2h1.24v1.24h-1.24zM559.9,310.1h1.24v1.24h-1.24zM566.0,325.1h1.24v1.24h-1.24zM552.8,336.7h1.24v1.24h-1.24zM551.2,339.0h1.24v1.24h-1.24zM550.6,322.5h1.24v1.24h-1.24zM559.3,333.9h1.24v1.24h-1.24zM555.1,312.1h1.24v1.24h-1.24zM553.9,330.7h1.24v1.24h-1.24zM545.7,334.8h1.24v1.24h-1.24zM557.3,335.9h1.24v1.24h-1.24zM559.3,334.6h1.24v1.24h-1.24zM551.6,334.1h1.24v1.24h-1.24zM558.5,333.5h1.24v1.24h-1.24zM548.4,323.5h1.24v1.24h-1.24zM562.4,336.2h1.24v1.24h-1.24zM557.0,332.1h1.24v1.24h-1.24zM555.4,321.7h1.24v1.24h-1.24zM552.6,338.5h1.24v1.24h-1.24zM556.0,339.0h1.24v1.24h-1.24zM553.0,339.0h1.24v1.24h-1.24zM553.5,322.7h1.24v1.24h-1.24zM554.4,326.7h1.24v1.24h-1.24zM553.4,325.1h1.24v1.24h-1.24zM555.3,326.2h1.24v1.24h-1.24zM545.0,335.9h1.24v1.24h-1.24zM546.1,318.6h1.24v1.24h-1.24zM557.9,314.5h1.24v1.24h-1.24zM558.7,333.3h1.24v1.24h-1.24zM559.1,339.0h1.24v1.24h-1.24zM554.8,338.2h1.24v1.24h-1.24zM554.8,337.6h1.24v1.24h-1.24zM565.0,332.1h1.24v1.24h-1.24zM553.6,333.5h1.24v1.24h-1.24zM555.9,337.7h1.24v1.24h-1.24zM558.3,314.9h1.24v1.24h-1.24zM545.7,338.2h1.24v1.24h-1.24zM561.0,338.6h1.24v1.24h-1.24zM557.1,336.7h1.24v1.24h-1.24zM548.4,334.8h1.24v1.24h-1.24zM555.5,336.8h1.24v1.24h-1.24zM558.6,319.6h1.24v1.24h-1.24zM565.8,332.0h1.24v1.24h-1.24zM552.6,339.0h1.24v1.24h-1.24zM560.8,336.1h1.24v1.24h-1.24zM553.3,331.7h1.24v1.24h-1.24zM558.7,320.0h1.24v1.24h-1.24zM552.9,337.9h1.24v1.24h-1.24zM546.3,330.7h1.24v1.24h-1.24zM560.1,335.0h1.24v1.24h-1.24zM552.9,314.0h1.24v1.24h-1.24zM548.5,339.0h1.24v1.24h-1.24zM558.0,339.0h1.24v1.24h-1.24zM561.2,315.2h1.24v1.24h-1.24zM558.0,338.7h1.24v1.24h-1.24zM546.7,310.3h1.24v1.24h-1.24zM551.7,333.9h1.24v1.24h-1.24zM553.2,327.1h1.24v1.24h-1.24zM551.3,338.5h1.24v1.24h-1.24zM561.9,317.0h1.24v1.24h-1.24zM564.0,338.6h1.24v1.24h-1.24zM562.4,338.9h1.24v1.24h-1.24zM560.1,307.7h1.24v1.24h-1.24zM553.0,335.9h1.24v1.24h-1.24zM551.8,311.7h1.24v1.24h-1.24zM556.0,326.5h1.24v1.24h-1.24zM556.5,326.0h1.24v1.24h-1.24zM557.2,339.0h1.24v1.24h-1.24zM551.5,338.4h1.24v1.24h-1.24zM552.4,331.1h1.24v1.24h-1.24zM560.9,338.8h1.24v1.24h-1.24zM550.7,311.2h1.24v1.24h-1.24zM563.7,338.8h1.24v1.24h-1.24zM560.1,319.8h1.24v1.24h-1.24zM554.5,339.0h1.24v1.24h-1.24zM552.8,336.6h1.24v1.24h-1.24zM552.3,332.4h1.24v1.24h-1.24zM547.1,339.0h1.24v1.24h-1.24zM556.9,335.6h1.24v1.24h-1.24zM562.2,326.8h1.24v1.24h-1.24zM561.3,338.9h1.24v1.24h-1.24zM566.0,310.2h1.24v1.24h-1.24zM554.8,333.0h1.24v1.24h-1.24zM550.2,337.9h1.24v1.24h-1.24zM561.9,333.9h1.24v1.24h-1.24zM559.9,309.6h1.24v1.24h-1.24zM558.3,315.1h1.24v1.24h-1.24zM553.0,330.5h1.24v1.24h-1.24zM554.5,338.9h1.24v1.24h-1.24zM562.7,338.1h1.24v1.24h-1.24zM549.0,338.4h1.24v1.24h-1.24zM561.8,310.1h1.24v1.24h-1.24zM556.5,306.2h1.24v1.24h-1.24zM562.0,337.2h1.24v1.24h-1.24zM552.6,339.0h1.24v1.24h-1.24zM551.5,337.3h1.24v1.24h-1.24zM556.3,323.4h1.24v1.24h-1.24zM556.1,338.7h1.24v1.24h-1.24zM551.0,339.0h1.24v1.24h-1.24zM560.3,331.9h1.24v1.24h-1.24zM558.7,320.5h1.24v1.24h-1.24zM553.8,330.6h1.24v1.24h-1.24zM555.4,333.4h1.24v1.24h-1.24zM553.5,338.9h1.24v1.24h-1.24zM552.9,331.2h1.24v1.24h-1.24zM549.8,337.1h1.24v1.24h-1.24zM560.3,338.8h1.24v1.24h-1.24zM559.3,338.7h1.24v1.24h-1.24zM553.5,316.7h1.24v1.24h-1.24zM552.2,314.4h1.24v1.24h-1.24zM555.4,339.0h1.24v1.24h-1.24zM559.5,313.9h1.24v1.24h-1.24zM559.0,332.7h1.24v1.24h-1.24zM552.1,338.9h1.24v1.24h-1.24zM555.7,332.7h1.24v1.24h-1.24zM552.8,333.6h1.24v1.24h-1.24zM557.6,336.2h1.24v1.24h-1.24zM557.7,338.6h1.24v1.24h-1.24zM557.8,314.5h1.24v1.24h-1.24zM555.8,333.8h1.24v1.24h-1.24zM554.5,308.4h1.24v1.24h-1.24zM556.8,334.2h1.24v1.24h-1.24zM548.7,326.3h1.24v1.24h-1.24zM555.1,338.4h1.24v1.24h-1.24zM552.2,338.1h1.24v1.24h-1.24zM550.3,339.0h1.24v1.24h-1.24zM558.9,337.9h1.24v1.24h-1.24zM560.8,313.0h1.24v1.24h-1.24zM558.4,338.4h1.24v1.24h-1.24zM556.8,330.6h1.24v1.24h-1.24zM547.3,339.0h1.24v1.24h-1.24zM545.0,338.3h1.24v1.24h-1.24zM546.7,339.0h1.24v1.24h-1.24zM551.8,329.6h1.24v1.24h-1.24zM546.4,337.2h1.24v1.24h-1.24zM545.0,319.0h1.24v1.24h-1.24zM557.8,339.0h1.24v1.24h-1.24zM550.7,308.7h1.24v1.24h-1.24zM557.8,339.0h1.24v1.24h-1.24zM554.3,338.3h1.24v1.24h-1.24zM547.5,338.8h1.24v1.24h-1.24zM557.2,337.2h1.24v1.24h-1.24zM557.7,338.5h1.24v1.24h-1.24zM566.0,337.4h1.24v1.24h-1.24zM552.5,320.3h1.24v1.24h-1.24zM546.3,334.4h1.24v1.24h-1.24z" fill="#000"/>
<path d="M555.1,302.0h1.24v1.24h-1.24zM553.1,305.5h1.24v1.24h-1.24zM552.8,308.2h1.24v1.24h-1.24zM555.4,303.4h1.24v1.24h-1.24zM553.1,306.2h1.24v1.24h-1.24zM560.9,314.3h1.24v1.24h-1.24zM564.0,307.2h1.24v1.24h-1.24zM560.4,305.6h1.24v1.24h-1.24zM561.1,301.4h1.24v1.24h-1.24zM554.7,302.1h1.24v1.24h-1.24zM546.8,304.4h1.24v1.24h-1.24zM547.6,309.0h1.24v1.24h-1.24zM558.2,304.7h1.24v1.24h-1.24zM551.7,302.8h1.24v1.24h-1.24z" fill="#000"/>
<path d="M560.2,295.0h1.40v1.40h-1.40zM554.8,298.0h1.40v1.40h-1.40zM554.8,300.2h1.40v1.40h-1.40zM547.0,301.2h1.40v1.40h-1.40zM547.4,306.0h1.40v1.40h-1.40zM564.8,306.2h1.40v1.40h-1.40zM559.6,307.6h1.40v1.40h-1.40zM550.0,308.2h1.40v1.40h-1.40zM551.6,308.6h1.40v1.40h-1.40zM553.4,308.8h1.40v1.40h-1.40zM555.0,309.0h1.40v1.40h-1.40zM556.4,308.4h1.40v1.40h-1.40zM566.8,316.4h1.40v1.40h-1.40zM565.0,332.0h1.40v1.40h-1.40z" fill="#000"/>
</g>
<g id="panel-d">
<text x="2.6" y="360.5" font-size="19.8" font-weight="bold">d</text>
<line x1="90.00" y1="353.80" x2="90.00" y2="465.60" stroke="#000" stroke-width="1.8" />
<line x1="86.40" y1="464.70" x2="90.00" y2="464.70" stroke="#000" stroke-width="1.8" />
<text x="80.20" y="468.30" font-size="10.7" text-anchor="end" >0</text>
<line x1="86.40" y1="442.70" x2="90.00" y2="442.70" stroke="#000" stroke-width="1.8" />
<text x="80.20" y="446.30" font-size="10.7" text-anchor="end" >1</text>
<line x1="86.40" y1="420.70" x2="90.00" y2="420.70" stroke="#000" stroke-width="1.8" />
<text x="80.20" y="424.30" font-size="10.7" text-anchor="end" >2</text>
<line x1="86.40" y1="398.70" x2="90.00" y2="398.70" stroke="#000" stroke-width="1.8" />
<text x="80.20" y="402.30" font-size="10.7" text-anchor="end" >3</text>
<line x1="86.40" y1="376.70" x2="90.00" y2="376.70" stroke="#000" stroke-width="1.8" />
<text x="80.20" y="380.30" font-size="10.7" text-anchor="end" >4</text>
<line x1="86.40" y1="354.70" x2="90.00" y2="354.70" stroke="#000" stroke-width="1.8" />
<text x="80.20" y="358.30" font-size="10.7" text-anchor="end" >5</text>
<line x1="86.40" y1="464.70" x2="302.80" y2="464.70" stroke="#000" stroke-width="1.8" />
<line x1="90.00" y1="464.70" x2="90.00" y2="468.90" stroke="#000" stroke-width="1.6" />
<line x1="160.70" y1="464.70" x2="160.70" y2="468.90" stroke="#000" stroke-width="1.6" />
<line x1="231.40" y1="464.70" x2="231.40" y2="468.90" stroke="#000" stroke-width="1.6" />
<line x1="302.00" y1="464.70" x2="302.00" y2="468.90" stroke="#000" stroke-width="1.6" />
<text transform="translate(50.20,409.60) rotate(-90)" font-size="12.7" text-anchor="middle" >CD4<tspan font-size="8" dy="-4">+</tspan><tspan dy="4"> IL5</tspan><tspan font-size="8" dy="-4">+</tspan><tspan dy="4"> Cells</tspan></text>
<text transform="translate(65.60,409.20) rotate(-90)" font-size="12.7" text-anchor="middle" >(%)</text>
<line x1="115.50" y1="440.06" x2="115.50" y2="425.40" stroke="#000" stroke-width="1.6" />
<line x1="111.70" y1="425.40" x2="119.30" y2="425.40" stroke="#000" stroke-width="1.6" />
<line x1="135.60" y1="406.62" x2="135.60" y2="388.50" stroke="#000" stroke-width="1.6" />
<line x1="131.80" y1="388.50" x2="139.40" y2="388.50" stroke="#000" stroke-width="1.6" />
<rect x="104.96" y="440.81" width="19.54" height="23.89" fill="#fff" stroke="#000" stroke-width="1.5" />
<rect x="124.50" y="406.62" width="21.10" height="58.08" fill="#000" stroke="none" stroke-width="0" />
<path d="M175.1,464.7 L175.1,462.5 L181,462.5 L184,461.4 L188,461.4 L191,462.5 L195.2,462.5 L195.2,461.0 L202,461.0 L204,459.9 L209,459.9 L211,461.0 L216.5,461.0 L216.5,464.7 Z" fill="#000"/>
<rect x="176.30" y="463.50" width="18.20" height="0.90" fill="#fff" stroke="none" stroke-width="0" />
<path d="M246.2,464.7 L246.2,462.1 L252,462.1 L255,461.0 L259,461.0 L262,462.1 L266,462.1 L266,458.8 L273,458.8 L275,457.4 L280,457.4 L282,458.8 L287.6,458.8 L287.6,464.7 Z" fill="#000"/>
<rect x="247.40" y="463.06" width="17.80" height="1.10" fill="#fff" stroke="none" stroke-width="0" />
<line x1="108.00" y1="383.90" x2="141.10" y2="383.90" stroke="#000" stroke-width="1.5" />
<text x="123" y="385.40" font-size="16.5" text-anchor="middle" font-weight="bold">*</text>
<line x1="178.40" y1="425.90" x2="212.80" y2="425.90" stroke="#000" stroke-width="1.5" />
<text x="195.7" y="427.20" font-size="16.5" text-anchor="middle" font-weight="bold">*</text>
<line x1="248.40" y1="424.10" x2="282.60" y2="424.10" stroke="#000" stroke-width="1.5" />
<text x="267.3" y="425.50" font-size="16.5" text-anchor="middle" font-weight="bold" letter-spacing="0.9">**</text>
<text x="132.80" y="483.60" font-size="12.2" text-anchor="middle" >BALF</text>
<text x="211.00" y="483.60" font-size="12.2" text-anchor="middle" >LLN</text>
<text x="282.30" y="483.60" font-size="12.2" text-anchor="middle" >Spleen</text>
<rect x="245.30" y="354.30" width="7.80" height="7.90" fill="#fff" stroke="#000" stroke-width="1.6" />
<rect x="244.50" y="369.10" width="9.40" height="9.50" fill="#000" stroke="none" stroke-width="0" />
<text x="257.6" y="362.8" font-size="11.3" font-style="italic" >Cis</text>
<text transform="translate(274.22,359.70) scale(0.87,1)" font-size="8.3" >fl/+,Cre</text>
<text x="257.6" y="376.6" font-size="11.3" font-style="italic" >Cis</text>
<text transform="translate(274.22,373.50) scale(0.87,1)" font-size="8.3" >fl/fl,Cre</text>
</g>
<g id="panel-e">
<text x="0.8" y="516.3" font-size="19.8" font-weight="bold">e</text>
<text x="152.90" y="520.60" font-size="15.6" text-anchor="start" >LLN</text>
<text x="495.00" y="520.60" font-size="15.6" text-anchor="start" >Spleen</text>
<line x1="39.00" y1="540.70" x2="39.00" y2="625.70" stroke="#000" stroke-width="1.7" />
<line x1="35.70" y1="624.90" x2="39.00" y2="624.90" stroke="#000" stroke-width="1.6" />
<text transform="translate(30.60,628.45) scale(0.945,1)" font-size="10.0" text-anchor="end" >0</text>
<line x1="35.70" y1="597.10" x2="39.00" y2="597.10" stroke="#000" stroke-width="1.6" />
<text transform="translate(30.60,600.65) scale(0.945,1)" font-size="10.0" text-anchor="end" >0.5</text>
<line x1="35.70" y1="569.30" x2="39.00" y2="569.30" stroke="#000" stroke-width="1.6" />
<text transform="translate(30.60,572.85) scale(0.945,1)" font-size="10.0" text-anchor="end" >1</text>
<line x1="35.70" y1="541.50" x2="39.00" y2="541.50" stroke="#000" stroke-width="1.6" />
<text transform="translate(30.60,545.05) scale(0.945,1)" font-size="10.0" text-anchor="end" >1.5</text>
<line x1="35.70" y1="624.90" x2="158.80" y2="624.90" stroke="#000" stroke-width="1.7" />
<line x1="39.00" y1="624.90" x2="39.00" y2="628.20" stroke="#000" stroke-width="1.5" />
<line x1="68.80" y1="624.90" x2="68.80" y2="628.20" stroke="#000" stroke-width="1.5" />
<line x1="98.40" y1="624.90" x2="98.40" y2="628.20" stroke="#000" stroke-width="1.5" />
<line x1="128.10" y1="624.90" x2="128.10" y2="628.20" stroke="#000" stroke-width="1.5" />
<line x1="158.00" y1="624.90" x2="158.00" y2="628.20" stroke="#000" stroke-width="1.5" />
<text transform="translate(53.60,639.30) scale(0.945,1)" font-size="10.0" text-anchor="middle" >0</text>
<text transform="translate(83.40,639.30) scale(0.945,1)" font-size="10.0" text-anchor="middle" >10</text>
<text transform="translate(113.30,639.30) scale(0.945,1)" font-size="10.0" text-anchor="middle" >30</text>
<text transform="translate(143.10,639.30) scale(0.945,1)" font-size="10.0" text-anchor="middle" >100</text>
<text transform="translate(9.60,582.90) rotate(-90)" font-size="12.4" text-anchor="middle" >IL-4 (ng/ml)</text>
<line x1="83.10" y1="581.60" x2="83.10" y2="566.50" stroke="#000" stroke-width="1.5" />
<line x1="79.70" y1="566.50" x2="86.50" y2="566.50" stroke="#000" stroke-width="1.5" />
<line x1="113.00" y1="579.60" x2="113.00" y2="570.30" stroke="#000" stroke-width="1.5" />
<line x1="109.60" y1="570.30" x2="116.40" y2="570.30" stroke="#000" stroke-width="1.5" />
<line x1="142.80" y1="569.00" x2="142.80" y2="557.70" stroke="#000" stroke-width="1.5" />
<line x1="139.40" y1="557.70" x2="146.20" y2="557.70" stroke="#000" stroke-width="1.5" />
<polyline points="53.30,614.40 83.10,600.40 113.00,595.40 142.80,594.10" fill="none" stroke="#000" stroke-width="1.7"/>
<polyline points="53.30,613.60 83.10,581.60 113.00,579.60 142.80,569.00" fill="none" stroke="#000" stroke-width="1.7"/>
<path d="M53.30,610.70 L57.00,614.40 L53.30,618.10 L49.60,614.40 Z" fill="#fff" stroke="#000" stroke-width="1.9" stroke-linejoin="miter"/>
<path d="M83.10,596.70 L86.80,600.40 L83.10,604.10 L79.40,600.40 Z" fill="#fff" stroke="#000" stroke-width="1.9" stroke-linejoin="miter"/>
<path d="M113.00,591.70 L116.70,595.40 L113.00,599.10 L109.30,595.40 Z" fill="#fff" stroke="#000" stroke-width="1.9" stroke-linejoin="miter"/>
<path d="M142.80,590.40 L146.50,594.10 L142.80,597.80 L139.10,594.10 Z" fill="#fff" stroke="#000" stroke-width="1.9" stroke-linejoin="miter"/>
<line x1="83.10" y1="600.40" x2="83.10" y2="589.10" stroke="#000" stroke-width="1.5" />
<line x1="79.70" y1="589.10" x2="86.50" y2="589.10" stroke="#000" stroke-width="1.5" />
<line x1="113.00" y1="595.40" x2="113.00" y2="586.10" stroke="#000" stroke-width="1.5" />
<line x1="109.60" y1="586.10" x2="116.40" y2="586.10" stroke="#000" stroke-width="1.5" />
<line x1="142.80" y1="594.10" x2="142.80" y2="586.10" stroke="#000" stroke-width="1.5" />
<line x1="139.40" y1="586.10" x2="146.20" y2="586.10" stroke="#000" stroke-width="1.5" />
<rect x="48.60" y="608.90" width="9.40" height="9.40" fill="#000" stroke="none" stroke-width="0" />
<rect x="78.40" y="576.90" width="9.40" height="9.40" fill="#000" stroke="none" stroke-width="0" />
<rect x="108.30" y="574.90" width="9.40" height="9.40" fill="#000" stroke="none" stroke-width="0" />
<rect x="138.10" y="564.30" width="9.40" height="9.40" fill="#000" stroke="none" stroke-width="0" />
<text x="83.1" y="566.50" font-size="16.5" text-anchor="middle" font-weight="bold">*</text>
<text x="113.0" y="569.00" font-size="16.5" text-anchor="middle" font-weight="bold">*</text>
<text x="142.8" y="556.50" font-size="16.5" text-anchor="middle" font-weight="bold">*</text>
<line x1="48.10" y1="527.90" x2="69.60" y2="527.90" stroke="#000" stroke-width="1.4" />
<path d="M59.10,525.70 L61.30,527.90 L59.10,530.10 L56.90,527.90 Z" fill="#444" stroke="#000" stroke-width="1.1" stroke-linejoin="miter"/>
<line x1="48.10" y1="538.70" x2="69.60" y2="538.70" stroke="#000" stroke-width="1.4" />
<rect x="56.30" y="536.00" width="5.50" height="5.40" fill="#000" stroke="none" stroke-width="0" />
<text x="72.8" y="530.6" font-size="11.9" textLength="45.5" lengthAdjust="spacing" ><tspan font-style="italic">Cis</tspan><tspan font-size="8.6" dy="-3.3">fl/+,Cre</tspan></text>
<text x="72.8" y="542.7" font-size="11.9" textLength="45.5" lengthAdjust="spacing" ><tspan font-style="italic">Cis</tspan><tspan font-size="8.6" dy="-3.3">fl/fl,Cre</tspan></text>
<line x1="210.80" y1="541.30" x2="210.80" y2="625.70" stroke="#000" stroke-width="1.7" />
<line x1="207.50" y1="624.90" x2="210.80" y2="624.90" stroke="#000" stroke-width="1.6" />
<text transform="translate(202.40,628.45) scale(0.945,1)" font-size="10.0" text-anchor="end" >0</text>
<line x1="207.50" y1="597.30" x2="210.80" y2="597.30" stroke="#000" stroke-width="1.6" />
<text transform="translate(202.40,600.85) scale(0.945,1)" font-size="10.0" text-anchor="end" >1</text>
<line x1="207.50" y1="569.70" x2="210.80" y2="569.70" stroke="#000" stroke-width="1.6" />
<text transform="translate(202.40,573.25) scale(0.945,1)" font-size="10.0" text-anchor="end" >2</text>
<line x1="207.50" y1="542.10" x2="210.80" y2="542.10" stroke="#000" stroke-width="1.6" />
<text transform="translate(202.40,545.65) scale(0.945,1)" font-size="10.0" text-anchor="end" >3</text>
<line x1="207.50" y1="624.90" x2="330.30" y2="624.90" stroke="#000" stroke-width="1.7" />
<line x1="210.80" y1="624.90" x2="210.80" y2="628.20" stroke="#000" stroke-width="1.5" />
<line x1="240.50" y1="624.90" x2="240.50" y2="628.20" stroke="#000" stroke-width="1.5" />
<line x1="270.20" y1="624.90" x2="270.20" y2="628.20" stroke="#000" stroke-width="1.5" />
<line x1="299.90" y1="624.90" x2="299.90" y2="628.20" stroke="#000" stroke-width="1.5" />
<line x1="329.50" y1="624.90" x2="329.50" y2="628.20" stroke="#000" stroke-width="1.5" />
<text transform="translate(225.60,639.30) scale(0.945,1)" font-size="10.0" text-anchor="middle" >0</text>
<text transform="translate(255.40,639.30) scale(0.945,1)" font-size="10.0" text-anchor="middle" >10</text>
<text transform="translate(285.20,639.30) scale(0.945,1)" font-size="10.0" text-anchor="middle" >30</text>
<text transform="translate(314.90,639.30) scale(0.945,1)" font-size="10.0" text-anchor="middle" >100</text>
<text transform="translate(186.80,583.60) rotate(-90)" font-size="12.4" text-anchor="middle" >IFNγ (ng/ml)</text>
<line x1="255.10" y1="589.60" x2="255.10" y2="574.80" stroke="#000" stroke-width="1.5" />
<line x1="251.70" y1="574.80" x2="258.50" y2="574.80" stroke="#000" stroke-width="1.5" />
<line x1="284.90" y1="587.10" x2="284.90" y2="562.80" stroke="#000" stroke-width="1.5" />
<line x1="281.50" y1="562.80" x2="288.30" y2="562.80" stroke="#000" stroke-width="1.5" />
<line x1="314.60" y1="591.10" x2="314.60" y2="578.60" stroke="#000" stroke-width="1.5" />
<line x1="311.20" y1="578.60" x2="318.00" y2="578.60" stroke="#000" stroke-width="1.5" />
<polyline points="225.30,618.80 255.10,595.40 284.90,595.90 314.60,584.10" fill="none" stroke="#000" stroke-width="1.7"/>
<polyline points="225.30,618.00 255.10,589.60 284.90,587.10 314.60,591.10" fill="none" stroke="#000" stroke-width="1.7"/>
<path d="M225.30,615.10 L229.00,618.80 L225.30,622.50 L221.60,618.80 Z" fill="#fff" stroke="#000" stroke-width="1.9" stroke-linejoin="miter"/>
<path d="M255.10,591.70 L258.80,595.40 L255.10,599.10 L251.40,595.40 Z" fill="#fff" stroke="#000" stroke-width="1.9" stroke-linejoin="miter"/>
<path d="M284.90,592.20 L288.60,595.90 L284.90,599.60 L281.20,595.90 Z" fill="#fff" stroke="#000" stroke-width="1.9" stroke-linejoin="miter"/>
<path d="M314.60,580.40 L318.30,584.10 L314.60,587.80 L310.90,584.10 Z" fill="#fff" stroke="#000" stroke-width="1.9" stroke-linejoin="miter"/>
<line x1="284.90" y1="595.90" x2="284.90" y2="577.90" stroke="#000" stroke-width="1.5" />
<line x1="281.50" y1="577.90" x2="288.30" y2="577.90" stroke="#000" stroke-width="1.5" />
<line x1="314.60" y1="584.10" x2="314.60" y2="564.50" stroke="#000" stroke-width="1.5" />
<line x1="311.20" y1="564.50" x2="318.00" y2="564.50" stroke="#000" stroke-width="1.5" />
<rect x="220.60" y="613.30" width="9.40" height="9.40" fill="#000" stroke="none" stroke-width="0" />
<rect x="250.40" y="584.90" width="9.40" height="9.40" fill="#000" stroke="none" stroke-width="0" />
<rect x="280.20" y="582.40" width="9.40" height="9.40" fill="#000" stroke="none" stroke-width="0" />
<rect x="309.90" y="586.40" width="9.40" height="9.40" fill="#000" stroke="none" stroke-width="0" />
<line x1="37.90" y1="649.20" x2="37.90" y2="734.20" stroke="#000" stroke-width="1.7" />
<line x1="34.60" y1="733.40" x2="37.90" y2="733.40" stroke="#000" stroke-width="1.6" />
<text transform="translate(29.50,736.95) scale(0.945,1)" font-size="10.0" text-anchor="end" >0</text>
<line x1="34.60" y1="705.60" x2="37.90" y2="705.60" stroke="#000" stroke-width="1.6" />
<text transform="translate(29.50,709.15) scale(0.945,1)" font-size="10.0" text-anchor="end" >2</text>
<line x1="34.60" y1="677.80" x2="37.90" y2="677.80" stroke="#000" stroke-width="1.6" />
<text transform="translate(29.50,681.35) scale(0.945,1)" font-size="10.0" text-anchor="end" >4</text>
<line x1="34.60" y1="650.00" x2="37.90" y2="650.00" stroke="#000" stroke-width="1.6" />
<text transform="translate(29.50,653.55) scale(0.945,1)" font-size="10.0" text-anchor="end" >6</text>
<line x1="34.60" y1="733.40" x2="157.00" y2="733.40" stroke="#000" stroke-width="1.7" />
<line x1="37.90" y1="733.40" x2="37.90" y2="736.70" stroke="#000" stroke-width="1.5" />
<line x1="67.20" y1="733.40" x2="67.20" y2="736.70" stroke="#000" stroke-width="1.5" />
<line x1="96.70" y1="733.40" x2="96.70" y2="736.70" stroke="#000" stroke-width="1.5" />
<line x1="126.20" y1="733.40" x2="126.20" y2="736.70" stroke="#000" stroke-width="1.5" />
<line x1="156.20" y1="733.40" x2="156.20" y2="736.70" stroke="#000" stroke-width="1.5" />
<text transform="translate(52.80,747.50) scale(0.945,1)" font-size="10.0" text-anchor="middle" >0</text>
<text transform="translate(82.20,747.50) scale(0.945,1)" font-size="10.0" text-anchor="middle" >10</text>
<text transform="translate(111.80,747.50) scale(0.945,1)" font-size="10.0" text-anchor="middle" >30</text>
<text transform="translate(141.40,747.50) scale(0.945,1)" font-size="10.0" text-anchor="middle" >100</text>
<text transform="translate(16.80,691.50) rotate(-90)" font-size="12.4" text-anchor="middle" >IL-5 (ng/ml)</text>
<line x1="52.50" y1="725.40" x2="52.50" y2="719.00" stroke="#000" stroke-width="1.5" />
<line x1="49.10" y1="719.00" x2="55.90" y2="719.00" stroke="#000" stroke-width="1.5" />
<line x1="81.90" y1="702.80" x2="81.90" y2="697.70" stroke="#000" stroke-width="1.5" />
<line x1="78.50" y1="697.70" x2="85.30" y2="697.70" stroke="#000" stroke-width="1.5" />
<line x1="111.50" y1="699.00" x2="111.50" y2="687.70" stroke="#000" stroke-width="1.5" />
<line x1="108.10" y1="687.70" x2="114.90" y2="687.70" stroke="#000" stroke-width="1.5" />
<line x1="141.10" y1="692.00" x2="141.10" y2="670.10" stroke="#000" stroke-width="1.5" />
<line x1="137.70" y1="670.10" x2="144.50" y2="670.10" stroke="#000" stroke-width="1.5" />
<polyline points="52.50,728.40 81.90,721.60 111.50,721.60 141.10,709.00" fill="none" stroke="#000" stroke-width="1.7"/>
<polyline points="52.50,725.40 81.90,702.80 111.50,699.00 141.10,692.00" fill="none" stroke="#000" stroke-width="1.7"/>
<path d="M52.50,724.70 L56.20,728.40 L52.50,732.10 L48.80,728.40 Z" fill="#fff" stroke="#000" stroke-width="1.9" stroke-linejoin="miter"/>
<path d="M81.90,717.90 L85.60,721.60 L81.90,725.30 L78.20,721.60 Z" fill="#fff" stroke="#000" stroke-width="1.9" stroke-linejoin="miter"/>
<path d="M111.50,717.90 L115.20,721.60 L111.50,725.30 L107.80,721.60 Z" fill="#fff" stroke="#000" stroke-width="1.9" stroke-linejoin="miter"/>
<path d="M141.10,705.30 L144.80,709.00 L141.10,712.70 L137.40,709.00 Z" fill="#fff" stroke="#000" stroke-width="1.9" stroke-linejoin="miter"/>
<line x1="81.90" y1="721.60" x2="81.90" y2="716.60" stroke="#000" stroke-width="1.5" />
<line x1="78.50" y1="716.60" x2="85.30" y2="716.60" stroke="#000" stroke-width="1.5" />
<line x1="111.50" y1="721.60" x2="111.50" y2="713.60" stroke="#000" stroke-width="1.5" />
<line x1="108.10" y1="713.60" x2="114.90" y2="713.60" stroke="#000" stroke-width="1.5" />
<line x1="141.10" y1="709.00" x2="141.10" y2="704.80" stroke="#000" stroke-width="1.5" />
<line x1="137.70" y1="704.80" x2="144.50" y2="704.80" stroke="#000" stroke-width="1.5" />
<rect x="47.80" y="720.70" width="9.40" height="9.40" fill="#000" stroke="none" stroke-width="0" />
<rect x="77.20" y="698.10" width="9.40" height="9.40" fill="#000" stroke="none" stroke-width="0" />
<rect x="106.80" y="694.30" width="9.40" height="9.40" fill="#000" stroke="none" stroke-width="0" />
<rect x="136.40" y="687.30" width="9.40" height="9.40" fill="#000" stroke="none" stroke-width="0" />
<text x="81.9" y="696.50" font-size="16.5" text-anchor="middle" font-weight="bold">*</text>
<text x="111.5" y="688.50" font-size="16.5" text-anchor="middle" font-weight="bold">*</text>
<line x1="209.40" y1="648.50" x2="209.40" y2="734.20" stroke="#000" stroke-width="1.7" />
<line x1="206.10" y1="733.40" x2="209.40" y2="733.40" stroke="#000" stroke-width="1.6" />
<text transform="translate(201.00,736.95) scale(0.945,1)" font-size="10.0" text-anchor="end" >0</text>
<line x1="206.10" y1="712.38" x2="209.40" y2="712.38" stroke="#000" stroke-width="1.6" />
<text transform="translate(201.00,715.92) scale(0.945,1)" font-size="10.0" text-anchor="end" >0.1</text>
<line x1="206.10" y1="691.35" x2="209.40" y2="691.35" stroke="#000" stroke-width="1.6" />
<text transform="translate(201.00,694.90) scale(0.945,1)" font-size="10.0" text-anchor="end" >0.2</text>
<line x1="206.10" y1="670.32" x2="209.40" y2="670.32" stroke="#000" stroke-width="1.6" />
<text transform="translate(201.00,673.87) scale(0.945,1)" font-size="10.0" text-anchor="end" >0.3</text>
<line x1="206.10" y1="649.30" x2="209.40" y2="649.30" stroke="#000" stroke-width="1.6" />
<text transform="translate(201.00,652.85) scale(0.945,1)" font-size="10.0" text-anchor="end" >0.4</text>
<line x1="206.10" y1="733.40" x2="327.20" y2="733.40" stroke="#000" stroke-width="1.7" />
<line x1="209.40" y1="733.40" x2="209.40" y2="736.70" stroke="#000" stroke-width="1.5" />
<line x1="238.60" y1="733.40" x2="238.60" y2="736.70" stroke="#000" stroke-width="1.5" />
<line x1="267.90" y1="733.40" x2="267.90" y2="736.70" stroke="#000" stroke-width="1.5" />
<line x1="297.30" y1="733.40" x2="297.30" y2="736.70" stroke="#000" stroke-width="1.5" />
<line x1="326.40" y1="733.40" x2="326.40" y2="736.70" stroke="#000" stroke-width="1.5" />
<text transform="translate(224.30,747.50) scale(0.945,1)" font-size="10.0" text-anchor="middle" >0</text>
<text transform="translate(253.50,747.50) scale(0.945,1)" font-size="10.0" text-anchor="middle" >10</text>
<text transform="translate(282.90,747.50) scale(0.945,1)" font-size="10.0" text-anchor="middle" >30</text>
<text transform="translate(312.20,747.50) scale(0.945,1)" font-size="10.0" text-anchor="middle" >100</text>
<text transform="translate(178.20,687.70) rotate(-90)" font-size="12.4" text-anchor="middle" >IL-17 (ng/ml)</text>
<text x="265.40" y="763.80" font-size="12.6" text-anchor="middle" >OVA (µg/ml)</text>
<line x1="253.20" y1="724.90" x2="253.20" y2="712.80" stroke="#000" stroke-width="1.5" />
<line x1="249.80" y1="712.80" x2="256.60" y2="712.80" stroke="#000" stroke-width="1.5" />
<line x1="282.60" y1="717.10" x2="282.60" y2="697.20" stroke="#000" stroke-width="1.5" />
<line x1="279.20" y1="697.20" x2="286.00" y2="697.20" stroke="#000" stroke-width="1.5" />
<polyline points="224.00,733.00 253.20,727.90 282.60,726.60 311.90,704.00" fill="none" stroke="#000" stroke-width="1.7"/>
<polyline points="224.00,733.00 253.20,724.90 282.60,717.10 311.90,724.90" fill="none" stroke="#000" stroke-width="1.7"/>
<path d="M224.00,729.30 L227.70,733.00 L224.00,736.70 L220.30,733.00 Z" fill="#fff" stroke="#000" stroke-width="1.9" stroke-linejoin="miter"/>
<path d="M253.20,724.20 L256.90,727.90 L253.20,731.60 L249.50,727.90 Z" fill="#fff" stroke="#000" stroke-width="1.9" stroke-linejoin="miter"/>
<path d="M282.60,722.90 L286.30,726.60 L282.60,730.30 L278.90,726.60 Z" fill="#fff" stroke="#000" stroke-width="1.9" stroke-linejoin="miter"/>
<path d="M311.90,700.30 L315.60,704.00 L311.90,707.70 L308.20,704.00 Z" fill="#fff" stroke="#000" stroke-width="1.9" stroke-linejoin="miter"/>
<line x1="311.90" y1="704.00" x2="311.90" y2="672.60" stroke="#000" stroke-width="1.5" />
<line x1="308.50" y1="672.60" x2="315.30" y2="672.60" stroke="#000" stroke-width="1.5" />
<rect x="219.30" y="728.30" width="9.40" height="9.40" fill="#000" stroke="none" stroke-width="0" />
<rect x="248.50" y="720.20" width="9.40" height="9.40" fill="#000" stroke="none" stroke-width="0" />
<rect x="277.90" y="712.40" width="9.40" height="9.40" fill="#000" stroke="none" stroke-width="0" />
<rect x="307.20" y="720.20" width="9.40" height="9.40" fill="#000" stroke="none" stroke-width="0" />
<line x1="37.60" y1="759.00" x2="37.60" y2="844.00" stroke="#000" stroke-width="1.7" />
<line x1="34.30" y1="843.20" x2="37.60" y2="843.20" stroke="#000" stroke-width="1.6" />
<text transform="translate(29.20,846.75) scale(0.945,1)" font-size="10.0" text-anchor="end" >0</text>
<line x1="34.30" y1="815.40" x2="37.60" y2="815.40" stroke="#000" stroke-width="1.6" />
<text transform="translate(29.20,818.95) scale(0.945,1)" font-size="10.0" text-anchor="end" >2</text>
<line x1="34.30" y1="787.60" x2="37.60" y2="787.60" stroke="#000" stroke-width="1.6" />
<text transform="translate(29.20,791.15) scale(0.945,1)" font-size="10.0" text-anchor="end" >4</text>
<line x1="34.30" y1="759.80" x2="37.60" y2="759.80" stroke="#000" stroke-width="1.6" />
<text transform="translate(29.20,763.35) scale(0.945,1)" font-size="10.0" text-anchor="end" >6</text>
<line x1="34.30" y1="843.20" x2="156.80" y2="843.20" stroke="#000" stroke-width="1.7" />
<line x1="37.60" y1="843.20" x2="37.60" y2="846.50" stroke="#000" stroke-width="1.5" />
<line x1="67.20" y1="843.20" x2="67.20" y2="846.50" stroke="#000" stroke-width="1.5" />
<line x1="96.70" y1="843.20" x2="96.70" y2="846.50" stroke="#000" stroke-width="1.5" />
<line x1="126.20" y1="843.20" x2="126.20" y2="846.50" stroke="#000" stroke-width="1.5" />
<line x1="156.00" y1="843.20" x2="156.00" y2="846.50" stroke="#000" stroke-width="1.5" />
<text transform="translate(52.80,857.50) scale(0.945,1)" font-size="10.0" text-anchor="middle" >0</text>
<text transform="translate(82.20,857.50) scale(0.945,1)" font-size="10.0" text-anchor="middle" >10</text>
<text transform="translate(111.80,857.50) scale(0.945,1)" font-size="10.0" text-anchor="middle" >30</text>
<text transform="translate(141.40,857.50) scale(0.945,1)" font-size="10.0" text-anchor="middle" >100</text>
<text transform="translate(12.80,801.50) rotate(-90)" font-size="12.4" text-anchor="middle" >IL-13 (ng/ml)</text>
<text x="95.40" y="873.00" font-size="12.6" text-anchor="middle" >OVA (µg/ml)</text>
<line x1="81.90" y1="822.10" x2="81.90" y2="804.80" stroke="#000" stroke-width="1.5" />
<line x1="78.50" y1="804.80" x2="85.30" y2="804.80" stroke="#000" stroke-width="1.5" />
<line x1="111.50" y1="801.00" x2="111.50" y2="796.50" stroke="#000" stroke-width="1.5" />
<line x1="108.10" y1="796.50" x2="114.90" y2="796.50" stroke="#000" stroke-width="1.5" />
<line x1="141.10" y1="799.50" x2="141.10" y2="778.40" stroke="#000" stroke-width="1.5" />
<line x1="137.70" y1="778.40" x2="144.50" y2="778.40" stroke="#000" stroke-width="1.5" />
<polyline points="52.50,841.50 81.90,836.20 111.50,832.40 141.10,824.10" fill="none" stroke="#000" stroke-width="1.7"/>
<polyline points="52.50,840.40 81.90,822.10 111.50,801.00 141.10,799.50" fill="none" stroke="#000" stroke-width="1.7"/>
<path d="M52.50,837.80 L56.20,841.50 L52.50,845.20 L48.80,841.50 Z" fill="#fff" stroke="#000" stroke-width="1.9" stroke-linejoin="miter"/>
<path d="M81.90,832.50 L85.60,836.20 L81.90,839.90 L78.20,836.20 Z" fill="#fff" stroke="#000" stroke-width="1.9" stroke-linejoin="miter"/>
<path d="M111.50,828.70 L115.20,832.40 L111.50,836.10 L107.80,832.40 Z" fill="#fff" stroke="#000" stroke-width="1.9" stroke-linejoin="miter"/>
<path d="M141.10,820.40 L144.80,824.10 L141.10,827.80 L137.40,824.10 Z" fill="#fff" stroke="#000" stroke-width="1.9" stroke-linejoin="miter"/>
<line x1="81.90" y1="836.20" x2="81.90" y2="828.40" stroke="#000" stroke-width="1.5" />
<line x1="78.50" y1="828.40" x2="85.30" y2="828.40" stroke="#000" stroke-width="1.5" />
<line x1="111.50" y1="832.40" x2="111.50" y2="820.30" stroke="#000" stroke-width="1.5" />
<line x1="108.10" y1="820.30" x2="114.90" y2="820.30" stroke="#000" stroke-width="1.5" />
<line x1="141.10" y1="824.10" x2="141.10" y2="800.50" stroke="#000" stroke-width="1.5" />
<line x1="137.70" y1="800.50" x2="144.50" y2="800.50" stroke="#000" stroke-width="1.5" />
<rect x="47.80" y="835.70" width="9.40" height="9.40" fill="#000" stroke="none" stroke-width="0" />
<rect x="77.20" y="817.40" width="9.40" height="9.40" fill="#000" stroke="none" stroke-width="0" />
<rect x="106.80" y="796.30" width="9.40" height="9.40" fill="#000" stroke="none" stroke-width="0" />
<rect x="136.40" y="794.80" width="9.40" height="9.40" fill="#000" stroke="none" stroke-width="0" />
<text x="111.5" y="792.20" font-size="16.5" text-anchor="middle" font-weight="bold">*</text>
<line x1="386.90" y1="541.20" x2="386.90" y2="625.50" stroke="#000" stroke-width="1.7" />
<line x1="383.60" y1="624.70" x2="386.90" y2="624.70" stroke="#000" stroke-width="1.6" />
<text transform="translate(378.50,628.25) scale(0.945,1)" font-size="10.0" text-anchor="end" >0</text>
<line x1="383.60" y1="604.03" x2="386.90" y2="604.03" stroke="#000" stroke-width="1.6" />
<text transform="translate(378.50,607.58) scale(0.945,1)" font-size="10.0" text-anchor="end" >0.2</text>
<line x1="383.60" y1="583.35" x2="386.90" y2="583.35" stroke="#000" stroke-width="1.6" />
<text transform="translate(378.50,586.90) scale(0.945,1)" font-size="10.0" text-anchor="end" >0.4</text>
<line x1="383.60" y1="562.67" x2="386.90" y2="562.67" stroke="#000" stroke-width="1.6" />
<text transform="translate(378.50,566.22) scale(0.945,1)" font-size="10.0" text-anchor="end" >0.6</text>
<line x1="383.60" y1="542.00" x2="386.90" y2="542.00" stroke="#000" stroke-width="1.6" />
<text transform="translate(378.50,545.55) scale(0.945,1)" font-size="10.0" text-anchor="end" >0.8</text>
<line x1="383.60" y1="624.70" x2="507.30" y2="624.70" stroke="#000" stroke-width="1.7" />
<line x1="386.90" y1="624.70" x2="386.90" y2="628.00" stroke="#000" stroke-width="1.5" />
<line x1="416.80" y1="624.70" x2="416.80" y2="628.00" stroke="#000" stroke-width="1.5" />
<line x1="446.70" y1="624.70" x2="446.70" y2="628.00" stroke="#000" stroke-width="1.5" />
<line x1="476.40" y1="624.70" x2="476.40" y2="628.00" stroke="#000" stroke-width="1.5" />
<line x1="506.50" y1="624.70" x2="506.50" y2="628.00" stroke="#000" stroke-width="1.5" />
<text transform="translate(402.10,639.30) scale(0.945,1)" font-size="10.0" text-anchor="middle" >0</text>
<text transform="translate(432.10,639.30) scale(0.945,1)" font-size="10.0" text-anchor="middle" >10</text>
<text transform="translate(461.80,639.30) scale(0.945,1)" font-size="10.0" text-anchor="middle" >30</text>
<text transform="translate(491.70,639.30) scale(0.945,1)" font-size="10.0" text-anchor="middle" >100</text>
<text transform="translate(355.80,587.90) rotate(-90)" font-size="12.4" text-anchor="middle" >IL-4 (ng/ml)</text>
<line x1="401.80" y1="608.70" x2="401.80" y2="599.70" stroke="#000" stroke-width="1.5" />
<line x1="398.40" y1="599.70" x2="405.20" y2="599.70" stroke="#000" stroke-width="1.5" />
<line x1="431.80" y1="592.10" x2="431.80" y2="577.80" stroke="#000" stroke-width="1.5" />
<line x1="428.40" y1="577.80" x2="435.20" y2="577.80" stroke="#000" stroke-width="1.5" />
<line x1="461.50" y1="582.10" x2="461.50" y2="561.00" stroke="#000" stroke-width="1.5" />
<line x1="458.10" y1="561.00" x2="464.90" y2="561.00" stroke="#000" stroke-width="1.5" />
<line x1="491.40" y1="577.80" x2="491.40" y2="562.30" stroke="#000" stroke-width="1.5" />
<line x1="488.00" y1="562.30" x2="494.80" y2="562.30" stroke="#000" stroke-width="1.5" />
<polyline points="401.80,619.30 431.80,615.00 461.50,613.00 491.40,603.40" fill="none" stroke="#000" stroke-width="1.7"/>
<polyline points="401.80,608.70 431.80,592.10 461.50,582.10 491.40,577.80" fill="none" stroke="#000" stroke-width="1.7"/>
<path d="M401.80,615.60 L405.50,619.30 L401.80,623.00 L398.10,619.30 Z" fill="#fff" stroke="#000" stroke-width="1.9" stroke-linejoin="miter"/>
<path d="M431.80,611.30 L435.50,615.00 L431.80,618.70 L428.10,615.00 Z" fill="#fff" stroke="#000" stroke-width="1.9" stroke-linejoin="miter"/>
<path d="M461.50,609.30 L465.20,613.00 L461.50,616.70 L457.80,613.00 Z" fill="#fff" stroke="#000" stroke-width="1.9" stroke-linejoin="miter"/>
<path d="M491.40,599.70 L495.10,603.40 L491.40,607.10 L487.70,603.40 Z" fill="#fff" stroke="#000" stroke-width="1.9" stroke-linejoin="miter"/>
<line x1="431.80" y1="615.00" x2="431.80" y2="601.20" stroke="#000" stroke-width="1.5" />
<line x1="428.40" y1="601.20" x2="435.20" y2="601.20" stroke="#000" stroke-width="1.5" />
<line x1="461.50" y1="613.00" x2="461.50" y2="601.70" stroke="#000" stroke-width="1.5" />
<line x1="458.10" y1="601.70" x2="464.90" y2="601.70" stroke="#000" stroke-width="1.5" />
<line x1="491.40" y1="603.40" x2="491.40" y2="579.00" stroke="#000" stroke-width="1.5" />
<line x1="488.00" y1="579.00" x2="494.80" y2="579.00" stroke="#000" stroke-width="1.5" />
<rect x="397.10" y="604.00" width="9.40" height="9.40" fill="#000" stroke="none" stroke-width="0" />
<rect x="427.10" y="587.40" width="9.40" height="9.40" fill="#000" stroke="none" stroke-width="0" />
<rect x="456.80" y="577.40" width="9.40" height="9.40" fill="#000" stroke="none" stroke-width="0" />
<rect x="486.70" y="573.10" width="9.40" height="9.40" fill="#000" stroke="none" stroke-width="0" />
<text x="431.8" y="577.80" font-size="16.5" text-anchor="middle" font-weight="bold">*</text>
<text x="461.5" y="561.50" font-size="16.5" text-anchor="middle" font-weight="bold">*</text>
<line x1="398.50" y1="531.30" x2="422.40" y2="531.30" stroke="#000" stroke-width="1.4" />
<path d="M410.30,529.10 L412.50,531.30 L410.30,533.50 L408.10,531.30 Z" fill="#444" stroke="#000" stroke-width="1.1" stroke-linejoin="miter"/>
<line x1="398.50" y1="541.90" x2="422.40" y2="541.90" stroke="#000" stroke-width="1.4" />
<rect x="407.50" y="539.20" width="5.50" height="5.40" fill="#000" stroke="none" stroke-width="0" />
<text x="424.4" y="534.4" font-size="11.9" textLength="45.5" lengthAdjust="spacing" ><tspan font-style="italic">Cis</tspan><tspan font-size="8.6" dy="-3.3">fl/+,Cre</tspan></text>
<text x="424.4" y="546.4" font-size="11.9" textLength="45.5" lengthAdjust="spacing" ><tspan font-style="italic">Cis</tspan><tspan font-size="8.6" dy="-3.3">fl/fl,Cre</tspan></text>
<line x1="565.70" y1="541.00" x2="565.70" y2="625.70" stroke="#000" stroke-width="1.7" />
<line x1="562.40" y1="624.90" x2="565.70" y2="624.90" stroke="#000" stroke-width="1.6" />
<text transform="translate(557.30,628.45) scale(0.945,1)" font-size="10.0" text-anchor="end" >0</text>
<line x1="562.40" y1="597.20" x2="565.70" y2="597.20" stroke="#000" stroke-width="1.6" />
<text transform="translate(557.30,600.75) scale(0.945,1)" font-size="10.0" text-anchor="end" >0.4</text>
<line x1="562.40" y1="569.50" x2="565.70" y2="569.50" stroke="#000" stroke-width="1.6" />
<text transform="translate(557.30,573.05) scale(0.945,1)" font-size="10.0" text-anchor="end" >0.8</text>
<line x1="562.40" y1="541.80" x2="565.70" y2="541.80" stroke="#000" stroke-width="1.6" />
<text transform="translate(557.30,545.35) scale(0.945,1)" font-size="10.0" text-anchor="end" >1.2</text>
<line x1="562.40" y1="624.90" x2="685.00" y2="624.90" stroke="#000" stroke-width="1.7" />
<line x1="565.70" y1="624.90" x2="565.70" y2="628.20" stroke="#000" stroke-width="1.5" />
<line x1="595.30" y1="624.90" x2="595.30" y2="628.20" stroke="#000" stroke-width="1.5" />
<line x1="624.90" y1="624.90" x2="624.90" y2="628.20" stroke="#000" stroke-width="1.5" />
<line x1="654.50" y1="624.90" x2="654.50" y2="628.20" stroke="#000" stroke-width="1.5" />
<line x1="684.20" y1="624.90" x2="684.20" y2="628.20" stroke="#000" stroke-width="1.5" />
<text transform="translate(580.80,639.30) scale(0.945,1)" font-size="10.0" text-anchor="middle" >0</text>
<text transform="translate(610.40,639.30) scale(0.945,1)" font-size="10.0" text-anchor="middle" >10</text>
<text transform="translate(640.00,639.30) scale(0.945,1)" font-size="10.0" text-anchor="middle" >30</text>
<text transform="translate(669.70,639.30) scale(0.945,1)" font-size="10.0" text-anchor="middle" >100</text>
<text transform="translate(531.80,584.60) rotate(-90)" font-size="12.4" text-anchor="middle" >IFNγ (ng/ml)</text>
<line x1="610.10" y1="589.90" x2="610.10" y2="572.80" stroke="#000" stroke-width="1.5" />
<line x1="606.70" y1="572.80" x2="613.50" y2="572.80" stroke="#000" stroke-width="1.5" />
<line x1="639.70" y1="575.30" x2="639.70" y2="564.50" stroke="#000" stroke-width="1.5" />
<line x1="636.30" y1="564.50" x2="643.10" y2="564.50" stroke="#000" stroke-width="1.5" />
<line x1="669.40" y1="580.30" x2="669.40" y2="563.30" stroke="#000" stroke-width="1.5" />
<line x1="666.00" y1="563.30" x2="672.80" y2="563.30" stroke="#000" stroke-width="1.5" />
<polyline points="580.50,616.00 610.10,597.40 639.70,588.40 669.40,585.40" fill="none" stroke="#000" stroke-width="1.7"/>
<polyline points="580.50,608.50 610.10,589.90 639.70,575.30 669.40,580.30" fill="none" stroke="#000" stroke-width="1.7"/>
<path d="M580.50,612.30 L584.20,616.00 L580.50,619.70 L576.80,616.00 Z" fill="#fff" stroke="#000" stroke-width="1.9" stroke-linejoin="miter"/>
<path d="M610.10,593.70 L613.80,597.40 L610.10,601.10 L606.40,597.40 Z" fill="#fff" stroke="#000" stroke-width="1.9" stroke-linejoin="miter"/>
<path d="M639.70,584.70 L643.40,588.40 L639.70,592.10 L636.00,588.40 Z" fill="#fff" stroke="#000" stroke-width="1.9" stroke-linejoin="miter"/>
<path d="M669.40,581.70 L673.10,585.40 L669.40,589.10 L665.70,585.40 Z" fill="#fff" stroke="#000" stroke-width="1.9" stroke-linejoin="miter"/>
<line x1="669.40" y1="585.40" x2="669.40" y2="572.80" stroke="#000" stroke-width="1.5" />
<line x1="666.00" y1="572.80" x2="672.80" y2="572.80" stroke="#000" stroke-width="1.5" />
<rect x="575.80" y="603.80" width="9.40" height="9.40" fill="#000" stroke="none" stroke-width="0" />
<rect x="605.40" y="585.20" width="9.40" height="9.40" fill="#000" stroke="none" stroke-width="0" />
<rect x="635.00" y="570.60" width="9.40" height="9.40" fill="#000" stroke="none" stroke-width="0" />
<rect x="664.70" y="575.60" width="9.40" height="9.40" fill="#000" stroke="none" stroke-width="0" />
<line x1="385.90" y1="650.00" x2="385.90" y2="734.40" stroke="#000" stroke-width="1.7" />
<line x1="382.60" y1="733.60" x2="385.90" y2="733.60" stroke="#000" stroke-width="1.6" />
<text transform="translate(377.50,737.15) scale(0.945,1)" font-size="10.0" text-anchor="end" >0</text>
<line x1="382.60" y1="712.90" x2="385.90" y2="712.90" stroke="#000" stroke-width="1.6" />
<text transform="translate(377.50,716.45) scale(0.945,1)" font-size="10.0" text-anchor="end" >1</text>
<line x1="382.60" y1="692.20" x2="385.90" y2="692.20" stroke="#000" stroke-width="1.6" />
<text transform="translate(377.50,695.75) scale(0.945,1)" font-size="10.0" text-anchor="end" >2</text>
<line x1="382.60" y1="671.50" x2="385.90" y2="671.50" stroke="#000" stroke-width="1.6" />
<text transform="translate(377.50,675.05) scale(0.945,1)" font-size="10.0" text-anchor="end" >3</text>
<line x1="382.60" y1="650.80" x2="385.90" y2="650.80" stroke="#000" stroke-width="1.6" />
<text transform="translate(377.50,654.35) scale(0.945,1)" font-size="10.0" text-anchor="end" >4</text>
<line x1="382.60" y1="733.60" x2="506.60" y2="733.60" stroke="#000" stroke-width="1.7" />
<line x1="385.90" y1="733.60" x2="385.90" y2="736.90" stroke="#000" stroke-width="1.5" />
<line x1="415.90" y1="733.60" x2="415.90" y2="736.90" stroke="#000" stroke-width="1.5" />
<line x1="445.90" y1="733.60" x2="445.90" y2="736.90" stroke="#000" stroke-width="1.5" />
<line x1="475.90" y1="733.60" x2="475.90" y2="736.90" stroke="#000" stroke-width="1.5" />
<line x1="505.80" y1="733.60" x2="505.80" y2="736.90" stroke="#000" stroke-width="1.5" />
<text transform="translate(401.00,747.50) scale(0.945,1)" font-size="10.0" text-anchor="middle" >0</text>
<text transform="translate(431.10,747.50) scale(0.945,1)" font-size="10.0" text-anchor="middle" >10</text>
<text transform="translate(461.20,747.50) scale(0.945,1)" font-size="10.0" text-anchor="middle" >30</text>
<text transform="translate(491.20,747.50) scale(0.945,1)" font-size="10.0" text-anchor="middle" >100</text>
<text transform="translate(360.80,690.00) rotate(-90)" font-size="12.4" text-anchor="middle" >IL-5 (ng/ml)</text>
<line x1="400.70" y1="724.60" x2="400.70" y2="716.00" stroke="#000" stroke-width="1.5" />
<line x1="397.30" y1="716.00" x2="404.10" y2="716.00" stroke="#000" stroke-width="1.5" />
<line x1="430.80" y1="694.50" x2="430.80" y2="677.70" stroke="#000" stroke-width="1.5" />
<line x1="427.40" y1="677.70" x2="434.20" y2="677.70" stroke="#000" stroke-width="1.5" />
<line x1="460.90" y1="691.00" x2="460.90" y2="672.10" stroke="#000" stroke-width="1.5" />
<line x1="457.50" y1="672.10" x2="464.30" y2="672.10" stroke="#000" stroke-width="1.5" />
<line x1="490.90" y1="680.20" x2="490.90" y2="658.30" stroke="#000" stroke-width="1.5" />
<line x1="487.50" y1="658.30" x2="494.30" y2="658.30" stroke="#000" stroke-width="1.5" />
<polyline points="400.70,726.00 430.80,719.10 460.90,720.80 490.90,718.60" fill="none" stroke="#000" stroke-width="1.7"/>
<polyline points="400.70,724.60 430.80,694.50 460.90,691.00 490.90,680.20" fill="none" stroke="#000" stroke-width="1.7"/>
<path d="M400.70,722.30 L404.40,726.00 L400.70,729.70 L397.00,726.00 Z" fill="#fff" stroke="#000" stroke-width="1.9" stroke-linejoin="miter"/>
<path d="M430.80,715.40 L434.50,719.10 L430.80,722.80 L427.10,719.10 Z" fill="#fff" stroke="#000" stroke-width="1.9" stroke-linejoin="miter"/>
<path d="M460.90,717.10 L464.60,720.80 L460.90,724.50 L457.20,720.80 Z" fill="#fff" stroke="#000" stroke-width="1.9" stroke-linejoin="miter"/>
<path d="M490.90,714.90 L494.60,718.60 L490.90,722.30 L487.20,718.60 Z" fill="#fff" stroke="#000" stroke-width="1.9" stroke-linejoin="miter"/>
<line x1="430.80" y1="719.10" x2="430.80" y2="708.50" stroke="#000" stroke-width="1.5" />
<line x1="427.40" y1="708.50" x2="434.20" y2="708.50" stroke="#000" stroke-width="1.5" />
<line x1="460.90" y1="720.80" x2="460.90" y2="716.60" stroke="#000" stroke-width="1.5" />
<line x1="457.50" y1="716.60" x2="464.30" y2="716.60" stroke="#000" stroke-width="1.5" />
<line x1="490.90" y1="718.60" x2="490.90" y2="713.30" stroke="#000" stroke-width="1.5" />
<line x1="487.50" y1="713.30" x2="494.30" y2="713.30" stroke="#000" stroke-width="1.5" />
<rect x="396.00" y="719.90" width="9.40" height="9.40" fill="#000" stroke="none" stroke-width="0" />
<rect x="426.10" y="689.80" width="9.40" height="9.40" fill="#000" stroke="none" stroke-width="0" />
<rect x="456.20" y="686.30" width="9.40" height="9.40" fill="#000" stroke="none" stroke-width="0" />
<rect x="486.20" y="675.50" width="9.40" height="9.40" fill="#000" stroke="none" stroke-width="0" />
<text x="430.7" y="677.50" font-size="16.5" text-anchor="middle" font-weight="bold">*</text>
<text x="460.8" y="672.10" font-size="16.5" text-anchor="middle" font-weight="bold">*</text>
<text x="490.8" y="659.50" font-size="16.5" text-anchor="middle" font-weight="bold" letter-spacing="0.9">**</text>
<line x1="568.00" y1="648.50" x2="568.00" y2="734.00" stroke="#000" stroke-width="1.7" />
<line x1="564.70" y1="733.20" x2="568.00" y2="733.20" stroke="#000" stroke-width="1.6" />
<text transform="translate(559.60,736.75) scale(0.945,1)" font-size="10.0" text-anchor="end" >0</text>
<line x1="564.70" y1="712.23" x2="568.00" y2="712.23" stroke="#000" stroke-width="1.6" />
<text transform="translate(559.60,715.77) scale(0.945,1)" font-size="10.0" text-anchor="end" >0.05</text>
<line x1="564.70" y1="691.25" x2="568.00" y2="691.25" stroke="#000" stroke-width="1.6" />
<text transform="translate(559.60,694.80) scale(0.945,1)" font-size="10.0" text-anchor="end" >0.1</text>
<line x1="564.70" y1="670.27" x2="568.00" y2="670.27" stroke="#000" stroke-width="1.6" />
<text transform="translate(559.60,673.82) scale(0.945,1)" font-size="10.0" text-anchor="end" >0.15</text>
<line x1="564.70" y1="649.30" x2="568.00" y2="649.30" stroke="#000" stroke-width="1.6" />
<text transform="translate(559.60,652.85) scale(0.945,1)" font-size="10.0" text-anchor="end" >0.2</text>
<line x1="564.70" y1="733.20" x2="680.10" y2="733.20" stroke="#000" stroke-width="1.7" />
<line x1="568.00" y1="733.20" x2="568.00" y2="736.50" stroke="#000" stroke-width="1.5" />
<line x1="595.80" y1="733.20" x2="595.80" y2="736.50" stroke="#000" stroke-width="1.5" />
<line x1="623.60" y1="733.20" x2="623.60" y2="736.50" stroke="#000" stroke-width="1.5" />
<line x1="651.40" y1="733.20" x2="651.40" y2="736.50" stroke="#000" stroke-width="1.5" />
<line x1="679.30" y1="733.20" x2="679.30" y2="736.50" stroke="#000" stroke-width="1.5" />
<text transform="translate(582.20,747.50) scale(0.945,1)" font-size="10.0" text-anchor="middle" >0</text>
<text transform="translate(610.00,747.50) scale(0.945,1)" font-size="10.0" text-anchor="middle" >10</text>
<text transform="translate(637.80,747.50) scale(0.945,1)" font-size="10.0" text-anchor="middle" >30</text>
<text transform="translate(665.60,747.50) scale(0.945,1)" font-size="10.0" text-anchor="middle" >100</text>
<text transform="translate(531.80,692.70) rotate(-90)" font-size="12.4" text-anchor="middle" >IL-17 (ng/ml)</text>
<text x="626.00" y="761.00" font-size="12.6" text-anchor="middle" >OVA (µg/ml)</text>
<line x1="637.50" y1="721.10" x2="637.50" y2="711.00" stroke="#000" stroke-width="1.5" />
<line x1="634.10" y1="711.00" x2="640.90" y2="711.00" stroke="#000" stroke-width="1.5" />
<line x1="665.30" y1="703.50" x2="665.30" y2="677.70" stroke="#000" stroke-width="1.5" />
<line x1="661.90" y1="677.70" x2="668.70" y2="677.70" stroke="#000" stroke-width="1.5" />
<polyline points="581.90,733.00 609.70,729.10 637.50,728.40 665.30,722.40" fill="none" stroke="#000" stroke-width="1.7"/>
<polyline points="581.90,733.00 609.70,725.40 637.50,721.10 665.30,703.50" fill="none" stroke="#000" stroke-width="1.7"/>
<path d="M581.90,729.30 L585.60,733.00 L581.90,736.70 L578.20,733.00 Z" fill="#fff" stroke="#000" stroke-width="1.9" stroke-linejoin="miter"/>
<path d="M609.70,725.40 L613.40,729.10 L609.70,732.80 L606.00,729.10 Z" fill="#fff" stroke="#000" stroke-width="1.9" stroke-linejoin="miter"/>
<path d="M637.50,724.70 L641.20,728.40 L637.50,732.10 L633.80,728.40 Z" fill="#fff" stroke="#000" stroke-width="1.9" stroke-linejoin="miter"/>
<path d="M665.30,718.70 L669.00,722.40 L665.30,726.10 L661.60,722.40 Z" fill="#fff" stroke="#000" stroke-width="1.9" stroke-linejoin="miter"/>
<line x1="665.30" y1="722.40" x2="665.30" y2="712.80" stroke="#000" stroke-width="1.5" />
<line x1="661.90" y1="712.80" x2="668.70" y2="712.80" stroke="#000" stroke-width="1.5" />
<rect x="577.20" y="728.30" width="9.40" height="9.40" fill="#000" stroke="none" stroke-width="0" />
<rect x="605.00" y="720.70" width="9.40" height="9.40" fill="#000" stroke="none" stroke-width="0" />
<rect x="632.80" y="716.40" width="9.40" height="9.40" fill="#000" stroke="none" stroke-width="0" />
<rect x="660.60" y="698.80" width="9.40" height="9.40" fill="#000" stroke="none" stroke-width="0" />
<line x1="385.60" y1="759.70" x2="385.60" y2="844.20" stroke="#000" stroke-width="1.7" />
<line x1="382.30" y1="843.40" x2="385.60" y2="843.40" stroke="#000" stroke-width="1.6" />
<text transform="translate(377.20,846.95) scale(0.945,1)" font-size="10.0" text-anchor="end" >0</text>
<line x1="382.30" y1="815.77" x2="385.60" y2="815.77" stroke="#000" stroke-width="1.6" />
<text transform="translate(377.20,819.32) scale(0.945,1)" font-size="10.0" text-anchor="end" >1</text>
<line x1="382.30" y1="788.13" x2="385.60" y2="788.13" stroke="#000" stroke-width="1.6" />
<text transform="translate(377.20,791.68) scale(0.945,1)" font-size="10.0" text-anchor="end" >2</text>
<line x1="382.30" y1="760.50" x2="385.60" y2="760.50" stroke="#000" stroke-width="1.6" />
<text transform="translate(377.20,764.05) scale(0.945,1)" font-size="10.0" text-anchor="end" >3</text>
<line x1="382.30" y1="843.40" x2="503.00" y2="843.40" stroke="#000" stroke-width="1.7" />
<line x1="385.60" y1="843.40" x2="385.60" y2="846.70" stroke="#000" stroke-width="1.5" />
<line x1="414.60" y1="843.40" x2="414.60" y2="846.70" stroke="#000" stroke-width="1.5" />
<line x1="443.90" y1="843.40" x2="443.90" y2="846.70" stroke="#000" stroke-width="1.5" />
<line x1="473.20" y1="843.40" x2="473.20" y2="846.70" stroke="#000" stroke-width="1.5" />
<line x1="502.20" y1="843.40" x2="502.20" y2="846.70" stroke="#000" stroke-width="1.5" />
<text transform="translate(400.10,857.50) scale(0.945,1)" font-size="10.0" text-anchor="middle" >0</text>
<text transform="translate(429.30,857.50) scale(0.945,1)" font-size="10.0" text-anchor="middle" >10</text>
<text transform="translate(458.70,857.50) scale(0.945,1)" font-size="10.0" text-anchor="middle" >30</text>
<text transform="translate(487.80,857.50) scale(0.945,1)" font-size="10.0" text-anchor="middle" >100</text>
<text transform="translate(362.80,801.50) rotate(-90)" font-size="12.4" text-anchor="middle" >IL-13 (ng/ml)</text>
<text x="443.70" y="873.00" font-size="12.6" text-anchor="middle" >OVA (µg/ml)</text>
<line x1="429.00" y1="814.60" x2="429.00" y2="800.80" stroke="#000" stroke-width="1.5" />
<line x1="425.60" y1="800.80" x2="432.40" y2="800.80" stroke="#000" stroke-width="1.5" />
<line x1="458.40" y1="799.00" x2="458.40" y2="789.70" stroke="#000" stroke-width="1.5" />
<line x1="455.00" y1="789.70" x2="461.80" y2="789.70" stroke="#000" stroke-width="1.5" />
<line x1="487.50" y1="799.80" x2="487.50" y2="789.50" stroke="#000" stroke-width="1.5" />
<line x1="484.10" y1="789.50" x2="490.90" y2="789.50" stroke="#000" stroke-width="1.5" />
<polyline points="399.80,840.00 429.00,827.90 458.40,822.10 487.50,821.60" fill="none" stroke="#000" stroke-width="1.7"/>
<polyline points="399.80,839.20 429.00,814.60 458.40,799.00 487.50,799.80" fill="none" stroke="#000" stroke-width="1.7"/>
<path d="M399.80,836.30 L403.50,840.00 L399.80,843.70 L396.10,840.00 Z" fill="#fff" stroke="#000" stroke-width="1.9" stroke-linejoin="miter"/>
<path d="M429.00,824.20 L432.70,827.90 L429.00,831.60 L425.30,827.90 Z" fill="#fff" stroke="#000" stroke-width="1.9" stroke-linejoin="miter"/>
<path d="M458.40,818.40 L462.10,822.10 L458.40,825.80 L454.70,822.10 Z" fill="#fff" stroke="#000" stroke-width="1.9" stroke-linejoin="miter"/>
<path d="M487.50,817.90 L491.20,821.60 L487.50,825.30 L483.80,821.60 Z" fill="#fff" stroke="#000" stroke-width="1.9" stroke-linejoin="miter"/>
<line x1="458.40" y1="822.10" x2="458.40" y2="817.30" stroke="#000" stroke-width="1.5" />
<line x1="455.00" y1="817.30" x2="461.80" y2="817.30" stroke="#000" stroke-width="1.5" />
<line x1="487.50" y1="821.60" x2="487.50" y2="801.00" stroke="#000" stroke-width="1.5" />
<line x1="484.10" y1="801.00" x2="490.90" y2="801.00" stroke="#000" stroke-width="1.5" />
<rect x="395.10" y="834.50" width="9.40" height="9.40" fill="#000" stroke="none" stroke-width="0" />
<rect x="424.30" y="809.90" width="9.40" height="9.40" fill="#000" stroke="none" stroke-width="0" />
<rect x="453.70" y="794.30" width="9.40" height="9.40" fill="#000" stroke="none" stroke-width="0" />
<rect x="482.80" y="795.10" width="9.40" height="9.40" fill="#000" stroke="none" stroke-width="0" />
<text x="458.4" y="789.70" font-size="16.5" text-anchor="middle" font-weight="bold" letter-spacing="0.9">**</text>
<text x="487.5" y="789.70" font-size="16.5" text-anchor="middle" font-weight="bold">*</text>
</g>
</svg>
</body>
</html>
